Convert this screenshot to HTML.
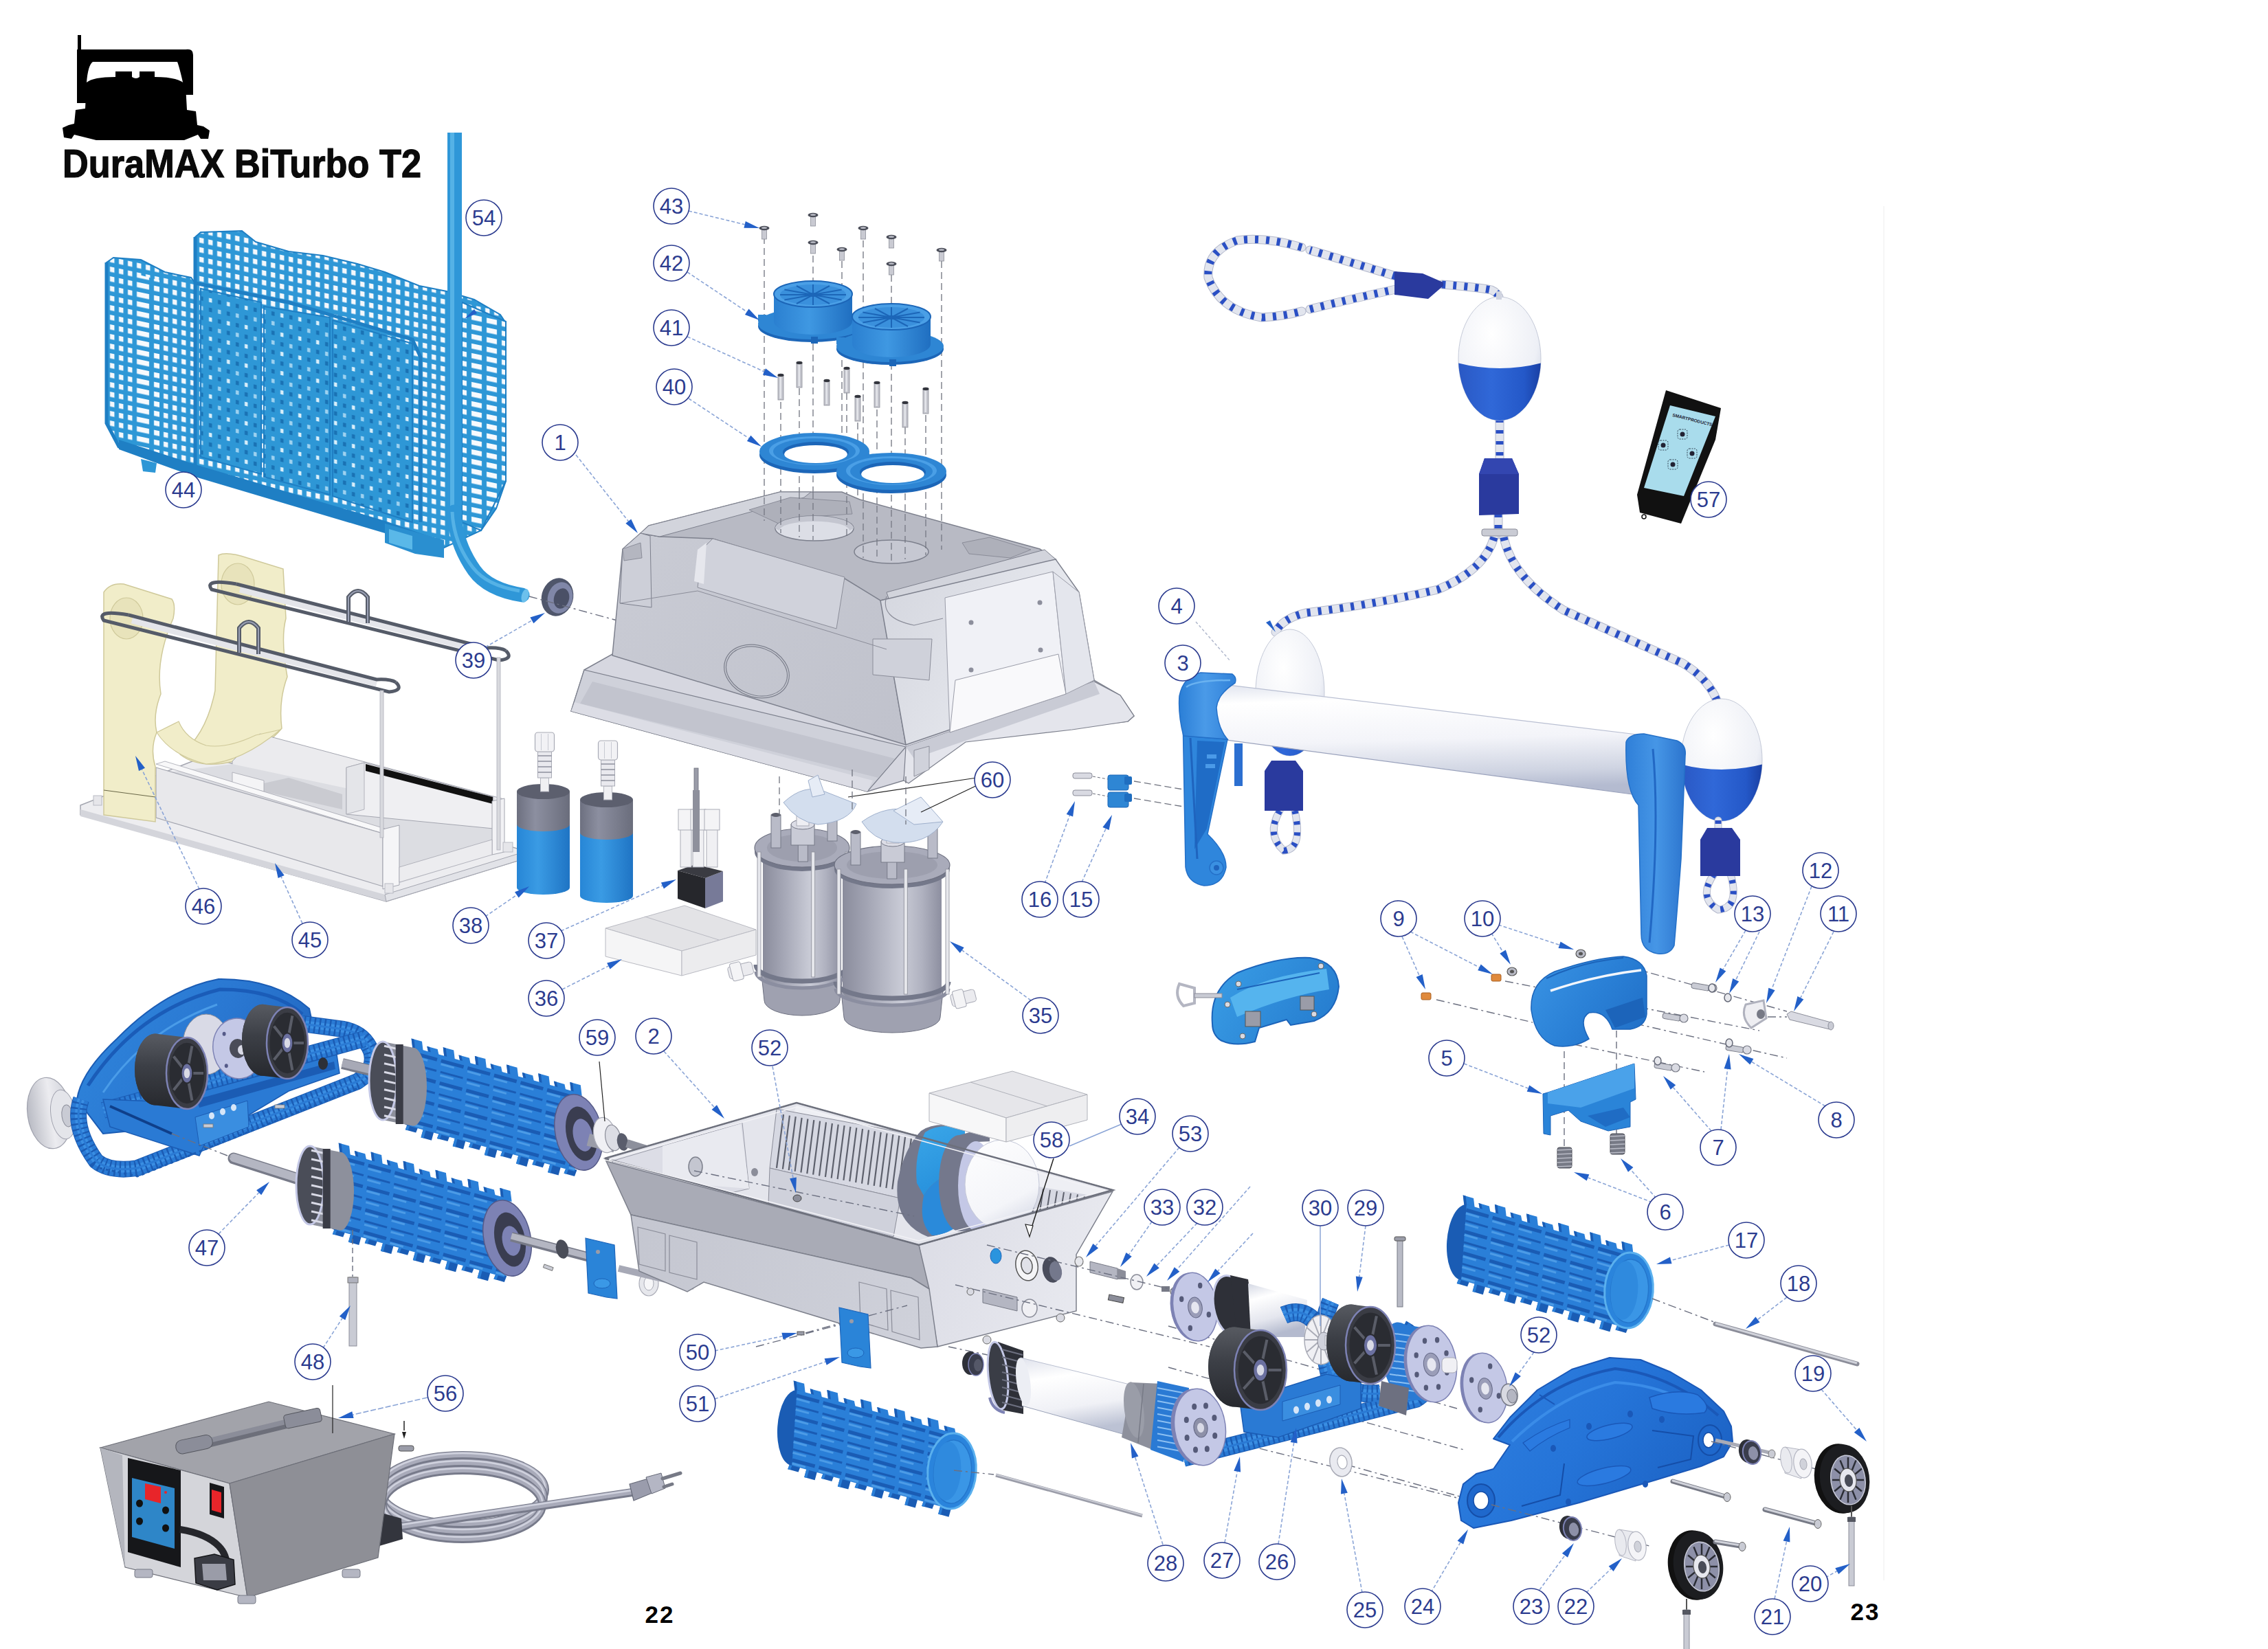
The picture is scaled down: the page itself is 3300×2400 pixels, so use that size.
<!DOCTYPE html><html><head><meta charset="utf-8"><title>DuraMAX BiTurbo T2</title><style>html,body{margin:0;padding:0;background:#fff}
svg{display:block}
text{font-family:"Liberation Sans",sans-serif}
.lb{font-size:31px;fill:#2b3b8f;text-anchor:middle}
.ttl{font-size:57px;font-weight:bold;fill:#0a0a0a;stroke:#0a0a0a;stroke-width:1.2}
.pg{font-size:35px;font-weight:bold;fill:#000;text-anchor:middle;letter-spacing:2px}
</style></head><body><svg width="3300" height="2400" viewBox="0 0 3300 2400"><defs><pattern id="mesh" width="13" height="14" patternUnits="userSpaceOnUse" patternTransform="skewY(12)"><rect width="13" height="14" fill="#2e97d6"/><rect x="4" y="4" width="6.5" height="7.5" fill="#f4f8fc"/></pattern><pattern id="mesh2" width="26" height="28" patternUnits="userSpaceOnUse" patternTransform="skewY(12)"><rect width="26" height="28" fill="#2e97d6"/><rect x="5" y="5" width="4.5" height="6" fill="#1a72b4"/><rect x="18" y="5" width="4.5" height="6" fill="#d8eefa"/><rect x="5" y="19" width="4.5" height="6" fill="#9ed2f0"/><rect x="18" y="19" width="4.5" height="6" fill="#1a72b4"/></pattern><pattern id="mesh3" width="22" height="14" patternUnits="userSpaceOnUse" patternTransform="skewY(12)"><rect width="22" height="14" fill="#2e97d6"/><rect x="4" y="4" width="15" height="7.5" fill="#f7fafd"/></pattern><linearGradient id="c38g752" x1="752" y1="0" x2="829" y2="0" gradientUnits="userSpaceOnUse"><stop offset="0" stop-color="#6d7080"/><stop offset="0.35" stop-color="#8c8fa0"/><stop offset="1" stop-color="#6a6d7c"/></linearGradient><linearGradient id="c38b752" x1="752" y1="0" x2="829" y2="0" gradientUnits="userSpaceOnUse"><stop offset="0" stop-color="#2786d6"/><stop offset="0.4" stop-color="#3a9be4"/><stop offset="1" stop-color="#1f74c4"/></linearGradient><linearGradient id="c38g844" x1="844" y1="0" x2="921" y2="0" gradientUnits="userSpaceOnUse"><stop offset="0" stop-color="#6d7080"/><stop offset="0.35" stop-color="#8c8fa0"/><stop offset="1" stop-color="#6a6d7c"/></linearGradient><linearGradient id="c38b844" x1="844" y1="0" x2="921" y2="0" gradientUnits="userSpaceOnUse"><stop offset="0" stop-color="#2786d6"/><stop offset="0.4" stop-color="#3a9be4"/><stop offset="1" stop-color="#1f74c4"/></linearGradient><linearGradient id="cap1183" x1="1125" y1="0" x2="1241" y2="0" gradientUnits="userSpaceOnUse"><stop offset="0" stop-color="#2a7fd0"/><stop offset="0.45" stop-color="#3f98e2"/><stop offset="1" stop-color="#1f6ec0"/></linearGradient><linearGradient id="cap1297" x1="1239" y1="0" x2="1355" y2="0" gradientUnits="userSpaceOnUse"><stop offset="0" stop-color="#2a7fd0"/><stop offset="0.45" stop-color="#3f98e2"/><stop offset="1" stop-color="#1f6ec0"/></linearGradient><linearGradient id="cvf" x1="900" y1="800" x2="1300" y2="1100" gradientUnits="userSpaceOnUse"><stop offset="0" stop-color="#c9cbd4"/><stop offset="1" stop-color="#c0c2cc"/></linearGradient><linearGradient id="cvr" x1="1300" y1="850" x2="1590" y2="1000" gradientUnits="userSpaceOnUse"><stop offset="0" stop-color="#d6d8e0"/><stop offset="1" stop-color="#eceef3"/></linearGradient><linearGradient id="mot0" x1="1110" y1="0" x2="1224" y2="0" gradientUnits="userSpaceOnUse"><stop offset="0" stop-color="#8a8c9c"/><stop offset="0.25" stop-color="#a3a5b4"/><stop offset="0.6" stop-color="#c9cbd6"/><stop offset="0.8" stop-color="#b0b2c0"/><stop offset="1" stop-color="#8d8fa0"/></linearGradient><linearGradient id="mot1" x1="1226" y1="0" x2="1370" y2="0" gradientUnits="userSpaceOnUse"><stop offset="0" stop-color="#8a8c9c"/><stop offset="0.25" stop-color="#a3a5b4"/><stop offset="0.6" stop-color="#c9cbd6"/><stop offset="0.8" stop-color="#b0b2c0"/><stop offset="1" stop-color="#8d8fa0"/></linearGradient><radialGradient id="fwa" cx="0.4" cy="0.3" r="0.8"><stop offset="0" stop-color="#ffffff"/><stop offset="0.7" stop-color="#eef0f6"/><stop offset="1" stop-color="#c9cfe0"/></radialGradient><linearGradient id="fba" x1="2122" y1="0" x2="2242" y2="0" gradientUnits="userSpaceOnUse"><stop offset="0" stop-color="#2a58c4"/><stop offset="0.4" stop-color="#3068d8"/><stop offset="0.8" stop-color="#2458c8"/><stop offset="1" stop-color="#1a40a4"/></linearGradient><radialGradient id="fwb" cx="0.4" cy="0.3" r="0.8"><stop offset="0" stop-color="#ffffff"/><stop offset="0.7" stop-color="#eef0f6"/><stop offset="1" stop-color="#c9cfe0"/></radialGradient><linearGradient id="fbb" x1="1827" y1="0" x2="1927" y2="0" gradientUnits="userSpaceOnUse"><stop offset="0" stop-color="#2a58c4"/><stop offset="0.4" stop-color="#3068d8"/><stop offset="0.8" stop-color="#2458c8"/><stop offset="1" stop-color="#1a40a4"/></linearGradient><linearGradient id="tube" x1="0" y1="0" x2="0.12" y2="1"><stop offset="0" stop-color="#dfe3ee"/><stop offset="0.18" stop-color="#ffffff"/><stop offset="0.55" stop-color="#f3f4f9"/><stop offset="0.85" stop-color="#cfd4e2"/><stop offset="1" stop-color="#b4bbd0"/></linearGradient><linearGradient id="lbr" x1="1715" y1="0" x2="1800" y2="0" gradientUnits="userSpaceOnUse"><stop offset="0" stop-color="#2a7ed6"/><stop offset="0.45" stop-color="#4a9ae8"/><stop offset="1" stop-color="#2f80d8"/></linearGradient><radialGradient id="fwc" cx="0.4" cy="0.3" r="0.8"><stop offset="0" stop-color="#ffffff"/><stop offset="0.7" stop-color="#eef0f6"/><stop offset="1" stop-color="#c9cfe0"/></radialGradient><linearGradient id="fbc" x1="2446" y1="0" x2="2564" y2="0" gradientUnits="userSpaceOnUse"><stop offset="0" stop-color="#2a58c4"/><stop offset="0.4" stop-color="#3068d8"/><stop offset="0.8" stop-color="#2458c8"/><stop offset="1" stop-color="#1a40a4"/></linearGradient><linearGradient id="rbr" x1="2365" y1="0" x2="2455" y2="0" gradientUnits="userSpaceOnUse"><stop offset="0" stop-color="#2f7fd8"/><stop offset="0.5" stop-color="#4696e6"/><stop offset="1" stop-color="#2a72cc"/></linearGradient><linearGradient id="lat" x1="2225" y1="1400" x2="2400" y2="1520" gradientUnits="userSpaceOnUse"><stop offset="0" stop-color="#3a94e4"/><stop offset="0.5" stop-color="#2a80d6"/><stop offset="1" stop-color="#1f6cc4"/></linearGradient><linearGradient id="lat2" x1="1760" y1="1400" x2="1950" y2="1520" gradientUnits="userSpaceOnUse"><stop offset="0" stop-color="#3a9ee6"/><stop offset="1" stop-color="#2378cc"/></linearGradient><linearGradient id="ww" x1="40" y1="0" x2="110" y2="0" gradientUnits="userSpaceOnUse"><stop offset="0" stop-color="#b9bbc4"/><stop offset="0.5" stop-color="#ececf0"/><stop offset="1" stop-color="#c9cbd4"/></linearGradient><linearGradient id="dome" x1="120" y1="1440" x2="440" y2="1640" gradientUnits="userSpaceOnUse"><stop offset="0" stop-color="#2f86dc"/><stop offset="0.5" stop-color="#2a78d2"/><stop offset="1" stop-color="#1f62bc"/></linearGradient><linearGradient id="bwa" x1="0" y1="1466" x2="0" y2="1570" gradientUnits="userSpaceOnUse"><stop offset="0" stop-color="#55585f"/><stop offset="0.4" stop-color="#3c3f46"/><stop offset="1" stop-color="#26282d"/></linearGradient><linearGradient id="bwb" x1="0" y1="1510" x2="0" y2="1614" gradientUnits="userSpaceOnUse"><stop offset="0" stop-color="#55585f"/><stop offset="0.4" stop-color="#3c3f46"/><stop offset="1" stop-color="#26282d"/></linearGradient><linearGradient id="im" x1="1330" y1="1640" x2="1400" y2="1800" gradientUnits="userSpaceOnUse"><stop offset="0" stop-color="#3aa6e8"/><stop offset="0.5" stop-color="#2a94de"/><stop offset="1" stop-color="#2a84d0"/></linearGradient><linearGradient id="imw" x1="1400" y1="1650" x2="1480" y2="1800" gradientUnits="userSpaceOnUse"><stop offset="0" stop-color="#ffffff"/><stop offset="0.7" stop-color="#f4f5f9"/><stop offset="1" stop-color="#d0d4e2"/></linearGradient><linearGradient id="chr" x1="1340" y1="1800" x2="1600" y2="1900" gradientUnits="userSpaceOnUse"><stop offset="0" stop-color="#dcdde6"/><stop offset="1" stop-color="#e9eaf0"/></linearGradient><linearGradient id="chf" x1="900" y1="1780" x2="1340" y2="1960" gradientUnits="userSpaceOnUse"><stop offset="0" stop-color="#c4c6d0"/><stop offset="1" stop-color="#cfd1da"/></linearGradient><linearGradient id="dmt" x1="0" y1="0" x2="0.3" y2="1"><stop offset="0" stop-color="#d4d8e4"/><stop offset="0.3" stop-color="#ffffff"/><stop offset="0.7" stop-color="#e4e6ee"/><stop offset="1" stop-color="#b4bace"/></linearGradient><linearGradient id="bwc" x1="0" y1="1902" x2="0" y2="2014" gradientUnits="userSpaceOnUse"><stop offset="0" stop-color="#55585f"/><stop offset="0.4" stop-color="#3c3f46"/><stop offset="1" stop-color="#26282d"/></linearGradient><linearGradient id="bwd" x1="0" y1="1936" x2="0" y2="2052" gradientUnits="userSpaceOnUse"><stop offset="0" stop-color="#55585f"/><stop offset="0.4" stop-color="#3c3f46"/><stop offset="1" stop-color="#26282d"/></linearGradient><linearGradient id="r28" x1="0" y1="0" x2="0.22" y2="1"><stop offset="0" stop-color="#dfe2ec"/><stop offset="0.3" stop-color="#ffffff"/><stop offset="0.7" stop-color="#f0f1f6"/><stop offset="1" stop-color="#bcc2d4"/></linearGradient><linearGradient id="sc" x1="2150" y1="1980" x2="2450" y2="2220" gradientUnits="userSpaceOnUse"><stop offset="0" stop-color="#2f80e0"/><stop offset="0.5" stop-color="#2574d8"/><stop offset="1" stop-color="#1c62c4"/></linearGradient></defs><rect width="3300" height="2400" fill="#fff"/><rect x="113.0" y="51.0" width="5.0" height="25.0" fill="#000" />
<path d="M112,72 L270,72 Q281,70 281,80 L281,138 L270,138 Q262,100 258,90 L135,90 Q128,95 126,120 L126,150 L112,150 Z" fill="#000" />
<path d="M126,120 Q135,112 168,112 L168,104 L192,104 L192,112 Q198,116 203,112 L203,104 L225,104 L225,112 Q262,112 270,124 L272,160 L285,162 L287,182 L296,184 L305,190 L303,202 L292,202 L288,196 L268,204 L140,204 L108,196 L104,202 L93,200 L91,186 L100,182 L108,180 L110,160 L124,158 Z" fill="#000" />
<text x="91" y="257.5" class="ttl" textLength="522" lengthAdjust="spacingAndGlyphs">DuraMAX BiTurbo T2</text>
<text x="960" y="2362" class="pg">22</text>
<text x="2714" y="2358" class="pg">23</text>
<line x1="2741.0" y1="300.0" x2="2741.0" y2="2300.0" stroke="#f3f3f3" stroke-width="1.5" />
<polygon points="284.0,345.0 292.0,338.0 352.0,336.0 372.0,352.0 420.0,366.0 470.0,372.0 520.0,384.0 560.0,396.0 610.0,416.0 650.0,424.0 690.0,436.0 728.0,458.0 736.0,470.0 736.0,700.0 722.0,740.0 700.0,772.0 640.0,800.0 610.0,792.0 560.0,772.0 284.0,690.0" fill="url(#mesh)" stroke="#1f7fc4" stroke-width="2" />
<polygon points="672.0,440.0 736.0,468.0 736.0,700.0 700.0,772.0 672.0,760.0" fill="url(#mesh3)" stroke="#1f7fc4" stroke-width="2" />
<polygon points="155.0,382.0 165.0,375.0 205.0,378.0 240.0,396.0 278.0,404.0 284.0,412.0 284.0,690.0 255.0,680.0 173.0,650.0 155.0,616.0" fill="url(#mesh)" stroke="#1f7fc4" stroke-width="2" />
<polygon points="203.0,400.0 232.0,408.0 232.0,660.0 203.0,652.0" fill="url(#mesh3)" />
<polygon points="292.0,420.0 380.0,440.0 380.0,690.0 292.0,665.0" fill="url(#mesh2)" stroke="#1f7fc4" stroke-width="2" />
<polygon points="384.0,446.0 480.0,462.0 480.0,720.0 384.0,694.0" fill="url(#mesh2)" stroke="#1f7fc4" stroke-width="2" />
<polygon points="484.0,466.0 600.0,500.0 600.0,760.0 484.0,722.0" fill="url(#mesh2)" stroke="#1f7fc4" stroke-width="2" />
<polyline points="284.0,345.0 284.0,690.0" fill="none" stroke="#1f7fc4" stroke-width="5" />
<polyline points="284.0,412.0 420.0,440.0 600.0,494.0 612.0,520.0 612.0,760.0" fill="none" stroke="#1f7fc4" stroke-width="5" />
<polyline points="155.0,382.0 155.0,616.0 173.0,650.0 284.0,690.0 560.0,772.0 640.0,800.0" fill="none" stroke="#1f7fc4" stroke-width="5" />
<polygon points="173.0,640.0 284.0,676.0 560.0,758.0 640.0,786.0 640.0,802.0 560.0,776.0 284.0,694.0 173.0,654.0" fill="#1f7fc4" />
<polygon points="205.0,668.0 228.0,674.0 226.0,688.0 208.0,686.0" fill="#2e97d6" />
<polygon points="560.0,762.0 646.0,786.0 646.0,812.0 604.0,806.0 560.0,790.0" fill="#2a8fd0" />
<polygon points="566.0,770.0 600.0,780.0 600.0,800.0 566.0,790.0" fill="#5ab8e8" />
<rect x="651.0" y="193.0" width="21.0" height="560.0" fill="#2f97d8" />
<rect x="655.0" y="193.0" width="6.0" height="560.0" fill="#55b2e6" />
<path d="M661,745 Q662,790 690,830 Q710,858 760,866" fill="none" stroke="#2f97d8" stroke-width="21" stroke-linecap="round"/>
<path d="M658,745 Q660,790 688,826 Q708,852 756,860" fill="none" stroke="#55b2e6" stroke-width="5" />
<ellipse cx="764.0" cy="867.0" rx="5.0" ry="10.0" fill="#6cc0ec" transform="rotate(15.0 764.0 867.0)" />
<ellipse cx="811.0" cy="869.0" rx="23.0" ry="28.0" fill="#4f566b" transform="rotate(15.0 811.0 869.0)" />
<ellipse cx="815.0" cy="870.0" rx="18.0" ry="23.0" fill="#8087a8" transform="rotate(15.0 815.0 870.0)" />
<ellipse cx="817.0" cy="871.0" rx="11.0" ry="15.0" fill="#4a5066" transform="rotate(15.0 817.0 871.0)" />
<line x1="770.0" y1="868.0" x2="905.0" y2="905.0" stroke="#6c7080" stroke-width="1.4" stroke-dasharray="12 5 3 5"/>
<polygon points="117.0,1172.0 300.0,1100.0 756.0,1236.0 756.0,1252.0 562.0,1312.0 117.0,1186.0" fill="#ededf0" stroke="#a4a6b0" stroke-width="1.5" />
<polygon points="117.0,1178.0 560.0,1302.0 562.0,1312.0 117.0,1188.0" fill="#d4d5db" />
<polygon points="560.0,1302.0 756.0,1242.0 756.0,1252.0 562.0,1312.0" fill="#e2e3e8" stroke="#a4a6b0" stroke-width="1" />
<path d="M318,808 Q330,802 360,812 L412,828 L416,900 Q408,930 418,985 Q405,1020 410,1060 Q390,1085 340,1108 Q290,1120 262,1098 Q300,1070 313,1005 Z" fill="#f1edc9" stroke="#cfc99a" stroke-width="1.5" />
<ellipse cx="346.0" cy="850.0" rx="24.0" ry="30.0" fill="#e8e3bb" stroke="#cfc99a" stroke-width="1.2" />
<polygon points="338.0,1108.0 378.0,1068.0 733.0,1163.0 733.0,1236.0 560.0,1200.0 338.0,1140.0" fill="#ebebee" stroke="#a4a6b0" stroke-width="1" />
<polygon points="232.0,1126.0 338.0,1112.0 733.0,1196.0 733.0,1238.0 560.0,1292.0" fill="#dcdde2" />
<polygon points="504.0,1117.0 530.0,1110.0 718.0,1160.0 718.0,1206.0 504.0,1185.0" fill="#efeff2" stroke="#a4a6b0" stroke-width="1" />
<polygon points="504.0,1117.0 530.0,1110.0 530.0,1178.0 504.0,1185.0" fill="#e4e5e9" stroke="#a4a6b0" stroke-width="0.8" />
<polygon points="532.0,1112.0 717.0,1160.0 717.0,1170.0 532.0,1122.0" fill="#111" />
<polygon points="384.0,1140.0 420.0,1132.0 498.0,1156.0 498.0,1178.0 384.0,1152.0" fill="#cacbd1" />
<polygon points="338.0,1124.0 384.0,1136.0 384.0,1152.0 338.0,1140.0" fill="#f4f4f6" stroke="#a4a6b0" stroke-width="0.8" />
<polygon points="227.0,1112.0 240.0,1108.0 560.0,1206.0 557.0,1213.0" fill="#f8f8f9" stroke="#a4a6b0" stroke-width="0.8" />
<polygon points="227.0,1117.0 557.0,1213.0 557.0,1290.0 227.0,1190.0" fill="#e8e8eb" stroke="#a4a6b0" stroke-width="1.2" />
<polygon points="557.0,1207.0 581.0,1201.0 581.0,1288.0 557.0,1294.0" fill="#f5f5f7" stroke="#a4a6b0" stroke-width="1" />
<polygon points="716.0,1166.0 734.0,1162.0 734.0,1240.0 716.0,1244.0" fill="#f2f2f5" stroke="#a4a6b0" stroke-width="1" />
<polygon points="581.0,1262.0 716.0,1222.0 716.0,1244.0 581.0,1284.0" fill="#ececef" stroke="#a4a6b0" stroke-width="0.8" />
<path d="M151,862 Q160,848 180,850 L250,872 Q256,880 252,900 Q226,960 234,1010 Q222,1040 228,1066 Q218,1090 226,1116 L226,1196 L151,1186 Z" fill="#f1edc9" stroke="#cfc99a" stroke-width="1.5" />
<ellipse cx="184.0" cy="900.0" rx="24.0" ry="30.0" fill="#e8e3bb" stroke="#cfc99a" stroke-width="1.2" />
<line x1="151.0" y1="1150.0" x2="226.0" y2="1160.0" stroke="#6a6848" stroke-width="1.2" />
<path d="M228,1066 Q250,1100 300,1112 Q350,1110 408,1062 L372,1070 Q330,1090 300,1085 Q270,1075 260,1050 Z" fill="#f1edc9" stroke="#cfc99a" stroke-width="1.2" />
<path d="M192,903 L548,995" fill="none" stroke="#e4e5ea" stroke-width="9" />
<path d="M187,895 Q139,887 151,903 L566,1007 Q588,1005 576,993" fill="none" stroke="#555b68" stroke-width="5" />
<path d="M187,895 L548,989 Q568,988 576,993" fill="none" stroke="#555b68" stroke-width="5" />
<path d="M348,950 L348,914 Q362,896 376,914 L376,952" fill="none" stroke="#555b68" stroke-width="6" />
<path d="M348,950 L348,914 Q362,896 376,914 L376,952" fill="none" stroke="#9aa0b4" stroke-width="2" />
<path d="M349,858 L708,949" fill="none" stroke="#e4e5ea" stroke-width="9" />
<path d="M344,850 Q296,842 308,858 L726,961 Q748,959 736,947" fill="none" stroke="#555b68" stroke-width="5" />
<path d="M344,850 L708,943 Q728,942 736,947" fill="none" stroke="#555b68" stroke-width="5" />
<path d="M507,905 L507,869 Q521,851 535,869 L535,907" fill="none" stroke="#555b68" stroke-width="6" />
<path d="M507,905 L507,869 Q521,851 535,869 L535,907" fill="none" stroke="#9aa0b4" stroke-width="2" />
<rect x="553.0" y="1005.0" width="5.0" height="214.0" fill="#d8d9de" stroke="#aeb0ba" stroke-width="0.8" />
<rect x="723.0" y="957.0" width="5.0" height="280.0" fill="#d8d9de" stroke="#aeb0ba" stroke-width="0.8" />
<rect x="136.0" y="1158.0" width="12.0" height="14.0" fill="#e6e6ea" stroke="#b9bbc4" stroke-width="1" />
<rect x="732.0" y="1226.0" width="14.0" height="14.0" fill="#e6e6ea" stroke="#b9bbc4" stroke-width="1" />
<rect x="560.0" y="1286.0" width="12.0" height="14.0" fill="#e6e6ea" stroke="#b9bbc4" stroke-width="1" />
<path d="M752,1200 L752,1292 A38.5,10 0 0 0 829,1292 L829,1200 Z" fill="url(#c38b752)" />
<path d="M752,1152 L752,1200 A38.5,10 0 0 0 829,1200 L829,1152 Z" fill="url(#c38g752)" />
<ellipse cx="790.5" cy="1152.0" rx="38.5" ry="11.0" fill="#5c5f6e" />
<rect x="786.5" y="1132.0" width="12.0" height="20.0" fill="#f0f0f3" stroke="#b5b7c0" stroke-width="1" />
<rect x="782.5" y="1094.0" width="20.0" height="38.0" fill="#e9e9ee" stroke="#a9abb6" stroke-width="1" />
<line x1="782.5" y1="1100.0" x2="802.5" y2="1100.0" stroke="#8d8f9c" stroke-width="1.5" />
<line x1="782.5" y1="1108.0" x2="802.5" y2="1108.0" stroke="#8d8f9c" stroke-width="1.5" />
<line x1="782.5" y1="1116.0" x2="802.5" y2="1116.0" stroke="#8d8f9c" stroke-width="1.5" />
<line x1="782.5" y1="1124.0" x2="802.5" y2="1124.0" stroke="#8d8f9c" stroke-width="1.5" />
<rect x="778.5" y="1066.0" width="28.0" height="28.0" fill="#f2f2f5" stroke="#a9abb6" stroke-width="1.2" rx="4"/>
<line x1="787.5" y1="1068.0" x2="787.5" y2="1092.0" stroke="#c8cad2" stroke-width="1" />
<line x1="797.5" y1="1068.0" x2="797.5" y2="1092.0" stroke="#c8cad2" stroke-width="1" />
<path d="M844,1212 L844,1304 A38.5,10 0 0 0 921,1304 L921,1212 Z" fill="url(#c38b844)" />
<path d="M844,1164 L844,1212 A38.5,10 0 0 0 921,1212 L921,1164 Z" fill="url(#c38g844)" />
<ellipse cx="882.5" cy="1164.0" rx="38.5" ry="11.0" fill="#5c5f6e" />
<rect x="878.5" y="1144.0" width="12.0" height="20.0" fill="#f0f0f3" stroke="#b5b7c0" stroke-width="1" />
<rect x="874.5" y="1106.0" width="20.0" height="38.0" fill="#e9e9ee" stroke="#a9abb6" stroke-width="1" />
<line x1="874.5" y1="1112.0" x2="894.5" y2="1112.0" stroke="#8d8f9c" stroke-width="1.5" />
<line x1="874.5" y1="1120.0" x2="894.5" y2="1120.0" stroke="#8d8f9c" stroke-width="1.5" />
<line x1="874.5" y1="1128.0" x2="894.5" y2="1128.0" stroke="#8d8f9c" stroke-width="1.5" />
<line x1="874.5" y1="1136.0" x2="894.5" y2="1136.0" stroke="#8d8f9c" stroke-width="1.5" />
<rect x="870.5" y="1078.0" width="28.0" height="28.0" fill="#f2f2f5" stroke="#a9abb6" stroke-width="1.2" rx="4"/>
<line x1="879.5" y1="1080.0" x2="879.5" y2="1104.0" stroke="#c8cad2" stroke-width="1" />
<line x1="889.5" y1="1080.0" x2="889.5" y2="1104.0" stroke="#c8cad2" stroke-width="1" />
<line x1="1112.0" y1="345.0" x2="1112.0" y2="760.0" stroke="#70737f" stroke-width="1.3" stroke-dasharray="10 6"/>
<line x1="1183.0" y1="372.0" x2="1183.0" y2="790.0" stroke="#70737f" stroke-width="1.3" stroke-dasharray="10 6"/>
<line x1="1225.0" y1="380.0" x2="1225.0" y2="700.0" stroke="#70737f" stroke-width="1.3" stroke-dasharray="10 6"/>
<line x1="1256.0" y1="350.0" x2="1256.0" y2="790.0" stroke="#70737f" stroke-width="1.3" stroke-dasharray="10 6"/>
<line x1="1297.0" y1="400.0" x2="1297.0" y2="810.0" stroke="#70737f" stroke-width="1.3" stroke-dasharray="10 6"/>
<line x1="1370.0" y1="380.0" x2="1370.0" y2="830.0" stroke="#70737f" stroke-width="1.3" stroke-dasharray="10 6"/>
<line x1="1136.0" y1="585.0" x2="1136.0" y2="800.0" stroke="#70737f" stroke-width="1.3" stroke-dasharray="10 6"/>
<line x1="1163.0" y1="565.0" x2="1163.0" y2="800.0" stroke="#70737f" stroke-width="1.3" stroke-dasharray="10 6"/>
<line x1="1232.0" y1="572.0" x2="1232.0" y2="800.0" stroke="#70737f" stroke-width="1.3" stroke-dasharray="10 6"/>
<line x1="1248.0" y1="615.0" x2="1248.0" y2="830.0" stroke="#70737f" stroke-width="1.3" stroke-dasharray="10 6"/>
<line x1="1276.0" y1="596.0" x2="1276.0" y2="830.0" stroke="#70737f" stroke-width="1.3" stroke-dasharray="10 6"/>
<line x1="1317.0" y1="622.0" x2="1317.0" y2="830.0" stroke="#70737f" stroke-width="1.3" stroke-dasharray="10 6"/>
<line x1="1347.0" y1="604.0" x2="1347.0" y2="830.0" stroke="#70737f" stroke-width="1.3" stroke-dasharray="10 6"/>
<rect x="1108.5" y="332.0" width="7.0" height="16.0" fill="#c9cad2" stroke="#8d8f9a" stroke-width="0.8" />
<ellipse cx="1112.0" cy="332.0" rx="7.5" ry="3.2" fill="#4a4d58" />
<ellipse cx="1112.0" cy="331.5" rx="4.0" ry="1.6" fill="#b0b2bc" />
<rect x="1179.5" y="313.0" width="7.0" height="16.0" fill="#c9cad2" stroke="#8d8f9a" stroke-width="0.8" />
<ellipse cx="1183.0" cy="313.0" rx="7.5" ry="3.2" fill="#4a4d58" />
<ellipse cx="1183.0" cy="312.5" rx="4.0" ry="1.6" fill="#b0b2bc" />
<rect x="1179.5" y="353.0" width="7.0" height="16.0" fill="#c9cad2" stroke="#8d8f9a" stroke-width="0.8" />
<ellipse cx="1183.0" cy="353.0" rx="7.5" ry="3.2" fill="#4a4d58" />
<ellipse cx="1183.0" cy="352.5" rx="4.0" ry="1.6" fill="#b0b2bc" />
<rect x="1221.5" y="363.0" width="7.0" height="16.0" fill="#c9cad2" stroke="#8d8f9a" stroke-width="0.8" />
<ellipse cx="1225.0" cy="363.0" rx="7.5" ry="3.2" fill="#4a4d58" />
<ellipse cx="1225.0" cy="362.5" rx="4.0" ry="1.6" fill="#b0b2bc" />
<rect x="1252.5" y="332.0" width="7.0" height="16.0" fill="#c9cad2" stroke="#8d8f9a" stroke-width="0.8" />
<ellipse cx="1256.0" cy="332.0" rx="7.5" ry="3.2" fill="#4a4d58" />
<ellipse cx="1256.0" cy="331.5" rx="4.0" ry="1.6" fill="#b0b2bc" />
<rect x="1293.5" y="345.0" width="7.0" height="16.0" fill="#c9cad2" stroke="#8d8f9a" stroke-width="0.8" />
<ellipse cx="1297.0" cy="345.0" rx="7.5" ry="3.2" fill="#4a4d58" />
<ellipse cx="1297.0" cy="344.5" rx="4.0" ry="1.6" fill="#b0b2bc" />
<rect x="1293.5" y="384.0" width="7.0" height="16.0" fill="#c9cad2" stroke="#8d8f9a" stroke-width="0.8" />
<ellipse cx="1297.0" cy="384.0" rx="7.5" ry="3.2" fill="#4a4d58" />
<ellipse cx="1297.0" cy="383.5" rx="4.0" ry="1.6" fill="#b0b2bc" />
<rect x="1366.5" y="364.0" width="7.0" height="16.0" fill="#c9cad2" stroke="#8d8f9a" stroke-width="0.8" />
<ellipse cx="1370.0" cy="364.0" rx="7.5" ry="3.2" fill="#4a4d58" />
<ellipse cx="1370.0" cy="363.5" rx="4.0" ry="1.6" fill="#b0b2bc" />
<ellipse cx="1181.0" cy="475.0" rx="78.0" ry="23.0" fill="#1c66b8" />
<ellipse cx="1181.0" cy="471.0" rx="78.0" ry="23.0" fill="#2e86d4" />
<rect x="1180.0" y="490.0" width="10.0" height="10.0" fill="#1c66b8" />
<rect x="1103.0" y="458.0" width="12.0" height="10.0" fill="#2e86d4" />
<path d="M1126,428 L1126,468 A57,19 0 0 0 1240,468 L1240,428 Z" fill="url(#cap1183)" />
<ellipse cx="1183.0" cy="428.0" rx="57.0" ry="19.0" fill="#4a9fe6" stroke="#1c66b8" stroke-width="2" />
<ellipse cx="1183.0" cy="429.0" rx="48.0" ry="15.0" fill="#3a90dc" />
<line x1="1135.0" y1="429.0" x2="1231.0" y2="429.0" stroke="#1c66b8" stroke-width="2" />
<line x1="1141.4" y1="421.5" x2="1224.6" y2="436.5" stroke="#1c66b8" stroke-width="2" />
<line x1="1159.0" y1="416.0" x2="1207.0" y2="442.0" stroke="#1c66b8" stroke-width="2" />
<line x1="1183.0" y1="414.0" x2="1183.0" y2="444.0" stroke="#1c66b8" stroke-width="2" />
<line x1="1207.0" y1="416.0" x2="1159.0" y2="442.0" stroke="#1c66b8" stroke-width="2" />
<line x1="1224.6" y1="421.5" x2="1141.4" y2="436.5" stroke="#1c66b8" stroke-width="2" />
<ellipse cx="1183.0" cy="429.0" rx="8.0" ry="3.0" fill="#1c66b8" />
<ellipse cx="1295.0" cy="508.0" rx="78.0" ry="23.0" fill="#1c66b8" />
<ellipse cx="1295.0" cy="504.0" rx="78.0" ry="23.0" fill="#2e86d4" />
<rect x="1294.0" y="523.0" width="10.0" height="10.0" fill="#1c66b8" />
<rect x="1217.0" y="491.0" width="12.0" height="10.0" fill="#2e86d4" />
<path d="M1240,461 L1240,501 A57,19 0 0 0 1354,501 L1354,461 Z" fill="url(#cap1297)" />
<ellipse cx="1297.0" cy="461.0" rx="57.0" ry="19.0" fill="#4a9fe6" stroke="#1c66b8" stroke-width="2" />
<ellipse cx="1297.0" cy="462.0" rx="48.0" ry="15.0" fill="#3a90dc" />
<line x1="1249.0" y1="462.0" x2="1345.0" y2="462.0" stroke="#1c66b8" stroke-width="2" />
<line x1="1255.4" y1="454.5" x2="1338.6" y2="469.5" stroke="#1c66b8" stroke-width="2" />
<line x1="1273.0" y1="449.0" x2="1321.0" y2="475.0" stroke="#1c66b8" stroke-width="2" />
<line x1="1297.0" y1="447.0" x2="1297.0" y2="477.0" stroke="#1c66b8" stroke-width="2" />
<line x1="1321.0" y1="449.0" x2="1273.0" y2="475.0" stroke="#1c66b8" stroke-width="2" />
<line x1="1338.6" y1="454.5" x2="1255.4" y2="469.5" stroke="#1c66b8" stroke-width="2" />
<ellipse cx="1297.0" cy="462.0" rx="8.0" ry="3.0" fill="#1c66b8" />
<rect x="1132.0" y="546.0" width="8.0" height="36.0" fill="#c3c4cc" stroke="#8d8f9a" stroke-width="0.8" />
<rect x="1134.5" y="548.0" width="2.5" height="32.0" fill="#e4e5ea" />
<ellipse cx="1136.0" cy="546.0" rx="4.5" ry="2.2" fill="#33353d" />
<rect x="1159.0" y="528.0" width="8.0" height="36.0" fill="#c3c4cc" stroke="#8d8f9a" stroke-width="0.8" />
<rect x="1161.5" y="530.0" width="2.5" height="32.0" fill="#e4e5ea" />
<ellipse cx="1163.0" cy="528.0" rx="4.5" ry="2.2" fill="#33353d" />
<rect x="1199.0" y="554.0" width="8.0" height="36.0" fill="#c3c4cc" stroke="#8d8f9a" stroke-width="0.8" />
<rect x="1201.5" y="556.0" width="2.5" height="32.0" fill="#e4e5ea" />
<ellipse cx="1203.0" cy="554.0" rx="4.5" ry="2.2" fill="#33353d" />
<rect x="1228.0" y="536.0" width="8.0" height="36.0" fill="#c3c4cc" stroke="#8d8f9a" stroke-width="0.8" />
<rect x="1230.5" y="538.0" width="2.5" height="32.0" fill="#e4e5ea" />
<ellipse cx="1232.0" cy="536.0" rx="4.5" ry="2.2" fill="#33353d" />
<rect x="1244.0" y="577.0" width="8.0" height="36.0" fill="#c3c4cc" stroke="#8d8f9a" stroke-width="0.8" />
<rect x="1246.5" y="579.0" width="2.5" height="32.0" fill="#e4e5ea" />
<ellipse cx="1248.0" cy="577.0" rx="4.5" ry="2.2" fill="#33353d" />
<rect x="1272.0" y="557.0" width="8.0" height="36.0" fill="#c3c4cc" stroke="#8d8f9a" stroke-width="0.8" />
<rect x="1274.5" y="559.0" width="2.5" height="32.0" fill="#e4e5ea" />
<ellipse cx="1276.0" cy="557.0" rx="4.5" ry="2.2" fill="#33353d" />
<rect x="1313.0" y="586.0" width="8.0" height="36.0" fill="#c3c4cc" stroke="#8d8f9a" stroke-width="0.8" />
<rect x="1315.5" y="588.0" width="2.5" height="32.0" fill="#e4e5ea" />
<ellipse cx="1317.0" cy="586.0" rx="4.5" ry="2.2" fill="#33353d" />
<rect x="1343.0" y="566.0" width="8.0" height="36.0" fill="#c3c4cc" stroke="#8d8f9a" stroke-width="0.8" />
<rect x="1345.5" y="568.0" width="2.5" height="32.0" fill="#e4e5ea" />
<ellipse cx="1347.0" cy="566.0" rx="4.5" ry="2.2" fill="#33353d" />
<ellipse cx="1185.0" cy="662.0" rx="80.0" ry="27.0" fill="#1c66b8" />
<ellipse cx="1185.0" cy="657.0" rx="80.0" ry="27.0" fill="#2e86d4" />
<ellipse cx="1185.0" cy="656.0" rx="66.0" ry="21.0" fill="#4a9fe6" />
<ellipse cx="1185.0" cy="657.0" rx="60.0" ry="19.0" fill="#2e86d4" />
<ellipse cx="1187.0" cy="658.0" rx="48.0" ry="15.0" fill="#1c66b8" />
<ellipse cx="1187.0" cy="661.0" rx="46.0" ry="13.0" fill="#fff" />
<ellipse cx="1297.0" cy="691.0" rx="80.0" ry="27.0" fill="#1c66b8" />
<ellipse cx="1297.0" cy="686.0" rx="80.0" ry="27.0" fill="#2e86d4" />
<ellipse cx="1297.0" cy="685.0" rx="66.0" ry="21.0" fill="#4a9fe6" />
<ellipse cx="1297.0" cy="686.0" rx="60.0" ry="19.0" fill="#2e86d4" />
<ellipse cx="1299.0" cy="687.0" rx="48.0" ry="15.0" fill="#1c66b8" />
<ellipse cx="1299.0" cy="690.0" rx="46.0" ry="13.0" fill="#fff" />
<polygon points="850.0,975.0 891.0,952.0 1318.0,1082.0 1592.0,990.0 1630.0,1012.0 1650.0,1042.0 1641.0,1050.0 1405.0,1078.0 1320.0,1090.0 1315.0,1136.0 1262.0,1152.0 831.0,1035.0" fill="#d6d7e0" stroke="#7d808d" stroke-width="1.5" />
<polygon points="831.0,1035.0 850.0,975.0 1318.0,1087.0 1262.0,1152.0" fill="#cfd1da" stroke="#7d808d" stroke-width="1.2" />
<polygon points="862.0,992.0 1302.0,1104.0 1278.0,1132.0 844.0,1024.0" fill="#c2c4ce" />
<polygon points="836.0,1022.0 1270.0,1136.0 1262.0,1152.0 831.0,1035.0" fill="#dcdde5" />
<polygon points="1318.0,1087.0 1592.0,992.0 1630.0,1012.0 1650.0,1042.0 1641.0,1050.0 1560.0,1062.0 1405.0,1080.0 1322.0,1140.0 1315.0,1136.0" fill="#e4e5ec" stroke="#7d808d" stroke-width="1.2" />
<polygon points="1318.0,1087.0 1592.0,992.0 1600.0,1010.0 1330.0,1104.0" fill="#c9cbd5" />
<polygon points="1330.0,1092.0 1352.0,1086.0 1352.0,1120.0 1330.0,1130.0" fill="#d0d2db" stroke="#7d808d" stroke-width="0.8" />
<polygon points="906.0,799.0 932.0,776.0 960.0,781.0 1037.0,782.0 1229.0,836.0 1281.0,870.0 1318.0,1084.0 891.0,954.0" fill="url(#cvf)" stroke="#7d808d" stroke-width="1.5" />
<polygon points="932.0,776.0 944.0,765.0 1135.0,716.0 1225.0,716.0 1251.0,727.0 1513.0,799.0 1536.0,814.0 1281.0,874.0 1229.0,842.0 1037.0,784.0 960.0,781.0" fill="#b8bac4" stroke="#7d808d" stroke-width="1.5" />
<polygon points="932.0,776.0 944.0,765.0 1135.0,716.0 1180.0,716.0 1170.0,724.0 960.0,781.0" fill="#d2d4dc" stroke="#7d808d" stroke-width="1" />
<polygon points="1090.0,742.0 1150.0,724.0 1236.0,730.0 1240.0,748.0 1180.0,752.0 1150.0,770.0" fill="#aeb0ba" stroke="#8b8d99" stroke-width="1" />
<polygon points="1400.0,790.0 1440.0,782.0 1500.0,800.0 1470.0,812.0 1410.0,806.0" fill="#aeb0ba" stroke="#8b8d99" stroke-width="1" />
<polygon points="1290.0,862.0 1520.0,800.0 1536.0,814.0 1296.0,880.0" fill="#d2d4dc" stroke="#7d808d" stroke-width="1" />
<polygon points="906.0,799.0 932.0,776.0 946.0,780.0 948.0,884.0 902.0,878.0" fill="#cdcfd8" stroke="#7d808d" stroke-width="1" />
<polygon points="906.0,799.0 932.0,790.0 934.0,812.0 908.0,816.0" fill="#b4b6c0" stroke="#7d808d" stroke-width="0.8" />
<polygon points="1281.0,874.0 1536.0,814.0 1570.0,862.0 1592.0,990.0 1318.0,1084.0" fill="url(#cvr)" stroke="#7d808d" stroke-width="1.5" />
<polygon points="1375.0,870.0 1532.0,832.0 1551.0,1010.0 1382.0,1066.0" fill="#f0f1f6" stroke="#9a9ca8" stroke-width="1" />
<polygon points="1390.0,990.0 1540.0,952.0 1551.0,1010.0 1382.0,1066.0" fill="#f9f9fb" stroke="#9a9ca8" stroke-width="1" />
<polygon points="1532.0,832.0 1570.0,862.0 1592.0,990.0 1551.0,1010.0" fill="#e4e6ed" stroke="#9a9ca8" stroke-width="1" />
<polygon points="1270.0,930.0 1356.0,930.0 1352.0,990.0 1270.0,982.0" fill="#cfd1da" stroke="#8b8d99" stroke-width="1" />
<path d="M1290,868 Q1280,900 1330,910 L1372,900" fill="none" stroke="#8b8d99" stroke-width="1.2" />
<ellipse cx="1413.0" cy="906.0" rx="3.5" ry="3.5" fill="#8d8f9c" />
<ellipse cx="1513.0" cy="877.0" rx="3.5" ry="3.5" fill="#8d8f9c" />
<ellipse cx="1413.0" cy="975.0" rx="3.5" ry="3.5" fill="#8d8f9c" />
<ellipse cx="1514.0" cy="946.0" rx="3.5" ry="3.5" fill="#8d8f9c" />
<polygon points="1022.0,799.0 1037.0,784.0 1229.0,840.0 1217.0,915.0 1015.0,855.0" fill="#d0d2db" stroke="#8b8d99" stroke-width="1" />
<polygon points="1015.0,800.0 1028.0,790.0 1024.0,850.0 1010.0,846.0" fill="#e6e7ed" />
<polyline points="902.0,878.0 1015.0,860.0 1290.0,945.0" fill="none" stroke="#8b8d99" stroke-width="1" />
<ellipse cx="1185.0" cy="769.0" rx="57.0" ry="18.0" fill="#dcdee6" stroke="#7d808d" stroke-width="1.5" />
<path d="M1128,769 A57,18 0 0 1 1242,769 L1236,772 A50,13 0 0 0 1134,772 Z" fill="#c4c6d0" />
<ellipse cx="1297.0" cy="803.0" rx="54.0" ry="17.0" fill="#c6c8d2" stroke="#7d808d" stroke-width="1.5" />
<line x1="1136.0" y1="722.0" x2="1136.0" y2="776.0" stroke="#70737f" stroke-width="1.2" stroke-dasharray="10 6"/>
<line x1="1163.0" y1="716.0" x2="1163.0" y2="782.0" stroke="#70737f" stroke-width="1.2" stroke-dasharray="10 6"/>
<line x1="1183.0" y1="716.0" x2="1183.0" y2="786.0" stroke="#70737f" stroke-width="1.2" stroke-dasharray="10 6"/>
<line x1="1232.0" y1="722.0" x2="1232.0" y2="780.0" stroke="#70737f" stroke-width="1.2" stroke-dasharray="10 6"/>
<line x1="1256.0" y1="730.0" x2="1256.0" y2="812.0" stroke="#70737f" stroke-width="1.2" stroke-dasharray="10 6"/>
<line x1="1276.0" y1="736.0" x2="1276.0" y2="816.0" stroke="#70737f" stroke-width="1.2" stroke-dasharray="10 6"/>
<line x1="1297.0" y1="742.0" x2="1297.0" y2="818.0" stroke="#70737f" stroke-width="1.2" stroke-dasharray="10 6"/>
<line x1="1317.0" y1="748.0" x2="1317.0" y2="814.0" stroke="#70737f" stroke-width="1.2" stroke-dasharray="10 6"/>
<line x1="1347.0" y1="756.0" x2="1347.0" y2="808.0" stroke="#70737f" stroke-width="1.2" stroke-dasharray="10 6"/>
<line x1="1112.0" y1="724.0" x2="1112.0" y2="758.0" stroke="#70737f" stroke-width="1.2" stroke-dasharray="10 6"/>
<line x1="1370.0" y1="762.0" x2="1370.0" y2="800.0" stroke="#70737f" stroke-width="1.2" stroke-dasharray="10 6"/>
<ellipse cx="1101.0" cy="977.0" rx="47.0" ry="36.0" fill="none" stroke="#7d808d" stroke-width="4" transform="rotate(20.0 1101.0 977.0)" />
<ellipse cx="1101.0" cy="977.0" rx="47.0" ry="36.0" fill="none" stroke="#c9cbd4" stroke-width="1.5" transform="rotate(20.0 1101.0 977.0)" />
<line x1="838.0" y1="662.0" x2="914.4" y2="758.7" stroke="#8aa4d6" stroke-width="1.6"  stroke-dasharray="5 3"/>
<polygon points="928.0,776.0 910.4,761.8 918.3,755.6" fill="#2360c8" />
<polygon points="881.0,1351.0 996.0,1318.0 1100.0,1353.0 992.0,1384.0" fill="#e3e3e6" stroke="#b9bac2" stroke-width="1" />
<polygon points="881.0,1351.0 992.0,1384.0 992.0,1420.0 881.0,1392.0" fill="#f5f5f6" stroke="#b9bac2" stroke-width="1" />
<polygon points="992.0,1384.0 1100.0,1353.0 1100.0,1390.0 992.0,1420.0" fill="#ececee" stroke="#b9bac2" stroke-width="1" />
<line x1="938.0" y1="1334.0" x2="1046.0" y2="1368.0" stroke="#b9bac2" stroke-width="1" />
<polygon points="986.0,1267.0 1026.0,1278.0 1026.0,1322.0 986.0,1308.0" fill="#26272c" />
<polygon points="1026.0,1278.0 1052.0,1268.0 1052.0,1312.0 1026.0,1322.0" fill="#777a98" />
<polygon points="986.0,1267.0 1012.0,1258.0 1052.0,1268.0 1026.0,1278.0" fill="#3a3b42" />
<rect x="990.0" y="1206.0" width="16.0" height="56.0" fill="#f0f0f3" stroke="#a9abb6" stroke-width="1" />
<rect x="987.0" y="1178.0" width="22.0" height="30.0" fill="#f4f4f6" stroke="#a9abb6" stroke-width="1" />
<rect x="1008.0" y="1206.0" width="16.0" height="56.0" fill="#f0f0f3" stroke="#a9abb6" stroke-width="1" />
<rect x="1005.0" y="1178.0" width="22.0" height="30.0" fill="#f4f4f6" stroke="#a9abb6" stroke-width="1" />
<rect x="1028.0" y="1206.0" width="16.0" height="56.0" fill="#f0f0f3" stroke="#a9abb6" stroke-width="1" />
<rect x="1025.0" y="1178.0" width="22.0" height="30.0" fill="#f4f4f6" stroke="#a9abb6" stroke-width="1" />
<rect x="1010.0" y="1118.0" width="6.0" height="80.0" fill="#9a9ca8" stroke="#6d6f7a" stroke-width="0.8" />
<rect x="1008.0" y="1150.0" width="10.0" height="90.0" fill="#8e909c" />
<rect x="1058.0" y="1408.0" width="36.0" height="18.0" fill="#ebebef" stroke="#a9abb6" stroke-width="1" rx="4" transform="rotate(-14 1058 1408)"/>
<rect x="1062.0" y="1404.0" width="16.0" height="26.0" fill="#f4f4f6" stroke="#a9abb6" stroke-width="1" rx="3" transform="rotate(-14 1058 1408)"/>
<rect x="1382.0" y="1448.0" width="36.0" height="18.0" fill="#ebebef" stroke="#a9abb6" stroke-width="1" rx="4" transform="rotate(-14 1382 1448)"/>
<rect x="1386.0" y="1444.0" width="16.0" height="26.0" fill="#f4f4f6" stroke="#a9abb6" stroke-width="1" rx="3" transform="rotate(-14 1382 1448)"/>
<path d="M1108,1418 L1112,1456 A55.0,22 0 0 0 1222,1456 L1226,1418 Z" fill="#9fa1b0" stroke="#6d7080" stroke-width="1" />
<path d="M1110,1246 L1110,1418 A57.0,20 0 0 0 1224,1418 L1224,1246 Z" fill="url(#mot0)" />
<path d="M1100,1404 A67.0,24 0 0 0 1234,1404" fill="none" stroke="#74788a" stroke-width="7" />
<path d="M1100,1414 A67.0,24 0 0 0 1234,1414" fill="none" stroke="#8b8ea0" stroke-width="5" />
<ellipse cx="1167.0" cy="1240.0" rx="69.0" ry="28.0" fill="#74788a" />
<ellipse cx="1167.0" cy="1234.0" rx="69.0" ry="28.0" fill="#a9abba" stroke="#6d7080" stroke-width="1.2" />
<ellipse cx="1167.0" cy="1234.0" rx="51.0" ry="20.0" fill="#9d9fae" />
<rect x="1102.0" y="1240.0" width="5.0" height="182.0" fill="#e6e7ec" stroke="#8b8d99" stroke-width="0.8" />
<rect x="1180.7" y="1240.0" width="5.0" height="182.0" fill="#e6e7ec" stroke="#8b8d99" stroke-width="0.8" />
<rect x="1230.0" y="1240.0" width="5.0" height="182.0" fill="#e6e7ec" stroke="#8b8d99" stroke-width="0.8" />
<rect x="1122.0" y="1186.0" width="14.0" height="48.0" fill="#b9bbc8" stroke="#777a88" stroke-width="1" />
<ellipse cx="1129.0" cy="1186.0" rx="7.0" ry="3.0" fill="#5d5f6c" />
<rect x="1204.0" y="1176.0" width="14.0" height="48.0" fill="#b9bbc8" stroke="#777a88" stroke-width="1" />
<ellipse cx="1211.0" cy="1176.0" rx="7.0" ry="3.0" fill="#5d5f6c" />
<rect x="1161.3" y="1206.0" width="14.0" height="48.0" fill="#b9bbc8" stroke="#777a88" stroke-width="1" />
<ellipse cx="1168.3" cy="1206.0" rx="7.0" ry="3.0" fill="#5d5f6c" />
<rect x="1151.0" y="1200.0" width="34.0" height="30.0" fill="#c9cbd6" stroke="#777a88" stroke-width="1" />
<ellipse cx="1168.0" cy="1200.0" rx="17.0" ry="7.0" fill="#dcdde6" stroke="#777a88" stroke-width="1" />
<rect x="1159.0" y="1176.0" width="18.0" height="26.0" fill="#eeeef3" stroke="#a9abb6" stroke-width="1" />
<path d="M1224,1443 L1228,1481 A70.0,22 0 0 0 1368,1481 L1372,1443 Z" fill="#9fa1b0" stroke="#6d7080" stroke-width="1" />
<path d="M1226,1271 L1226,1443 A72.0,20 0 0 0 1370,1443 L1370,1271 Z" fill="url(#mot1)" />
<path d="M1216,1429 A82.0,24 0 0 0 1380,1429" fill="none" stroke="#74788a" stroke-width="7" />
<path d="M1216,1439 A82.0,24 0 0 0 1380,1439" fill="none" stroke="#8b8ea0" stroke-width="5" />
<ellipse cx="1298.0" cy="1265.0" rx="84.0" ry="28.0" fill="#74788a" />
<ellipse cx="1298.0" cy="1259.0" rx="84.0" ry="28.0" fill="#a9abba" stroke="#6d7080" stroke-width="1.2" />
<ellipse cx="1298.0" cy="1259.0" rx="66.0" ry="20.0" fill="#9d9fae" />
<rect x="1218.0" y="1265.0" width="5.0" height="182.0" fill="#e6e7ec" stroke="#8b8d99" stroke-width="0.8" />
<rect x="1315.3" y="1265.0" width="5.0" height="182.0" fill="#e6e7ec" stroke="#8b8d99" stroke-width="0.8" />
<rect x="1376.0" y="1265.0" width="5.0" height="182.0" fill="#e6e7ec" stroke="#8b8d99" stroke-width="0.8" />
<rect x="1238.0" y="1211.0" width="14.0" height="48.0" fill="#b9bbc8" stroke="#777a88" stroke-width="1" />
<ellipse cx="1245.0" cy="1211.0" rx="7.0" ry="3.0" fill="#5d5f6c" />
<rect x="1350.0" y="1201.0" width="14.0" height="48.0" fill="#b9bbc8" stroke="#777a88" stroke-width="1" />
<ellipse cx="1357.0" cy="1201.0" rx="7.0" ry="3.0" fill="#5d5f6c" />
<rect x="1290.8" y="1231.0" width="14.0" height="48.0" fill="#b9bbc8" stroke="#777a88" stroke-width="1" />
<ellipse cx="1297.8" cy="1231.0" rx="7.0" ry="3.0" fill="#5d5f6c" />
<rect x="1282.0" y="1225.0" width="34.0" height="30.0" fill="#c9cbd6" stroke="#777a88" stroke-width="1" />
<ellipse cx="1299.0" cy="1225.0" rx="17.0" ry="7.0" fill="#dcdde6" stroke="#777a88" stroke-width="1" />
<rect x="1290.0" y="1201.0" width="18.0" height="26.0" fill="#eeeef3" stroke="#a9abb6" stroke-width="1" />
<path d="M1140,1168 Q1170,1140 1200,1152 L1246,1170 Q1236,1196 1190,1200 Q1160,1196 1140,1168 Z" fill="#d3deee" stroke="#9fb0cc" stroke-width="1" />
<path d="M1176,1136 L1190,1128 L1200,1156 L1182,1160 Z" fill="#e6ecf6" stroke="#9fb0cc" stroke-width="1" />
<path d="M1254,1196 Q1290,1170 1330,1180 L1372,1196 Q1350,1230 1300,1226 Q1270,1222 1254,1196 Z" fill="#d3deee" stroke="#9fb0cc" stroke-width="1" />
<path d="M1300,1180 L1340,1160 L1372,1196 L1330,1200 Z" fill="#e6ecf6" stroke="#9fb0cc" stroke-width="1" />
<line x1="1421.0" y1="1132.0" x2="1234.0" y2="1160.0" stroke="#222" stroke-width="1.2" />
<line x1="1428.0" y1="1140.0" x2="1340.0" y2="1182.0" stroke="#222" stroke-width="1.2" />
<line x1="1134.0" y1="1130.0" x2="1134.0" y2="1190.0" stroke="#70737f" stroke-width="1.3" stroke-dasharray="10 6"/>
<line x1="1240.0" y1="1120.0" x2="1240.0" y2="1180.0" stroke="#70737f" stroke-width="1.3" stroke-dasharray="10 6"/>
<line x1="1318.0" y1="1130.0" x2="1318.0" y2="1200.0" stroke="#70737f" stroke-width="1.3" stroke-dasharray="10 6"/>
<rect x="1612.0" y="1128.0" width="30.0" height="22.0" fill="#2e86d4" stroke="#1c66b8" stroke-width="1" rx="3"/>
<rect x="1636.0" y="1130.0" width="11.0" height="12.0" fill="#1f6ec0" rx="2"/>
<rect x="1561.0" y="1125.0" width="28.0" height="8.0" fill="#d9dae2" stroke="#8b8d99" stroke-width="1" rx="3"/>
<line x1="1590.0" y1="1130.0" x2="1612.0" y2="1134.0" stroke="#70737f" stroke-width="1.2" stroke-dasharray="4 3"/>
<line x1="1650.0" y1="1137.0" x2="1722.0" y2="1149.0" stroke="#70737f" stroke-width="1.3" stroke-dasharray="10 5"/>
<rect x="1612.0" y="1153.0" width="30.0" height="22.0" fill="#2e86d4" stroke="#1c66b8" stroke-width="1" rx="3"/>
<rect x="1636.0" y="1155.0" width="11.0" height="12.0" fill="#1f6ec0" rx="2"/>
<rect x="1561.0" y="1150.0" width="28.0" height="8.0" fill="#d9dae2" stroke="#8b8d99" stroke-width="1" rx="3"/>
<line x1="1590.0" y1="1155.0" x2="1612.0" y2="1159.0" stroke="#70737f" stroke-width="1.2" stroke-dasharray="4 3"/>
<line x1="1650.0" y1="1162.0" x2="1722.0" y2="1174.0" stroke="#70737f" stroke-width="1.3" stroke-dasharray="10 5"/>
<line x1="1520.0" y1="1286.0" x2="1556.4" y2="1186.7" stroke="#8aa4d6" stroke-width="1.6"  stroke-dasharray="5 3"/>
<polygon points="1564.0,1166.0 1561.1,1188.4 1551.7,1184.9" fill="#2360c8" />
<line x1="1574.0" y1="1284.0" x2="1609.0" y2="1206.1" stroke="#8aa4d6" stroke-width="1.6"  stroke-dasharray="5 3"/>
<polygon points="1618.0,1186.0 1613.6,1208.1 1604.4,1204.0" fill="#2360c8" />
<path d="M2031,402 Q1960,380 1906,364 M1894,360 Q1840,344 1800,350 Q1755,366 1758,404 Q1775,452 1836,462 Q1870,460 1894,453 M1906,450 Q1970,434 2031,421" fill="none" stroke="#b4b9cc" stroke-width="13" stroke-linecap="round"/>
<path d="M2031,402 Q1960,380 1906,364 M1894,360 Q1840,344 1800,350 Q1755,366 1758,404 Q1775,452 1836,462 Q1870,460 1894,453 M1906,450 Q1970,434 2031,421" fill="none" stroke="#e2e5ee" stroke-width="11" stroke-linecap="round"/>
<path d="M2031,402 Q1960,380 1906,364 M1894,360 Q1840,344 1800,350 Q1755,366 1758,404 Q1775,452 1836,462 Q1870,460 1894,453 M1906,450 Q1970,434 2031,421" fill="none" stroke="#2a4fc4" stroke-width="11" stroke-dasharray="5 11"/>
<path d="M2098,414 Q2150,418 2170,422 Q2180,426 2182,436" fill="none" stroke="#b4b9cc" stroke-width="13" stroke-linecap="round"/>
<path d="M2098,414 Q2150,418 2170,422 Q2180,426 2182,436" fill="none" stroke="#e2e5ee" stroke-width="11" stroke-linecap="round"/>
<path d="M2098,414 Q2150,418 2170,422 Q2180,426 2182,436" fill="none" stroke="#2a4fc4" stroke-width="11" stroke-dasharray="5 11"/>
<path d="M2029,395 L2070,398 L2100,411 L2100,416 L2078,435 L2029,429 Z" fill="#2a3a9e" />
<path d="M2182,610 L2182,672" fill="none" stroke="#b4b9cc" stroke-width="13" stroke-linecap="round"/>
<path d="M2182,610 L2182,672" fill="none" stroke="#e2e5ee" stroke-width="11" stroke-linecap="round"/>
<path d="M2182,610 L2182,672" fill="none" stroke="#2a4fc4" stroke-width="11" stroke-dasharray="5 11"/>
<path d="M2180,748 L2180,778" fill="none" stroke="#b4b9cc" stroke-width="13" stroke-linecap="round"/>
<path d="M2180,748 L2180,778" fill="none" stroke="#e2e5ee" stroke-width="11" stroke-linecap="round"/>
<path d="M2180,748 L2180,778" fill="none" stroke="#2a4fc4" stroke-width="11" stroke-dasharray="5 11"/>
<path d="M2174,782 Q2160,830 2092,858 Q2000,880 1900,892 Q1866,900 1856,920" fill="none" stroke="#b4b9cc" stroke-width="13" stroke-linecap="round"/>
<path d="M2174,782 Q2160,830 2092,858 Q2000,880 1900,892 Q1866,900 1856,920" fill="none" stroke="#e2e5ee" stroke-width="11" stroke-linecap="round"/>
<path d="M2174,782 Q2160,830 2092,858 Q2000,880 1900,892 Q1866,900 1856,920" fill="none" stroke="#2a4fc4" stroke-width="11" stroke-dasharray="5 11"/>
<path d="M2188,782 Q2200,840 2275,888 Q2380,935 2448,965 Q2490,990 2502,1030" fill="none" stroke="#b4b9cc" stroke-width="13" stroke-linecap="round"/>
<path d="M2188,782 Q2200,840 2275,888 Q2380,935 2448,965 Q2490,990 2502,1030" fill="none" stroke="#e2e5ee" stroke-width="11" stroke-linecap="round"/>
<path d="M2188,782 Q2200,840 2275,888 Q2380,935 2448,965 Q2490,990 2502,1030" fill="none" stroke="#2a4fc4" stroke-width="11" stroke-dasharray="5 11"/>
<rect x="2156.0" y="770.0" width="52.0" height="10.0" fill="#c9cbd4" stroke="#8b8d99" stroke-width="1" rx="3"/>
<path d="M2160,667 L2200,667 L2210,690 L2210,748 L2152,750 L2152,690 Z" fill="#2a3a9e" />
<path d="M2160,667 L2200,667 L2210,690 L2152,690 Z" fill="#3346b0" />
<clipPath id="cta"><rect x="2120" y="430" width="124" height="98"/></clipPath>
<clipPath id="cba"><path d="M2120,528 Q2182,544 2244,528 L2244,614 L2120,614 Z"/></clipPath>
<ellipse cx="2182.0" cy="522.0" rx="60.0" ry="90.0" fill="url(#fwa)" stroke="#c5cad8" stroke-width="1" />
<ellipse cx="2182.0" cy="522.0" rx="60.0" ry="90.0" fill="url(#fba)" clip-path="url(#cba)"/>
<rect x="2177.0" y="424.0" width="8.0" height="12.0" fill="#d0d4e0" />
<clipPath id="ctb"><rect x="1825" y="914" width="104" height="156"/></clipPath>
<clipPath id="cbb"><path d="M1825,1070 Q1877,1086 1929,1070 L1929,1102 L1825,1102 Z"/></clipPath>
<ellipse cx="1877.0" cy="1008.0" rx="50.0" ry="92.0" fill="url(#fwb)" stroke="#c5cad8" stroke-width="1" />
<ellipse cx="1877.0" cy="1008.0" rx="50.0" ry="92.0" fill="url(#fbb)" clip-path="url(#cbb)"/>
<polygon points="1770.0,995.0 2390.0,1070.0 2390.0,1158.0 1770.0,1075.0" fill="url(#tube)" />
<line x1="1770.0" y1="995.0" x2="2390.0" y2="1070.0" stroke="#b9bfd2" stroke-width="1.2" />
<line x1="1770.0" y1="1075.0" x2="2390.0" y2="1158.0" stroke="#9aa2bc" stroke-width="1.2" />
<rect x="1796.0" y="1082.0" width="12.0" height="62.0" fill="#2c6fd0" />
<path d="M1862,1180 Q1842,1215 1868,1238 Q1896,1236 1884,1180" fill="none" stroke="#b4b9cc" stroke-width="11" stroke-linecap="round"/>
<path d="M1862,1180 Q1842,1215 1868,1238 Q1896,1236 1884,1180" fill="none" stroke="#e2e5ee" stroke-width="9" stroke-linecap="round"/>
<path d="M1862,1180 Q1842,1215 1868,1238 Q1896,1236 1884,1180" fill="none" stroke="#2a4fc4" stroke-width="9" stroke-dasharray="5 11"/>
<path d="M1850,1107 L1885,1107 L1896,1122 L1896,1180 L1840,1180 L1840,1122 Z" fill="#2a3a9e" />
<path d="M1721,1040 L1722,1071 L1786,1076 L1757,1214 Q1784,1240 1784,1262 Q1779,1289 1752,1289 Q1728,1285 1725,1262 Z" fill="#2f86dc" stroke="#2470c8" stroke-width="1.5" />
<path d="M1742,1078 L1782,1080 L1756,1206 L1738,1236 Z" fill="#1f6cc6" />
<path d="M1732,1074 L1742,1250" fill="none" stroke="#1f64be" stroke-width="3" />
<rect x="1756.0" y="1098.0" width="14.0" height="6.0" fill="#4a9ae8" />
<rect x="1754.0" y="1112.0" width="14.0" height="6.0" fill="#4a9ae8" />
<ellipse cx="1770.0" cy="1263.0" rx="10.0" ry="10.0" fill="#3a90e2" stroke="#2470c8" stroke-width="1.5" />
<ellipse cx="1770.0" cy="1263.0" rx="4.0" ry="4.0" fill="#1f64be" />
<path d="M1716,1013 Q1722,984 1747,979 L1793,981 Q1800,986 1797,994 Q1772,1010 1770,1030 Q1772,1060 1786,1076 L1722,1071 Q1714,1040 1716,1013 Z" fill="url(#lbr)" stroke="#2470c8" stroke-width="1.5" />
<path d="M1726,1000 Q1740,990 1790,990" fill="none" stroke="#6ab2f0" stroke-width="2.5" />
<clipPath id="ctc"><rect x="2444" y="1015" width="122" height="97"/></clipPath>
<clipPath id="cbc"><path d="M2444,1112 Q2505,1128 2566,1112 L2566,1197 L2444,1197 Z"/></clipPath>
<ellipse cx="2505.0" cy="1106.0" rx="59.0" ry="89.0" fill="url(#fwc)" stroke="#c5cad8" stroke-width="1" />
<ellipse cx="2505.0" cy="1106.0" rx="59.0" ry="89.0" fill="url(#fbc)" clip-path="url(#cbc)"/>
<path d="M2366,1080 Q2370,1068 2392,1068 L2440,1078 Q2454,1084 2452,1100 L2446,1250 Q2440,1330 2436,1376 Q2430,1390 2412,1388 Q2388,1384 2388,1360 L2384,1172 Q2364,1150 2366,1080 Z" fill="url(#rbr)" stroke="#2470c8" stroke-width="1.5" />
<path d="M2405,1090 Q2415,1200 2400,1372" fill="none" stroke="#2268c4" stroke-width="3" />
<path d="M2500,1194 L2500,1210" fill="none" stroke="#b4b9cc" stroke-width="11" stroke-linecap="round"/>
<path d="M2500,1194 L2500,1210" fill="none" stroke="#e2e5ee" stroke-width="9" stroke-linecap="round"/>
<path d="M2500,1194 L2500,1210" fill="none" stroke="#2a4fc4" stroke-width="9" stroke-dasharray="5 11"/>
<path d="M2494,1272 Q2470,1306 2500,1324 Q2532,1322 2518,1272" fill="none" stroke="#b4b9cc" stroke-width="11" stroke-linecap="round"/>
<path d="M2494,1272 Q2470,1306 2500,1324 Q2532,1322 2518,1272" fill="none" stroke="#e2e5ee" stroke-width="9" stroke-linecap="round"/>
<path d="M2494,1272 Q2470,1306 2500,1324 Q2532,1322 2518,1272" fill="none" stroke="#2a4fc4" stroke-width="9" stroke-dasharray="5 11"/>
<path d="M2484,1205 L2520,1205 L2532,1222 L2532,1275 L2474,1275 L2474,1222 Z" fill="#2a3a9e" />
<polygon points="2424.0,568.0 2504.0,594.0 2496.0,640.0 2446.0,762.0 2386.0,746.0 2382.0,720.0" fill="#111" stroke-linejoin="round"/>
<polygon points="2430.0,590.0 2496.0,606.0 2450.0,722.0 2392.0,710.0" fill="#a9dcec" />
<text x="2433" y="606" font-size="6.5" font-weight="bold" fill="#223" transform="rotate(14 2433 606)" font-family="Liberation Sans, sans-serif">SMARTPRODUCTS</text>
<rect x="2441.0" y="625.0" width="14.0" height="14.0" fill="none" stroke="#345" stroke-width="1" rx="3" stroke-dasharray="2 1.5"/>
<ellipse cx="2448.0" cy="632.0" rx="3.5" ry="3.5" fill="#223" />
<rect x="2413.0" y="641.0" width="14.0" height="14.0" fill="none" stroke="#345" stroke-width="1" rx="3" stroke-dasharray="2 1.5"/>
<ellipse cx="2420.0" cy="648.0" rx="3.5" ry="3.5" fill="#223" />
<rect x="2455.0" y="653.0" width="14.0" height="14.0" fill="none" stroke="#345" stroke-width="1" rx="3" stroke-dasharray="2 1.5"/>
<ellipse cx="2462.0" cy="660.0" rx="3.5" ry="3.5" fill="#223" />
<rect x="2427.0" y="669.0" width="14.0" height="14.0" fill="none" stroke="#345" stroke-width="1" rx="3" stroke-dasharray="2 1.5"/>
<ellipse cx="2434.0" cy="676.0" rx="3.5" ry="3.5" fill="#223" />
<ellipse cx="2392.0" cy="752.0" rx="3.0" ry="3.0" fill="none" stroke="#111" stroke-width="1.5" />
<line x1="2090.0" y1="1455.0" x2="2230.0" y2="1488.0" stroke="#6c7080" stroke-width="1.4" stroke-dasharray="12 5 3 5"/>
<line x1="2190.0" y1="1428.0" x2="2560.0" y2="1500.0" stroke="#6c7080" stroke-width="1.4" stroke-dasharray="12 5 3 5"/>
<line x1="2330.0" y1="1396.0" x2="2600.0" y2="1472.0" stroke="#6c7080" stroke-width="1.4" stroke-dasharray="12 5 3 5"/>
<line x1="2290.0" y1="1520.0" x2="2480.0" y2="1560.0" stroke="#6c7080" stroke-width="1.4" stroke-dasharray="12 5 3 5"/>
<line x1="2380.0" y1="1490.0" x2="2600.0" y2="1540.0" stroke="#6c7080" stroke-width="1.4" stroke-dasharray="12 5 3 5"/>
<line x1="2276.0" y1="1530.0" x2="2276.0" y2="1672.0" stroke="#6c7080" stroke-width="1.4" stroke-dasharray="10 6"/>
<line x1="2352.0" y1="1500.0" x2="2352.0" y2="1650.0" stroke="#6c7080" stroke-width="1.4" stroke-dasharray="10 6"/>
<path d="M2228,1470 Q2226,1430 2262,1414 Q2320,1394 2362,1392 Q2392,1396 2396,1420 L2396,1476 Q2394,1494 2372,1498 L2346,1498 Q2336,1470 2312,1474 Q2296,1484 2312,1512 Q2290,1526 2262,1522 Q2234,1512 2228,1470 Z" fill="url(#lat)" stroke="#1c64ba" stroke-width="1.5" />
<path d="M2256,1442 Q2320,1420 2388,1412" fill="none" stroke="#f2f6fc" stroke-width="3.5" />
<path d="M2250,1424 Q2300,1400 2362,1394" fill="none" stroke="#1c64ba" stroke-width="2" />
<path d="M2336,1470 L2390,1452 L2394,1480 L2350,1496 Z" fill="#1c64ba" />
<polygon points="2245.0,1592.0 2252.0,1590.0 2378.0,1548.0 2380.0,1600.0 2372.0,1604.0 2372.0,1640.0 2340.0,1646.0 2300.0,1632.0 2282.0,1616.0 2256.0,1624.0 2256.0,1652.0 2246.0,1650.0" fill="#2a84d8" stroke="#1c64ba" stroke-width="1" />
<polygon points="2252.0,1590.0 2378.0,1548.0 2378.0,1584.0 2300.0,1612.0 2252.0,1606.0" fill="#4aa2ea" />
<polygon points="2310.0,1624.0 2362.0,1612.0 2372.0,1626.0 2336.0,1640.0" fill="#1f6cc4" />
<rect x="2266.0" y="1670.0" width="21.0" height="30.0" fill="#777a86" stroke="#494b55" stroke-width="1" rx="3"/>
<line x1="2266.0" y1="1674.0" x2="2287.0" y2="1673.0" stroke="#b9bbc6" stroke-width="1.5" />
<line x1="2266.0" y1="1680.0" x2="2287.0" y2="1679.0" stroke="#b9bbc6" stroke-width="1.5" />
<line x1="2266.0" y1="1686.0" x2="2287.0" y2="1685.0" stroke="#b9bbc6" stroke-width="1.5" />
<line x1="2266.0" y1="1692.0" x2="2287.0" y2="1691.0" stroke="#b9bbc6" stroke-width="1.5" />
<line x1="2266.0" y1="1698.0" x2="2287.0" y2="1697.0" stroke="#b9bbc6" stroke-width="1.5" />
<rect x="2343.0" y="1650.0" width="21.0" height="30.0" fill="#777a86" stroke="#494b55" stroke-width="1" rx="3"/>
<line x1="2343.0" y1="1654.0" x2="2364.0" y2="1653.0" stroke="#b9bbc6" stroke-width="1.5" />
<line x1="2343.0" y1="1660.0" x2="2364.0" y2="1659.0" stroke="#b9bbc6" stroke-width="1.5" />
<line x1="2343.0" y1="1666.0" x2="2364.0" y2="1665.0" stroke="#b9bbc6" stroke-width="1.5" />
<line x1="2343.0" y1="1672.0" x2="2364.0" y2="1671.0" stroke="#b9bbc6" stroke-width="1.5" />
<line x1="2343.0" y1="1678.0" x2="2364.0" y2="1677.0" stroke="#b9bbc6" stroke-width="1.5" />
<path d="M1764,1490 Q1760,1440 1800,1416 Q1860,1392 1906,1394 Q1946,1400 1948,1436 Q1944,1474 1912,1486 L1878,1492 L1872,1484 L1832,1496 L1826,1516 Q1796,1524 1776,1514 Q1764,1506 1764,1490 Z" fill="url(#lat2)" stroke="#1c64ba" stroke-width="2" />
<path d="M1790,1452 Q1840,1420 1930,1410 L1934,1440 Q1870,1450 1800,1480 Z" fill="#55b4ee" />
<path d="M1800,1440 L1920,1416" fill="none" stroke="#1c64ba" stroke-width="2" />
<rect x="1812.0" y="1472.0" width="22.0" height="22.0" fill="#9a9ca8" stroke="#555" stroke-width="1" />
<rect x="1892.0" y="1450.0" width="20.0" height="20.0" fill="#9a9ca8" stroke="#555" stroke-width="1" />
<ellipse cx="1786.0" cy="1462.0" rx="4.0" ry="4.0" fill="#d9dae2" stroke="#666" stroke-width="1" />
<ellipse cx="1802.0" cy="1432.0" rx="4.0" ry="4.0" fill="#d9dae2" stroke="#666" stroke-width="1" />
<ellipse cx="1922.0" cy="1406.0" rx="4.0" ry="4.0" fill="#d9dae2" stroke="#666" stroke-width="1" />
<ellipse cx="1912.0" cy="1476.0" rx="4.0" ry="4.0" fill="#d9dae2" stroke="#666" stroke-width="1" />
<ellipse cx="1808.0" cy="1508.0" rx="4.0" ry="4.0" fill="#d9dae2" stroke="#666" stroke-width="1" />
<path d="M1716,1432 L1738,1438 L1738,1460 L1722,1464 Q1708,1450 1716,1432 Z" fill="none" stroke="#b4b6c2" stroke-width="4" />
<rect x="1738.0" y="1446.0" width="40.0" height="6.0" fill="#c9cbd4" stroke="#8b8d99" stroke-width="1" />
<rect x="2068.0" y="1445.0" width="14.0" height="10.0" fill="#e08a3c" stroke="#a85f20" stroke-width="1" rx="2"/>
<rect x="2170.0" y="1418.0" width="14.0" height="10.0" fill="#e08a3c" stroke="#a85f20" stroke-width="1" rx="2"/>
<ellipse cx="2200.0" cy="1414.0" rx="7.0" ry="6.0" fill="#b9bbc6" stroke="#555" stroke-width="1.2" />
<ellipse cx="2200.0" cy="1414.0" rx="3.0" ry="2.5" fill="#555" />
<ellipse cx="2300.0" cy="1388.0" rx="7.0" ry="6.0" fill="#b9bbc6" stroke="#555" stroke-width="1.2" />
<ellipse cx="2300.0" cy="1388.0" rx="3.0" ry="2.5" fill="#555" />
<rect x="2462.0" y="1430.0" width="26.0" height="8.0" fill="#c9cbd4" stroke="#777a86" stroke-width="1" rx="3" transform="rotate(10 2462 1430)"/>
<ellipse cx="2492.0" cy="1438.0" rx="6.0" ry="6.0" fill="#d9dae2" stroke="#777a86" stroke-width="1.2" />
<rect x="2420.0" y="1474.0" width="26.0" height="8.0" fill="#c9cbd4" stroke="#777a86" stroke-width="1" rx="3" transform="rotate(10 2420 1474)"/>
<ellipse cx="2450.0" cy="1482.0" rx="6.0" ry="6.0" fill="#d9dae2" stroke="#777a86" stroke-width="1.2" />
<rect x="2408.0" y="1546.0" width="26.0" height="8.0" fill="#c9cbd4" stroke="#777a86" stroke-width="1" rx="3" transform="rotate(10 2408 1546)"/>
<ellipse cx="2438.0" cy="1554.0" rx="6.0" ry="6.0" fill="#d9dae2" stroke="#777a86" stroke-width="1.2" />
<rect x="2512.0" y="1520.0" width="26.0" height="8.0" fill="#c9cbd4" stroke="#777a86" stroke-width="1" rx="3" transform="rotate(10 2512 1520)"/>
<ellipse cx="2542.0" cy="1528.0" rx="6.0" ry="6.0" fill="#d9dae2" stroke="#777a86" stroke-width="1.2" />
<ellipse cx="2491.0" cy="1438.0" rx="5.0" ry="6.0" fill="#e6e7ec" stroke="#666a78" stroke-width="1.5" />
<ellipse cx="2514.0" cy="1452.0" rx="5.0" ry="6.0" fill="#e6e7ec" stroke="#666a78" stroke-width="1.5" />
<ellipse cx="2516.0" cy="1518.0" rx="5.0" ry="6.0" fill="#e6e7ec" stroke="#666a78" stroke-width="1.5" />
<ellipse cx="2412.0" cy="1544.0" rx="5.0" ry="6.0" fill="#e6e7ec" stroke="#666a78" stroke-width="1.5" />
<path d="M2540,1462 L2566,1456 L2570,1482 L2548,1496 Q2532,1480 2540,1462 Z" fill="#eeeef2" stroke="#b0b2be" stroke-width="3" />
<ellipse cx="2562.0" cy="1476.0" rx="6.0" ry="7.0" fill="#777a86" />
<polygon points="2600.0,1476.0 2606.0,1472.0 2664.0,1488.0 2662.0,1498.0 2604.0,1484.0" fill="#d9dae2" stroke="#8b8d99" stroke-width="1" />
<ellipse cx="2664.0" cy="1493.0" rx="4.0" ry="6.0" fill="#c9cbd4" stroke="#8b8d99" stroke-width="1" />
<line x1="2572.0" y1="1480.0" x2="2600.0" y2="1480.0" stroke="#6c7080" stroke-width="1.4" stroke-dasharray="12 5 3 5"/>
<ellipse cx="72.0" cy="1620.0" rx="32.0" ry="52.0" fill="url(#ww)" stroke="#a0a2ae" stroke-width="1.2" transform="rotate(-8.0 72.0 1620.0)" />
<ellipse cx="92.0" cy="1622.0" rx="18.0" ry="36.0" fill="#e4e5ea" stroke="#a0a2ae" stroke-width="1" transform="rotate(-8.0 92.0 1622.0)" />
<ellipse cx="98.0" cy="1624.0" rx="8.0" ry="16.0" fill="#c9cbd4" stroke="#8b8d99" stroke-width="1" transform="rotate(-8.0 98.0 1624.0)" />
<path d="M112,1600 Q118,1560 170,1512 Q240,1440 318,1425 Q400,1424 450,1468 L455,1492 L330,1560 L250,1640 L150,1650 Z" fill="url(#dome)" stroke="#1b5cb4" stroke-width="2" />
<path d="M128,1580 Q200,1470 320,1440 Q400,1440 440,1476" fill="none" stroke="#1a5cb8" stroke-width="5" />
<path d="M150,1590 Q210,1500 316,1462" fill="none" stroke="#4a9ce8" stroke-width="3" />
<path d="M118,1600 Q104,1640 140,1690 Q160,1706 200,1700 L520,1574 Q548,1556 540,1530 Q530,1504 500,1498 L440,1490" fill="none" stroke="#1b5cb4" stroke-width="24" stroke-linejoin="round"/>
<path d="M118,1600 Q104,1640 140,1690 Q160,1706 200,1700 L520,1574 Q548,1556 540,1530 Q530,1504 500,1498 L440,1490" fill="none" stroke="#2a7ad4" stroke-width="22" stroke-dasharray="5 2.5" stroke-linejoin="round"/>
<path d="M118,1600 Q104,1640 140,1690 Q160,1706 200,1700 L520,1574 Q548,1556 540,1530 Q530,1504 500,1498 L440,1490" fill="none" stroke="#3a8ee2" stroke-width="10" stroke-dasharray="5 2.5" stroke-linejoin="round"/>
<path d="M118,1600 Q104,1640 140,1690 Q160,1706 200,1700 L520,1574 Q548,1556 540,1530 Q530,1504 500,1498 L440,1490" fill="none" stroke="#2a7ad4" stroke-width="3" stroke-linejoin="round"/>
<path d="M530,1512 L150,1616" fill="none" stroke="#1b5cb4" stroke-width="24" stroke-linejoin="round"/>
<path d="M530,1512 L150,1616" fill="none" stroke="#2a7ad4" stroke-width="22" stroke-dasharray="5 2.5" stroke-linejoin="round"/>
<path d="M530,1512 L150,1616" fill="none" stroke="#3a8ee2" stroke-width="10" stroke-dasharray="5 2.5" stroke-linejoin="round"/>
<path d="M530,1512 L150,1616" fill="none" stroke="#2a7ad4" stroke-width="3" stroke-linejoin="round"/>
<ellipse cx="300.0" cy="1520.0" rx="34.0" ry="44.0" fill="#d9dae6" stroke="#8b8d99" stroke-width="1" />
<ellipse cx="346.0" cy="1526.0" rx="36.0" ry="44.0" fill="#c4c8e6" stroke="#7d82b4" stroke-width="1.5" transform="rotate(-8.0 346.0 1526.0)" />
<ellipse cx="346.0" cy="1526.0" rx="12.0" ry="14.0" fill="#4a4c58" transform="rotate(-8.0 346.0 1526.0)" />
<ellipse cx="352.0" cy="1528.0" rx="6.0" ry="7.0" fill="#d9dae6" />
<ellipse cx="365.9" cy="1547.2" rx="2.5" ry="3.0" fill="#555a88" />
<ellipse cx="329.3" cy="1551.3" rx="2.5" ry="3.0" fill="#555a88" />
<ellipse cx="326.1" cy="1504.8" rx="2.5" ry="3.0" fill="#555a88" />
<ellipse cx="362.7" cy="1500.7" rx="2.5" ry="3.0" fill="#555a88" />
<polygon points="150.0,1600.0 250.0,1604.0 280.0,1592.0 490.0,1535.0 494.0,1562.0 420.0,1588.0 300.0,1660.0 290.0,1682.0 160.0,1640.0" fill="#2a7ad4" stroke="#1b5cb4" stroke-width="1.5" />
<polygon points="286.0,1600.0 486.0,1545.0 488.0,1556.0 290.0,1612.0" fill="#1b5cb4" />
<polygon points="284.0,1626.0 360.0,1602.0 362.0,1640.0 290.0,1668.0" fill="#3a8ee0" stroke="#1b5cb4" stroke-width="1" />
<ellipse cx="308.0" cy="1624.0" rx="4.0" ry="5.0" fill="#d6e6f8" />
<ellipse cx="324.0" cy="1618.0" rx="4.0" ry="5.0" fill="#d6e6f8" />
<ellipse cx="340.0" cy="1612.0" rx="4.0" ry="5.0" fill="#d6e6f8" />
<path d="M160,1610 L250,1650" fill="none" stroke="#0f3f8a" stroke-width="4" />
<path d="M418.0,1466.0 L382.0,1461.7 A30.0,52.0 0 0 0 382.0,1565.7 L418.0,1570.0 Z" fill="url(#bwa)" />
<ellipse cx="382.0" cy="1513.7" rx="30.0" ry="52.0" fill="url(#bwa)" />
<ellipse cx="418.0" cy="1518.0" rx="30.0" ry="52.0" fill="#3a3c44" stroke="#7d82b4" stroke-width="2.5" />
<ellipse cx="418.0" cy="1518.0" rx="25.5" ry="44.2" fill="#2a2c32" />
<line x1="418.0" y1="1518.0" x2="442.0" y2="1518.0" stroke="#5a5d68" stroke-width="4" />
<line x1="418.0" y1="1518.0" x2="425.4" y2="1557.6" stroke="#5a5d68" stroke-width="4" />
<line x1="418.0" y1="1518.0" x2="398.6" y2="1542.5" stroke="#5a5d68" stroke-width="4" />
<line x1="418.0" y1="1518.0" x2="398.6" y2="1493.5" stroke="#5a5d68" stroke-width="4" />
<line x1="418.0" y1="1518.0" x2="425.4" y2="1478.4" stroke="#5a5d68" stroke-width="4" />
<ellipse cx="418.0" cy="1518.0" rx="8.4" ry="14.6" fill="#6b70a0" stroke="#2a2c32" stroke-width="2" />
<ellipse cx="418.0" cy="1518.0" rx="4.2" ry="7.3" fill="#d9dae6" />
<path d="M272.0,1510.0 L226.0,1504.5 A30.0,52.0 0 0 0 226.0,1608.5 L272.0,1614.0 Z" fill="url(#bwb)" />
<ellipse cx="226.0" cy="1556.5" rx="30.0" ry="52.0" fill="url(#bwb)" />
<ellipse cx="272.0" cy="1562.0" rx="30.0" ry="52.0" fill="#3a3c44" stroke="#7d82b4" stroke-width="2.5" />
<ellipse cx="272.0" cy="1562.0" rx="25.5" ry="44.2" fill="#2a2c32" />
<line x1="272.0" y1="1562.0" x2="296.0" y2="1562.0" stroke="#5a5d68" stroke-width="4" />
<line x1="272.0" y1="1562.0" x2="279.4" y2="1601.6" stroke="#5a5d68" stroke-width="4" />
<line x1="272.0" y1="1562.0" x2="252.6" y2="1586.5" stroke="#5a5d68" stroke-width="4" />
<line x1="272.0" y1="1562.0" x2="252.6" y2="1537.5" stroke="#5a5d68" stroke-width="4" />
<line x1="272.0" y1="1562.0" x2="279.4" y2="1522.4" stroke="#5a5d68" stroke-width="4" />
<ellipse cx="272.0" cy="1562.0" rx="8.4" ry="14.6" fill="#6b70a0" stroke="#2a2c32" stroke-width="2" />
<ellipse cx="272.0" cy="1562.0" rx="4.2" ry="7.3" fill="#d9dae6" />
<path d="M145,1700 L200,1712 L520,1584" fill="none" stroke="#1b5cb4" stroke-width="3" stroke-dasharray="4 5"/>
<ellipse cx="470.0" cy="1548.0" rx="7.0" ry="9.0" fill="#2d3038" />
<rect x="400.0" y="1608.0" width="14.0" height="5.0" fill="#c9cbd4" stroke="#777" stroke-width="0.8" />
<rect x="296.0" y="1636.0" width="14.0" height="5.0" fill="#c9cbd4" stroke="#777" stroke-width="0.8" />
<path d="M498,1548 L548,1560" fill="none" stroke="#777a88" stroke-width="16" />
<path d="M498,1547 L548,1559" fill="none" stroke="#a7a9b6" stroke-width="12" />
<polygon points="600.5,1527.3 615.9,1531.5 614.0,1515.7 598.6,1511.5" fill="#2a7fd8" />
<polygon points="600.5,1527.3 604.3,1528.3 602.4,1512.6 598.6,1511.5" fill="#1a5cb4" />
<polygon points="593.3,1635.0 608.8,1639.3 605.2,1648.5 589.8,1644.2" fill="#1a5cb4" />
<polygon points="593.3,1635.0 597.2,1636.1 593.6,1645.3 589.8,1644.2" fill="#2a7fd8" />
<polygon points="623.6,1533.6 639.0,1537.9 636.7,1527.1 621.3,1522.8" fill="#2a7fd8" />
<polygon points="623.6,1533.6 627.4,1534.7 625.2,1523.9 621.3,1522.8" fill="#1a5cb4" />
<polygon points="616.4,1641.4 631.8,1645.6 627.9,1659.8 612.5,1655.5" fill="#1a5cb4" />
<polygon points="616.4,1641.4 620.3,1642.4 616.4,1656.6 612.5,1655.5" fill="#2a7fd8" />
<polygon points="646.6,1540.0 662.1,1544.2 660.2,1528.4 644.7,1524.2" fill="#2a7fd8" />
<polygon points="646.6,1540.0 650.5,1541.0 648.6,1525.3 644.7,1524.2" fill="#1a5cb4" />
<polygon points="639.5,1647.7 654.9,1652.0 651.4,1661.1 635.9,1656.9" fill="#1a5cb4" />
<polygon points="639.5,1647.7 643.3,1648.8 639.8,1658.0 635.9,1656.9" fill="#2a7fd8" />
<polygon points="669.7,1546.3 685.1,1550.5 682.9,1539.8 667.5,1535.5" fill="#2a7fd8" />
<polygon points="669.7,1546.3 673.6,1547.4 671.3,1536.6 667.5,1535.5" fill="#1a5cb4" />
<polygon points="662.6,1654.1 678.0,1658.3 674.1,1672.5 658.7,1668.2" fill="#1a5cb4" />
<polygon points="662.6,1654.1 666.4,1655.1 662.5,1669.3 658.7,1668.2" fill="#2a7fd8" />
<polygon points="692.8,1552.7 708.2,1556.9 706.3,1541.1 690.9,1536.9" fill="#2a7fd8" />
<polygon points="692.8,1552.7 696.6,1553.7 694.7,1537.9 690.9,1536.9" fill="#1a5cb4" />
<polygon points="685.6,1660.4 701.1,1664.7 697.5,1673.8 682.1,1669.6" fill="#1a5cb4" />
<polygon points="685.6,1660.4 689.5,1661.5 685.9,1670.7 682.1,1669.6" fill="#2a7fd8" />
<polygon points="715.9,1559.0 731.3,1563.2 729.1,1552.5 713.6,1548.2" fill="#2a7fd8" />
<polygon points="715.9,1559.0 719.7,1560.1 717.5,1549.3 713.6,1548.2" fill="#1a5cb4" />
<polygon points="708.7,1666.8 724.1,1671.0 720.3,1685.2 704.8,1680.9" fill="#1a5cb4" />
<polygon points="708.7,1666.8 712.6,1667.8 708.7,1682.0 704.8,1680.9" fill="#2a7fd8" />
<polygon points="738.9,1565.3 754.4,1569.6 752.5,1553.8 737.0,1549.6" fill="#2a7fd8" />
<polygon points="738.9,1565.3 742.8,1566.4 740.9,1550.6 737.0,1549.6" fill="#1a5cb4" />
<polygon points="731.8,1673.1 747.2,1677.3 743.7,1686.5 728.2,1682.3" fill="#1a5cb4" />
<polygon points="731.8,1673.1 735.6,1674.2 732.1,1683.3 728.2,1682.3" fill="#2a7fd8" />
<polygon points="762.0,1571.7 777.4,1575.9 775.2,1565.2 759.8,1560.9" fill="#2a7fd8" />
<polygon points="762.0,1571.7 765.9,1572.7 763.6,1562.0 759.8,1560.9" fill="#1a5cb4" />
<polygon points="754.9,1679.5 770.3,1683.7 766.4,1697.9 751.0,1693.6" fill="#1a5cb4" />
<polygon points="754.9,1679.5 758.7,1680.5 754.8,1694.7 751.0,1693.6" fill="#2a7fd8" />
<polygon points="785.1,1578.0 800.5,1582.3 798.6,1566.5 783.2,1562.3" fill="#2a7fd8" />
<polygon points="785.1,1578.0 788.9,1579.1 787.0,1563.3 783.2,1562.3" fill="#1a5cb4" />
<polygon points="777.9,1685.8 793.4,1690.0 789.8,1699.2 774.4,1695.0" fill="#1a5cb4" />
<polygon points="777.9,1685.8 781.8,1686.9 778.2,1696.0 774.4,1695.0" fill="#2a7fd8" />
<polygon points="808.2,1584.4 823.6,1588.6 821.4,1577.9 805.9,1573.6" fill="#2a7fd8" />
<polygon points="808.2,1584.4 812.0,1585.4 809.8,1574.7 805.9,1573.6" fill="#1a5cb4" />
<polygon points="801.0,1692.1 816.4,1696.4 812.6,1710.6 797.1,1706.3" fill="#1a5cb4" />
<polygon points="801.0,1692.1 804.9,1693.2 801.0,1707.4 797.1,1706.3" fill="#2a7fd8" />
<polygon points="831.2,1590.7 846.7,1595.0 844.8,1579.2 829.3,1575.0" fill="#2a7fd8" />
<polygon points="831.2,1590.7 835.1,1591.8 833.2,1576.0 829.3,1575.0" fill="#1a5cb4" />
<polygon points="824.1,1698.5 839.5,1702.7 836.0,1711.9 820.5,1707.7" fill="#1a5cb4" />
<polygon points="824.1,1698.5 828.0,1699.6 824.4,1708.7 820.5,1707.7" fill="#2a7fd8" />
<ellipse cx="600.0" cy="1582.0" rx="25.7" ry="57.0" fill="#1a5cb4" transform="rotate(3.8 600.0 1582.0)" />
<polygon points="603.8,1525.1 843.8,1591.1 836.2,1704.9 596.2,1638.9" fill="#2a7fd8" />
<line x1="603.2" y1="1533.2" x2="843.2" y2="1599.2" stroke="#1a5cb4" stroke-width="5" stroke-dasharray="34 6"/>
<line x1="602.9" y1="1538.2" x2="842.9" y2="1604.2" stroke="#4c9be6" stroke-width="3" stroke-dasharray="20 20"/>
<line x1="602.2" y1="1549.5" x2="842.2" y2="1615.5" stroke="#1a5cb4" stroke-width="3" stroke-dasharray="34 6"/>
<line x1="601.8" y1="1554.5" x2="841.8" y2="1620.5" stroke="#4c9be6" stroke-width="3" stroke-dasharray="20 20"/>
<line x1="601.1" y1="1565.7" x2="841.1" y2="1631.7" stroke="#1a5cb4" stroke-width="5" stroke-dasharray="34 6"/>
<line x1="600.7" y1="1570.7" x2="840.7" y2="1636.7" stroke="#4c9be6" stroke-width="3" stroke-dasharray="20 20"/>
<line x1="600.0" y1="1582.0" x2="840.0" y2="1648.0" stroke="#1a5cb4" stroke-width="3" stroke-dasharray="34 6"/>
<line x1="599.7" y1="1587.0" x2="839.7" y2="1653.0" stroke="#4c9be6" stroke-width="3" stroke-dasharray="20 20"/>
<line x1="598.9" y1="1598.3" x2="838.9" y2="1664.3" stroke="#1a5cb4" stroke-width="5" stroke-dasharray="34 6"/>
<line x1="598.6" y1="1603.2" x2="838.6" y2="1669.2" stroke="#4c9be6" stroke-width="3" stroke-dasharray="20 20"/>
<line x1="597.8" y1="1614.5" x2="837.8" y2="1680.5" stroke="#1a5cb4" stroke-width="3" stroke-dasharray="34 6"/>
<line x1="597.5" y1="1619.5" x2="837.5" y2="1685.5" stroke="#4c9be6" stroke-width="3" stroke-dasharray="20 20"/>
<line x1="596.8" y1="1630.8" x2="836.8" y2="1696.8" stroke="#1a5cb4" stroke-width="5" stroke-dasharray="34 6"/>
<line x1="596.4" y1="1635.7" x2="836.4" y2="1701.7" stroke="#4c9be6" stroke-width="3" stroke-dasharray="20 20"/>
<path d="M557.0,1516.0 L601.0,1524.8 A20.0,57.0 0 0 1 601.0,1638.8 L557.0,1630.0 Z" fill="#8d909c" />
<path d="M559.0,1516.0 L559.0,1630.0" fill="none" stroke="#2e3038" stroke-width="1" />
<ellipse cx="557.0" cy="1573.0" rx="20.0" ry="57.0" fill="#4a4d58" stroke="#c4c8e6" stroke-width="3" />
<line x1="559.0" y1="1522.3" x2="579.0" y2="1526.7" stroke="#d9dae6" stroke-width="3" />
<line x1="559.0" y1="1535.0" x2="579.0" y2="1539.4" stroke="#d9dae6" stroke-width="3" />
<line x1="559.0" y1="1547.7" x2="579.0" y2="1552.1" stroke="#d9dae6" stroke-width="3" />
<line x1="559.0" y1="1560.3" x2="579.0" y2="1564.7" stroke="#d9dae6" stroke-width="3" />
<line x1="559.0" y1="1573.0" x2="579.0" y2="1577.4" stroke="#d9dae6" stroke-width="3" />
<line x1="559.0" y1="1585.7" x2="579.0" y2="1590.1" stroke="#d9dae6" stroke-width="3" />
<line x1="559.0" y1="1598.3" x2="579.0" y2="1602.7" stroke="#d9dae6" stroke-width="3" />
<line x1="559.0" y1="1611.0" x2="579.0" y2="1615.4" stroke="#d9dae6" stroke-width="3" />
<line x1="559.0" y1="1623.7" x2="579.0" y2="1628.1" stroke="#d9dae6" stroke-width="3" />
<path d="M581.2,1520.0 L581.2,1636.0" fill="none" stroke="#3a3c46" stroke-width="11.0" />
<ellipse cx="842.0" cy="1648.0" rx="34.0" ry="56.0" fill="#7d82b4" stroke="#555a88" stroke-width="1.5" transform="rotate(-12.0 842.0 1648.0)" />
<ellipse cx="846.0" cy="1650.0" rx="22.0" ry="40.0" fill="#3a3d50" transform="rotate(-12.0 846.0 1650.0)" />
<ellipse cx="848.0" cy="1652.0" rx="14.0" ry="24.0" fill="#7d82b4" transform="rotate(-12.0 848.0 1652.0)" />
<rect x="858.0" y="1650.0" width="40.0" height="18.0" fill="#9a9ca8" transform="rotate(14 858 1650)"/>
<ellipse cx="880.0" cy="1652.0" rx="16.0" ry="26.0" fill="#f0f0f4" stroke="#a9abb6" stroke-width="1.2" transform="rotate(-12.0 880.0 1652.0)" />
<ellipse cx="892.0" cy="1656.0" rx="11.0" ry="19.0" fill="#dcdde4" stroke="#8b8d99" stroke-width="1.2" transform="rotate(-12.0 892.0 1656.0)" />
<ellipse cx="906.0" cy="1662.0" rx="8.0" ry="13.0" fill="#5a5d6c" transform="rotate(-12.0 906.0 1662.0)" />
<path d="M912,1664 L950,1676" fill="none" stroke="#8d909c" stroke-width="12" />
<line x1="872.0" y1="1545.0" x2="880.0" y2="1632.0" stroke="#222" stroke-width="1.2" />
<path d="M340,1686 L434,1716" fill="none" stroke="#777a88" stroke-width="17" stroke-linecap="round"/>
<path d="M340,1685 L434,1715" fill="none" stroke="#b4b6c2" stroke-width="12" stroke-linecap="round"/>
<line x1="250.0" y1="1650.0" x2="336.0" y2="1684.0" stroke="#6c7080" stroke-width="1.4" stroke-dasharray="12 5 3 5"/>
<polygon points="494.6,1679.3 510.0,1683.6 508.1,1667.8 492.7,1663.5" fill="#2a7fd8" />
<polygon points="494.6,1679.3 498.5,1680.4 496.6,1664.6 492.7,1663.5" fill="#1a5cb4" />
<polygon points="487.4,1787.0 502.8,1791.3 499.2,1800.5 483.8,1796.2" fill="#1a5cb4" />
<polygon points="487.4,1787.0 491.2,1788.1 487.7,1797.3 483.8,1796.2" fill="#2a7fd8" />
<polygon points="518.1,1685.8 533.5,1690.1 531.3,1679.3 515.8,1675.0" fill="#2a7fd8" />
<polygon points="518.1,1685.8 521.9,1686.9 519.7,1676.1 515.8,1675.0" fill="#1a5cb4" />
<polygon points="510.8,1793.6 526.2,1797.9 522.3,1812.0 506.9,1807.7" fill="#1a5cb4" />
<polygon points="510.8,1793.6 514.7,1794.7 510.8,1808.8 506.9,1807.7" fill="#2a7fd8" />
<polygon points="541.5,1692.4 556.9,1696.7 555.1,1680.9 539.6,1676.6" fill="#2a7fd8" />
<polygon points="541.5,1692.4 545.4,1693.4 543.5,1677.7 539.6,1676.6" fill="#1a5cb4" />
<polygon points="534.3,1800.1 549.7,1804.4 546.1,1813.6 530.7,1809.3" fill="#1a5cb4" />
<polygon points="534.3,1800.1 538.1,1801.2 534.6,1810.4 530.7,1809.3" fill="#2a7fd8" />
<polygon points="565.0,1698.9 580.4,1703.2 578.2,1692.4 562.8,1688.1" fill="#2a7fd8" />
<polygon points="565.0,1698.9 568.8,1700.0 566.6,1689.2 562.8,1688.1" fill="#1a5cb4" />
<polygon points="557.8,1806.7 573.2,1810.9 569.3,1825.1 553.9,1820.8" fill="#1a5cb4" />
<polygon points="557.8,1806.7 561.6,1807.7 557.7,1821.9 553.9,1820.8" fill="#2a7fd8" />
<polygon points="588.4,1705.4 603.9,1709.7 602.0,1694.0 586.6,1689.7" fill="#2a7fd8" />
<polygon points="588.4,1705.4 592.3,1706.5 590.4,1690.7 586.6,1689.7" fill="#1a5cb4" />
<polygon points="581.2,1813.2 596.6,1817.5 593.1,1826.7 577.7,1822.4" fill="#1a5cb4" />
<polygon points="581.2,1813.2 585.1,1814.3 581.5,1823.4 577.7,1822.4" fill="#2a7fd8" />
<polygon points="611.9,1712.0 627.3,1716.3 625.1,1705.5 609.7,1701.2" fill="#2a7fd8" />
<polygon points="611.9,1712.0 615.8,1713.0 613.5,1702.3 609.7,1701.2" fill="#1a5cb4" />
<polygon points="604.7,1819.7 620.1,1824.0 616.2,1838.2 600.8,1833.9" fill="#1a5cb4" />
<polygon points="604.7,1819.7 608.5,1820.8 604.6,1835.0 600.8,1833.9" fill="#2a7fd8" />
<polygon points="635.4,1718.5 650.8,1722.8 648.9,1707.0 633.5,1702.7" fill="#2a7fd8" />
<polygon points="635.4,1718.5 639.2,1719.6 637.3,1703.8 633.5,1702.7" fill="#1a5cb4" />
<polygon points="628.1,1826.3 643.6,1830.6 640.0,1839.7 624.6,1835.4" fill="#1a5cb4" />
<polygon points="628.1,1826.3 632.0,1827.3 628.4,1836.5 624.6,1835.4" fill="#2a7fd8" />
<polygon points="658.8,1725.1 674.2,1729.3 672.0,1718.6 656.6,1714.3" fill="#2a7fd8" />
<polygon points="658.8,1725.1 662.7,1726.1 660.5,1715.3 656.6,1714.3" fill="#1a5cb4" />
<polygon points="651.6,1832.8 667.0,1837.1 663.1,1851.3 647.7,1847.0" fill="#1a5cb4" />
<polygon points="651.6,1832.8 655.5,1833.9 651.6,1848.0 647.7,1847.0" fill="#2a7fd8" />
<polygon points="682.3,1731.6 697.7,1735.9 695.8,1720.1 680.4,1715.8" fill="#2a7fd8" />
<polygon points="682.3,1731.6 686.1,1732.7 684.3,1716.9 680.4,1715.8" fill="#1a5cb4" />
<polygon points="675.1,1839.3 690.5,1843.6 686.9,1852.8 671.5,1848.5" fill="#1a5cb4" />
<polygon points="675.1,1839.3 678.9,1840.4 675.4,1849.6 671.5,1848.5" fill="#2a7fd8" />
<polygon points="705.8,1738.1 721.2,1742.4 718.9,1731.6 703.5,1727.3" fill="#2a7fd8" />
<polygon points="705.8,1738.1 709.6,1739.2 707.4,1728.4 703.5,1727.3" fill="#1a5cb4" />
<polygon points="698.5,1845.9 713.9,1850.2 710.0,1864.3 694.6,1860.0" fill="#1a5cb4" />
<polygon points="698.5,1845.9 702.4,1847.0 698.5,1861.1 694.6,1860.0" fill="#2a7fd8" />
<polygon points="729.2,1744.7 744.6,1749.0 742.7,1733.2 727.3,1728.9" fill="#2a7fd8" />
<polygon points="729.2,1744.7 733.1,1745.7 731.2,1730.0 727.3,1728.9" fill="#1a5cb4" />
<polygon points="722.0,1852.4 737.4,1856.7 733.8,1865.9 718.4,1861.6" fill="#1a5cb4" />
<polygon points="722.0,1852.4 725.8,1853.5 722.3,1862.7 718.4,1861.6" fill="#2a7fd8" />
<ellipse cx="494.0" cy="1734.0" rx="25.7" ry="57.0" fill="#1a5cb4" transform="rotate(3.8 494.0 1734.0)" />
<polygon points="497.8,1677.1 741.8,1745.1 734.2,1858.9 490.2,1790.9" fill="#2a7fd8" />
<line x1="497.3" y1="1685.3" x2="741.3" y2="1753.3" stroke="#1a5cb4" stroke-width="5" stroke-dasharray="34 6"/>
<line x1="496.9" y1="1690.2" x2="740.9" y2="1758.2" stroke="#4c9be6" stroke-width="3" stroke-dasharray="20 20"/>
<line x1="496.2" y1="1701.5" x2="740.2" y2="1769.5" stroke="#1a5cb4" stroke-width="3" stroke-dasharray="34 6"/>
<line x1="495.8" y1="1706.5" x2="739.8" y2="1774.5" stroke="#4c9be6" stroke-width="3" stroke-dasharray="20 20"/>
<line x1="495.1" y1="1717.8" x2="739.1" y2="1785.8" stroke="#1a5cb4" stroke-width="5" stroke-dasharray="34 6"/>
<line x1="494.8" y1="1722.7" x2="738.8" y2="1790.7" stroke="#4c9be6" stroke-width="3" stroke-dasharray="20 20"/>
<line x1="494.0" y1="1734.0" x2="738.0" y2="1802.0" stroke="#1a5cb4" stroke-width="3" stroke-dasharray="34 6"/>
<line x1="493.7" y1="1739.0" x2="737.7" y2="1807.0" stroke="#4c9be6" stroke-width="3" stroke-dasharray="20 20"/>
<line x1="492.9" y1="1750.2" x2="736.9" y2="1818.2" stroke="#1a5cb4" stroke-width="5" stroke-dasharray="34 6"/>
<line x1="492.6" y1="1755.2" x2="736.6" y2="1823.2" stroke="#4c9be6" stroke-width="3" stroke-dasharray="20 20"/>
<line x1="491.8" y1="1766.5" x2="735.8" y2="1834.5" stroke="#1a5cb4" stroke-width="3" stroke-dasharray="34 6"/>
<line x1="491.5" y1="1771.5" x2="735.5" y2="1839.5" stroke="#4c9be6" stroke-width="3" stroke-dasharray="20 20"/>
<line x1="490.7" y1="1782.7" x2="734.7" y2="1850.7" stroke="#1a5cb4" stroke-width="5" stroke-dasharray="34 6"/>
<line x1="490.4" y1="1787.7" x2="734.4" y2="1855.7" stroke="#4c9be6" stroke-width="3" stroke-dasharray="20 20"/>
<path d="M451.0,1668.0 L495.0,1676.8 A20.0,57.0 0 0 1 495.0,1790.8 L451.0,1782.0 Z" fill="#8d909c" />
<path d="M453.0,1668.0 L453.0,1782.0" fill="none" stroke="#2e3038" stroke-width="1" />
<ellipse cx="451.0" cy="1725.0" rx="20.0" ry="57.0" fill="#4a4d58" stroke="#c4c8e6" stroke-width="3" />
<line x1="453.0" y1="1674.3" x2="473.0" y2="1678.7" stroke="#d9dae6" stroke-width="3" />
<line x1="453.0" y1="1687.0" x2="473.0" y2="1691.4" stroke="#d9dae6" stroke-width="3" />
<line x1="453.0" y1="1699.7" x2="473.0" y2="1704.1" stroke="#d9dae6" stroke-width="3" />
<line x1="453.0" y1="1712.3" x2="473.0" y2="1716.7" stroke="#d9dae6" stroke-width="3" />
<line x1="453.0" y1="1725.0" x2="473.0" y2="1729.4" stroke="#d9dae6" stroke-width="3" />
<line x1="453.0" y1="1737.7" x2="473.0" y2="1742.1" stroke="#d9dae6" stroke-width="3" />
<line x1="453.0" y1="1750.3" x2="473.0" y2="1754.7" stroke="#d9dae6" stroke-width="3" />
<line x1="453.0" y1="1763.0" x2="473.0" y2="1767.4" stroke="#d9dae6" stroke-width="3" />
<line x1="453.0" y1="1775.7" x2="473.0" y2="1780.1" stroke="#d9dae6" stroke-width="3" />
<path d="M475.2,1672.0 L475.2,1788.0" fill="none" stroke="#3a3c46" stroke-width="11.0" />
<ellipse cx="738.0" cy="1802.0" rx="34.0" ry="56.0" fill="#7d82b4" stroke="#555a88" stroke-width="1.5" transform="rotate(-12.0 738.0 1802.0)" />
<ellipse cx="742.0" cy="1804.0" rx="22.0" ry="40.0" fill="#3a3d50" transform="rotate(-12.0 742.0 1804.0)" />
<ellipse cx="744.0" cy="1806.0" rx="13.0" ry="22.0" fill="#7d82b4" transform="rotate(-12.0 744.0 1806.0)" />
<path d="M744,1800 L858,1830" fill="none" stroke="#777a88" stroke-width="14" />
<path d="M744,1799 L858,1829" fill="none" stroke="#b4b6c2" stroke-width="9" />
<ellipse cx="818.0" cy="1818.0" rx="9.0" ry="14.0" fill="#4a4d58" transform="rotate(-12.0 818.0 1818.0)" />
<rect x="792.0" y="1840.0" width="14.0" height="5.0" fill="#c9cbd4" stroke="#666" stroke-width="0.8" transform="rotate(20 792 1840)"/>
<line x1="513.0" y1="1790.0" x2="513.0" y2="1858.0" stroke="#6c7080" stroke-width="1.4" stroke-dasharray="8 5"/>
<rect x="508.0" y="1859.0" width="11.0" height="100.0" fill="#c9cbd4" stroke="#8b8d99" stroke-width="1" />
<rect x="506.0" y="1859.0" width="15.0" height="8.0" fill="#b0b2be" stroke="#777" stroke-width="1" />
<ellipse cx="944.0" cy="1868.0" rx="14.0" ry="18.0" fill="#e6e7ec" stroke="#a9abb6" stroke-width="1.2" />
<ellipse cx="944.0" cy="1868.0" rx="7.0" ry="10.0" fill="#f6f6f8" stroke="#a9abb6" stroke-width="1" />
<path d="M900,1846 L1010,1872" fill="none" stroke="#a7a9b6" stroke-width="10" />
<polygon points="880.0,1686.0 1159.0,1605.0 1619.0,1732.0 1337.0,1812.0" fill="#e4e5ec" stroke="#7d808c" stroke-width="1.5" />
<polygon points="1159.0,1609.0 1616.0,1734.0 1560.0,1760.0 1140.0,1660.0" fill="#eeeff4" />
<polygon points="890.0,1690.0 1080.0,1634.0 1090.0,1730.0 960.0,1760.0" fill="#dcdde6" stroke="#9a9ca8" stroke-width="1" />
<polygon points="964.0,1668.0 1078.0,1636.0 1090.0,1730.0 964.0,1720.0" fill="#e9eaf0" />
<polygon points="1130.0,1614.0 1334.0,1652.0 1310.0,1744.0 1120.0,1700.0" fill="#d6d8e2" stroke="#8b8d99" stroke-width="1" />
<line x1="1140.0" y1="1622.0" x2="1130.0" y2="1700.0" stroke="#5d606c" stroke-width="2.2" />
<line x1="1148.9" y1="1623.6" x2="1138.9" y2="1701.6" stroke="#5d606c" stroke-width="2.2" />
<line x1="1157.7" y1="1625.2" x2="1147.7" y2="1703.2" stroke="#5d606c" stroke-width="2.2" />
<line x1="1166.6" y1="1626.9" x2="1156.6" y2="1704.9" stroke="#5d606c" stroke-width="2.2" />
<line x1="1175.4" y1="1628.5" x2="1165.4" y2="1706.5" stroke="#5d606c" stroke-width="2.2" />
<line x1="1184.3" y1="1630.1" x2="1174.3" y2="1708.1" stroke="#5d606c" stroke-width="2.2" />
<line x1="1193.1" y1="1631.7" x2="1183.1" y2="1709.7" stroke="#5d606c" stroke-width="2.2" />
<line x1="1202.0" y1="1633.3" x2="1192.0" y2="1711.3" stroke="#5d606c" stroke-width="2.2" />
<line x1="1210.9" y1="1635.0" x2="1200.9" y2="1713.0" stroke="#5d606c" stroke-width="2.2" />
<line x1="1219.7" y1="1636.6" x2="1209.7" y2="1714.6" stroke="#5d606c" stroke-width="2.2" />
<line x1="1228.6" y1="1638.2" x2="1218.6" y2="1716.2" stroke="#5d606c" stroke-width="2.2" />
<line x1="1237.4" y1="1639.8" x2="1227.4" y2="1717.8" stroke="#5d606c" stroke-width="2.2" />
<line x1="1246.3" y1="1641.4" x2="1236.3" y2="1719.4" stroke="#5d606c" stroke-width="2.2" />
<line x1="1255.1" y1="1643.0" x2="1245.1" y2="1721.0" stroke="#5d606c" stroke-width="2.2" />
<line x1="1264.0" y1="1644.7" x2="1254.0" y2="1722.7" stroke="#5d606c" stroke-width="2.2" />
<line x1="1272.9" y1="1646.3" x2="1262.9" y2="1724.3" stroke="#5d606c" stroke-width="2.2" />
<line x1="1281.7" y1="1647.9" x2="1271.7" y2="1725.9" stroke="#5d606c" stroke-width="2.2" />
<line x1="1290.6" y1="1649.5" x2="1280.6" y2="1727.5" stroke="#5d606c" stroke-width="2.2" />
<line x1="1299.4" y1="1651.1" x2="1289.4" y2="1729.1" stroke="#5d606c" stroke-width="2.2" />
<line x1="1308.3" y1="1652.8" x2="1298.3" y2="1730.8" stroke="#5d606c" stroke-width="2.2" />
<line x1="1317.1" y1="1654.4" x2="1307.1" y2="1732.4" stroke="#5d606c" stroke-width="2.2" />
<line x1="1326.0" y1="1656.0" x2="1316.0" y2="1734.0" stroke="#5d606c" stroke-width="2.2" />
<polygon points="1470.0,1720.0 1600.0,1742.0 1560.0,1780.0 1460.0,1760.0" fill="#d6d8e2" />
<line x1="1478.0" y1="1724.0" x2="1472.0" y2="1764.0" stroke="#5d606c" stroke-width="2" />
<line x1="1488.0" y1="1725.6" x2="1482.0" y2="1765.2" stroke="#5d606c" stroke-width="2" />
<line x1="1498.0" y1="1727.2" x2="1492.0" y2="1766.4" stroke="#5d606c" stroke-width="2" />
<line x1="1508.0" y1="1728.8" x2="1502.0" y2="1767.6" stroke="#5d606c" stroke-width="2" />
<line x1="1518.0" y1="1730.4" x2="1512.0" y2="1768.8" stroke="#5d606c" stroke-width="2" />
<line x1="1528.0" y1="1732.0" x2="1522.0" y2="1770.0" stroke="#5d606c" stroke-width="2" />
<line x1="1538.0" y1="1733.6" x2="1532.0" y2="1771.2" stroke="#5d606c" stroke-width="2" />
<line x1="1548.0" y1="1735.2" x2="1542.0" y2="1772.4" stroke="#5d606c" stroke-width="2" />
<line x1="1558.0" y1="1736.8" x2="1552.0" y2="1773.6" stroke="#5d606c" stroke-width="2" />
<line x1="1568.0" y1="1738.4" x2="1562.0" y2="1774.8" stroke="#5d606c" stroke-width="2" />
<line x1="1578.0" y1="1740.0" x2="1572.0" y2="1776.0" stroke="#5d606c" stroke-width="2" />
<line x1="1588.0" y1="1741.6" x2="1582.0" y2="1777.2" stroke="#5d606c" stroke-width="2" />
<polygon points="1120.0,1700.0 1310.0,1744.0 1300.0,1800.0 1118.0,1752.0" fill="#cfd1db" stroke="#8b8d99" stroke-width="1" />
<ellipse cx="1012.0" cy="1698.0" rx="10.0" ry="14.0" fill="#c4c6d0" stroke="#7d808c" stroke-width="1.5" />
<ellipse cx="1098.0" cy="1706.0" rx="5.0" ry="6.0" fill="#8b8d99" />
<path d="M1340,1646 Q1360,1632 1400,1640 L1400,1770 Q1390,1796 1350,1800 Q1300,1780 1306,1720 Q1316,1670 1340,1646 Z" fill="#74788c" />
<path d="M1346,1648 Q1366,1634 1404,1642 L1404,1700 Q1360,1712 1344,1740 L1334,1722 Q1330,1680 1346,1648 Z" fill="url(#im)" />
<path d="M1344,1740 Q1360,1712 1404,1700 L1404,1776 Q1380,1798 1356,1798 Q1336,1780 1344,1740 Z" fill="#2a8ada" />
<polygon points="1396.0,1652.0 1440.0,1640.0 1440.0,1790.0 1396.0,1792.0" fill="#74788c" />
<ellipse cx="1396.0" cy="1722.0" rx="30.0" ry="70.0" fill="#74788c" />
<polygon points="1420.0,1662.0 1470.0,1660.0 1470.0,1790.0 1420.0,1790.0" fill="url(#imw)" />
<ellipse cx="1420.0" cy="1726.0" rx="26.0" ry="65.0" fill="#c4c8e6" />
<ellipse cx="1458.0" cy="1724.0" rx="54.0" ry="65.0" fill="url(#imw)" stroke="#c4c8d8" stroke-width="1" />
<polygon points="1352.0,1591.0 1473.0,1559.0 1582.0,1593.0 1464.0,1627.0" fill="#e6e6ea" stroke="#b0b2ba" stroke-width="1" />
<polygon points="1352.0,1591.0 1464.0,1627.0 1464.0,1662.0 1352.0,1632.0" fill="#f7f7f8" stroke="#b0b2ba" stroke-width="1" />
<polygon points="1464.0,1627.0 1582.0,1593.0 1582.0,1630.0 1464.0,1662.0" fill="#eeeef0" stroke="#b0b2ba" stroke-width="1" />
<line x1="1412.0" y1="1575.0" x2="1524.0" y2="1610.0" stroke="#b0b2ba" stroke-width="1" />
<polygon points="1337.0,1812.0 1619.0,1734.0 1566.0,1826.0 1566.0,1908.0 1364.0,1960.0 1350.0,1880.0" fill="url(#chr)" stroke="#7d808c" stroke-width="1.5" />
<polygon points="882.0,1690.0 1337.0,1812.0 1352.0,1876.0 1326.0,1860.0 918.0,1768.0" fill="#a9abb6" stroke="#7d808c" stroke-width="1.5" />
<polygon points="918.0,1768.0 1326.0,1860.0 1352.0,1876.0 1364.0,1960.0 1340.0,1962.0 1024.0,1866.0 1000.0,1880.0 930.0,1850.0" fill="url(#chf)" stroke="#7d808c" stroke-width="1.5" />
<polygon points="928.0,1786.0 968.0,1796.0 968.0,1850.0 930.0,1840.0" fill="none" stroke="#8b8d99" stroke-width="1.2" />
<polygon points="974.0,1798.0 1014.0,1808.0 1014.0,1862.0 974.0,1852.0" fill="none" stroke="#8b8d99" stroke-width="1.2" />
<polygon points="1250.0,1866.0 1290.0,1876.0 1292.0,1936.0 1252.0,1924.0" fill="none" stroke="#8b8d99" stroke-width="1.2" />
<polygon points="1296.0,1878.0 1336.0,1888.0 1338.0,1950.0 1298.0,1938.0" fill="none" stroke="#8b8d99" stroke-width="1.2" />
<polyline points="880.0,1686.0 1159.0,1605.0 1619.0,1732.0 1337.0,1812.0 880.0,1686.0" fill="none" stroke="#6d707c" stroke-width="2.5" />
<polyline points="886.0,1688.0 1160.0,1611.0 1606.0,1733.0 1337.0,1806.0 886.0,1688.0" fill="none" stroke="#f2f2f6" stroke-width="1.5" />
<line x1="1010.0" y1="1704.0" x2="1330.0" y2="1770.0" stroke="#6c7080" stroke-width="1.4" stroke-dasharray="12 5 3 5"/>
<line x1="1100.0" y1="1960.0" x2="1260.0" y2="1918.0" stroke="#6c7080" stroke-width="1.4" stroke-dasharray="12 5 3 5"/>
<ellipse cx="1160.0" cy="1744.0" rx="6.0" ry="5.0" fill="#8b8d99" stroke="#444" stroke-width="1" />
<line x1="1124.0" y1="1552.0" x2="1154.0" y2="1714.4" stroke="#8aa4d6" stroke-width="1.6"  stroke-dasharray="5 3"/>
<polygon points="1158.0,1736.0 1149.1,1715.3 1158.9,1713.5" fill="#2360c8" />
<ellipse cx="1449.0" cy="1828.0" rx="8.0" ry="11.0" fill="#2a94de" stroke="#1c64ba" stroke-width="1" />
<ellipse cx="1494.0" cy="1842.0" rx="16.0" ry="22.0" fill="#f4f4f6" stroke="#555" stroke-width="1.5" transform="rotate(-10.0 1494.0 1842.0)" />
<ellipse cx="1494.0" cy="1842.0" rx="8.0" ry="12.0" fill="#e0e1e8" stroke="#555" stroke-width="1.5" transform="rotate(-10.0 1494.0 1842.0)" />
<ellipse cx="1530.0" cy="1848.0" rx="13.0" ry="19.0" fill="#4a4d5c" transform="rotate(-10.0 1530.0 1848.0)" />
<ellipse cx="1536.0" cy="1850.0" rx="9.0" ry="14.0" fill="#74788c" transform="rotate(-10.0 1536.0 1850.0)" />
<path d="M1533,1686 L1498,1796" fill="none" stroke="#222" stroke-width="1.5" />
<polygon points="1498.0,1800.0 1492.0,1782.0 1503.0,1784.0" fill="#fff" stroke="#222" stroke-width="1.2" />
<ellipse cx="1570.0" cy="1836.0" rx="6.0" ry="7.0" fill="#e6e7ec" stroke="#777" stroke-width="1.2" />
<polygon points="1586.0,1836.0 1626.0,1846.0 1626.0,1862.0 1586.0,1852.0" fill="#b4b6c2" stroke="#777a86" stroke-width="1" />
<polygon points="1626.0,1846.0 1638.0,1850.0 1638.0,1862.0 1626.0,1862.0" fill="#8b8d99" />
<ellipse cx="1654.0" cy="1866.0" rx="9.0" ry="11.0" fill="#f0f0f4" stroke="#8b8d99" stroke-width="1.5" />
<rect x="1690.0" y="1872.0" width="12.0" height="8.0" fill="#777a86" />
<ellipse cx="1708.0" cy="1880.0" rx="5.0" ry="6.0" fill="#c9cbd4" stroke="#555" stroke-width="1" />
<ellipse cx="1412.0" cy="1880.0" rx="5.0" ry="5.0" fill="#d9dae2" stroke="#666" stroke-width="1" />
<polygon points="1430.0,1876.0 1480.0,1888.0 1480.0,1908.0 1430.0,1896.0" fill="#b4b6c2" stroke="#777a86" stroke-width="1" />
<ellipse cx="1498.0" cy="1904.0" rx="11.0" ry="13.0" fill="#f0f0f4" stroke="#8b8d99" stroke-width="1.5" />
<ellipse cx="1543.0" cy="1918.0" rx="6.0" ry="6.0" fill="#d9dae2" stroke="#666" stroke-width="1" />
<rect x="1614.0" y="1884.0" width="22.0" height="8.0" fill="#8b8d99" stroke="#444" stroke-width="1" transform="rotate(12 1614 1884)"/>
<ellipse cx="1436.0" cy="1950.0" rx="6.0" ry="6.0" fill="#d9dae2" stroke="#666" stroke-width="1" />
<line x1="1436.0" y1="1812.0" x2="1760.0" y2="1890.0" stroke="#6c7080" stroke-width="1.4" stroke-dasharray="12 5 3 5"/>
<line x1="1390.0" y1="1870.0" x2="1760.0" y2="1960.0" stroke="#6c7080" stroke-width="1.4" stroke-dasharray="12 5 3 5"/>
<line x1="1380.0" y1="1960.0" x2="1760.0" y2="2040.0" stroke="#6c7080" stroke-width="1.4" stroke-dasharray="12 5 3 5"/>
<polygon points="1221.0,1903.0 1263.0,1913.0 1267.0,1991.0 1251.0,1989.0 1225.0,1983.0" fill="#2a84d8" stroke="#1c64ba" stroke-width="1.2" />
<ellipse cx="1245.0" cy="1969.0" rx="12.0" ry="7.0" fill="#3a98e6" stroke="#1c64ba" stroke-width="1" />
<ellipse cx="1239.0" cy="1923.0" rx="3.0" ry="3.0" fill="#9a9ca8" />
<polygon points="852.0,1802.0 894.0,1812.0 898.0,1890.0 882.0,1888.0 856.0,1882.0" fill="#2a84d8" stroke="#1c64ba" stroke-width="1.2" />
<ellipse cx="876.0" cy="1868.0" rx="12.0" ry="7.0" fill="#3a98e6" stroke="#1c64ba" stroke-width="1" />
<ellipse cx="870.0" cy="1822.0" rx="3.0" ry="3.0" fill="#9a9ca8" />
<line x1="1264.0" y1="1915.0" x2="1320.0" y2="1900.0" stroke="#6c7080" stroke-width="1.4" stroke-dasharray="12 5 3 5"/>
<rect x="1160.0" y="1938.0" width="10.0" height="5.0" fill="#9a9ca8" stroke="#444" stroke-width="0.8" />
<line x1="1172.0" y1="1940.0" x2="1222.0" y2="1926.0" stroke="#6c7080" stroke-width="1.4" stroke-dasharray="12 5 3 5"/>
<ellipse cx="1412.0" cy="1984.0" rx="12.0" ry="17.0" fill="#2e3038" />
<ellipse cx="1420.0" cy="1986.0" rx="11.0" ry="16.0" fill="#3a3d4c" stroke="#7d82b4" stroke-width="1.5" />
<ellipse cx="1423.0" cy="1987.0" rx="6.0" ry="9.0" fill="#555868" />
<polygon points="1156.6,2025.3 1172.0,2029.6 1170.1,2013.8 1154.7,2009.6" fill="#2a7fd8" />
<polygon points="1156.6,2025.3 1160.5,2026.4 1158.6,2010.6 1154.7,2009.6" fill="#1a5cb4" />
<polygon points="1149.7,2129.1 1165.1,2133.3 1161.6,2142.5 1146.2,2138.3" fill="#1a5cb4" />
<polygon points="1149.7,2129.1 1153.6,2130.2 1150.0,2139.3 1146.2,2138.3" fill="#2a7fd8" />
<polygon points="1181.0,2032.0 1196.4,2036.3 1194.2,2025.5 1178.7,2021.3" fill="#2a7fd8" />
<polygon points="1181.0,2032.0 1184.8,2033.1 1182.6,2022.3 1178.7,2021.3" fill="#1a5cb4" />
<polygon points="1174.1,2135.8 1189.5,2140.1 1185.6,2154.2 1170.2,2150.0" fill="#1a5cb4" />
<polygon points="1174.1,2135.8 1177.9,2136.9 1174.1,2151.0 1170.2,2150.0" fill="#2a7fd8" />
<polygon points="1205.3,2038.7 1220.7,2043.0 1218.8,2027.2 1203.4,2023.0" fill="#2a7fd8" />
<polygon points="1205.3,2038.7 1209.2,2039.8 1207.3,2024.0 1203.4,2023.0" fill="#1a5cb4" />
<polygon points="1198.4,2142.5 1213.9,2146.8 1210.3,2155.9 1194.9,2151.7" fill="#1a5cb4" />
<polygon points="1198.4,2142.5 1202.3,2143.6 1198.7,2152.8 1194.9,2151.7" fill="#2a7fd8" />
<polygon points="1229.7,2045.4 1245.1,2049.7 1242.9,2038.9 1227.5,2034.7" fill="#2a7fd8" />
<polygon points="1229.7,2045.4 1233.5,2046.5 1231.3,2035.7 1227.5,2034.7" fill="#1a5cb4" />
<polygon points="1222.8,2149.2 1238.2,2153.5 1234.3,2167.6 1218.9,2163.4" fill="#1a5cb4" />
<polygon points="1222.8,2149.2 1226.7,2150.3 1222.8,2164.4 1218.9,2163.4" fill="#2a7fd8" />
<polygon points="1254.0,2052.1 1269.5,2056.4 1267.6,2040.6 1252.1,2036.4" fill="#2a7fd8" />
<polygon points="1254.0,2052.1 1257.9,2053.2 1256.0,2037.4 1252.1,2036.4" fill="#1a5cb4" />
<polygon points="1247.2,2155.9 1262.6,2160.2 1259.0,2169.3 1243.6,2165.1" fill="#1a5cb4" />
<polygon points="1247.2,2155.9 1251.0,2157.0 1247.5,2166.2 1243.6,2165.1" fill="#2a7fd8" />
<polygon points="1278.4,2058.8 1293.8,2063.1 1291.6,2052.3 1276.2,2048.1" fill="#2a7fd8" />
<polygon points="1278.4,2058.8 1282.3,2059.9 1280.0,2049.1 1276.2,2048.1" fill="#1a5cb4" />
<polygon points="1271.5,2162.6 1287.0,2166.9 1283.1,2181.0 1267.6,2176.8" fill="#1a5cb4" />
<polygon points="1271.5,2162.6 1275.4,2163.7 1271.5,2177.8 1267.6,2176.8" fill="#2a7fd8" />
<polygon points="1302.8,2065.5 1318.2,2069.8 1316.3,2054.0 1300.9,2049.8" fill="#2a7fd8" />
<polygon points="1302.8,2065.5 1306.6,2066.6 1304.7,2050.8 1300.9,2049.8" fill="#1a5cb4" />
<polygon points="1295.9,2169.3 1311.3,2173.6 1307.8,2182.7 1292.3,2178.5" fill="#1a5cb4" />
<polygon points="1295.9,2169.3 1299.7,2170.4 1296.2,2179.6 1292.3,2178.5" fill="#2a7fd8" />
<polygon points="1327.1,2072.2 1342.6,2076.5 1340.3,2065.7 1324.9,2061.5" fill="#2a7fd8" />
<polygon points="1327.1,2072.2 1331.0,2073.3 1328.8,2062.5 1324.9,2061.5" fill="#1a5cb4" />
<polygon points="1320.3,2176.0 1335.7,2180.3 1331.8,2194.4 1316.4,2190.2" fill="#1a5cb4" />
<polygon points="1320.3,2176.0 1324.1,2177.1 1320.2,2191.3 1316.4,2190.2" fill="#2a7fd8" />
<polygon points="1351.5,2078.9 1366.9,2083.2 1365.0,2067.4 1349.6,2063.2" fill="#2a7fd8" />
<polygon points="1351.5,2078.9 1355.3,2080.0 1353.4,2064.2 1349.6,2063.2" fill="#1a5cb4" />
<polygon points="1344.6,2182.7 1360.0,2187.0 1356.5,2196.1 1341.1,2191.9" fill="#1a5cb4" />
<polygon points="1344.6,2182.7 1348.5,2183.8 1344.9,2193.0 1341.1,2191.9" fill="#2a7fd8" />
<polygon points="1375.9,2085.7 1391.3,2089.9 1389.1,2079.1 1373.6,2074.9" fill="#2a7fd8" />
<polygon points="1375.9,2085.7 1379.7,2086.7 1377.5,2075.9 1373.6,2074.9" fill="#1a5cb4" />
<polygon points="1369.0,2189.4 1384.4,2193.7 1380.5,2207.8 1365.1,2203.6" fill="#1a5cb4" />
<polygon points="1369.0,2189.4 1372.8,2190.5 1368.9,2204.7 1365.1,2203.6" fill="#2a7fd8" />
<ellipse cx="1156.0" cy="2078.0" rx="24.8" ry="55.0" fill="#1a5cb4" transform="rotate(3.8 1156.0 2078.0)" />
<polygon points="1159.6,2023.1 1388.6,2086.1 1381.4,2195.9 1152.4,2132.9" fill="#2a7fd8" />
<line x1="1159.1" y1="2031.0" x2="1388.1" y2="2094.0" stroke="#1a5cb4" stroke-width="5" stroke-dasharray="34 6"/>
<line x1="1158.8" y1="2035.9" x2="1387.8" y2="2098.9" stroke="#4c9be6" stroke-width="3" stroke-dasharray="20 20"/>
<line x1="1158.1" y1="2046.6" x2="1387.1" y2="2109.6" stroke="#1a5cb4" stroke-width="3" stroke-dasharray="34 6"/>
<line x1="1157.7" y1="2051.6" x2="1386.7" y2="2114.6" stroke="#4c9be6" stroke-width="3" stroke-dasharray="20 20"/>
<line x1="1157.0" y1="2062.3" x2="1386.0" y2="2125.3" stroke="#1a5cb4" stroke-width="5" stroke-dasharray="34 6"/>
<line x1="1156.7" y1="2067.3" x2="1385.7" y2="2130.3" stroke="#4c9be6" stroke-width="3" stroke-dasharray="20 20"/>
<line x1="1156.0" y1="2078.0" x2="1385.0" y2="2141.0" stroke="#1a5cb4" stroke-width="3" stroke-dasharray="34 6"/>
<line x1="1155.7" y1="2083.0" x2="1384.7" y2="2146.0" stroke="#4c9be6" stroke-width="3" stroke-dasharray="20 20"/>
<line x1="1155.0" y1="2093.7" x2="1384.0" y2="2156.7" stroke="#1a5cb4" stroke-width="5" stroke-dasharray="34 6"/>
<line x1="1154.6" y1="2098.7" x2="1383.6" y2="2161.7" stroke="#4c9be6" stroke-width="3" stroke-dasharray="20 20"/>
<line x1="1153.9" y1="2109.4" x2="1382.9" y2="2172.4" stroke="#1a5cb4" stroke-width="3" stroke-dasharray="34 6"/>
<line x1="1153.6" y1="2114.3" x2="1382.6" y2="2177.3" stroke="#4c9be6" stroke-width="3" stroke-dasharray="20 20"/>
<line x1="1152.9" y1="2125.0" x2="1381.9" y2="2188.0" stroke="#1a5cb4" stroke-width="5" stroke-dasharray="34 6"/>
<line x1="1152.5" y1="2130.0" x2="1381.5" y2="2193.0" stroke="#4c9be6" stroke-width="3" stroke-dasharray="20 20"/>
<ellipse cx="1385.0" cy="2141.0" rx="35.2" ry="55.0" fill="#2a84dc" stroke="#5ab0ee" stroke-width="3" transform="rotate(3.8 1385.0 2141.0)" />
<ellipse cx="1386.0" cy="2142.0" rx="27.5" ry="46.2" fill="#3a96e6" stroke="#2476cc" stroke-width="1.5" transform="rotate(3.8 1386.0 2142.0)" />
<ellipse cx="1378.4" cy="2141.0" rx="19.8" ry="42.9" fill="#2f8ade" transform="rotate(3.8 1378.4 2141.0)" />
<path d="M1449,2147 L1662,2206" fill="none" stroke="#9a9ca8" stroke-width="5" />
<path d="M1449,2146 L1662,2205" fill="none" stroke="#c9cbd4" stroke-width="2" />
<line x1="1388.0" y1="2140.0" x2="1446.0" y2="2146.0" stroke="#6c7080" stroke-width="1.4" stroke-dasharray="12 5 3 5"/>
<line x1="1700.0" y1="1930.0" x2="2120.0" y2="2050.0" stroke="#6c7080" stroke-width="1.4" stroke-dasharray="12 5 3 5"/>
<line x1="1700.0" y1="1990.0" x2="2130.0" y2="2110.0" stroke="#6c7080" stroke-width="1.4" stroke-dasharray="12 5 3 5"/>
<line x1="1760.0" y1="2090.0" x2="2120.0" y2="2180.0" stroke="#6c7080" stroke-width="1.4" stroke-dasharray="12 5 3 5"/>
<line x1="1960.0" y1="2132.0" x2="2124.0" y2="2178.0" stroke="#6c7080" stroke-width="1.4" stroke-dasharray="12 5 3 5"/>
<ellipse cx="1735.0" cy="1902.0" rx="32.0" ry="50.0" fill="#7d82b4" transform="rotate(-8.0 1735.0 1902.0)" />
<ellipse cx="1739.0" cy="1902.0" rx="32.0" ry="50.0" fill="#c4c8e6" stroke="#7d82b4" stroke-width="1.5" transform="rotate(-8.0 1739.0 1902.0)" />
<ellipse cx="1739.0" cy="1903.0" rx="10.2" ry="15.0" fill="#9a9db8" stroke="#666a88" stroke-width="1" transform="rotate(-8.0 1739.0 1903.0)" />
<ellipse cx="1739.0" cy="1903.0" rx="5.8" ry="8.5" fill="#e6e7f0" transform="rotate(-8.0 1739.0 1903.0)" />
<ellipse cx="1758.8" cy="1913.3" rx="3.2" ry="4.2" fill="#555a78" />
<ellipse cx="1731.8" cy="1933.0" rx="3.2" ry="4.2" fill="#555a78" />
<ellipse cx="1719.2" cy="1890.7" rx="3.2" ry="4.2" fill="#555a78" />
<ellipse cx="1746.2" cy="1871.0" rx="3.2" ry="4.2" fill="#555a78" />
<ellipse cx="1790.0" cy="1900.0" rx="24.0" ry="44.0" fill="#2e3038" stroke="#c4c8e6" stroke-width="3" transform="rotate(-10.0 1790.0 1900.0)" />
<path d="M1790,1856 L1816,1862 L1830,1950 L1800,1944 Z" fill="#2e3038" />
<polygon points="1816.0,1868.0 1902.0,1892.0 1898.0,1946.0 1820.0,1946.0" fill="url(#dmt)" />
<path d="M1722,2122 L2060,2036 Q2086,2020 2080,1990 Q2070,1950 2040,1934 M1868,1914 Q1900,1900 1920,1934 L1936,2010 M1936,1894 Q1912,1950 1940,2006 Q1965,2032 2008,2028" fill="none" stroke="#1b5cb4" stroke-width="26" stroke-linejoin="round"/>
<path d="M1722,2122 L2060,2036 Q2086,2020 2080,1990 Q2070,1950 2040,1934 M1868,1914 Q1900,1900 1920,1934 L1936,2010 M1936,1894 Q1912,1950 1940,2006 Q1965,2032 2008,2028" fill="none" stroke="#2a7ad4" stroke-width="24" stroke-dasharray="5 2.5" stroke-linejoin="round"/>
<path d="M1722,2122 L2060,2036 Q2086,2020 2080,1990 Q2070,1950 2040,1934 M1868,1914 Q1900,1900 1920,1934 L1936,2010 M1936,1894 Q1912,1950 1940,2006 Q1965,2032 2008,2028" fill="none" stroke="#3a8ee2" stroke-width="12" stroke-dasharray="5 2.5" stroke-linejoin="round"/>
<path d="M1722,2122 L2060,2036 Q2086,2020 2080,1990 Q2070,1950 2040,1934 M1868,1914 Q1900,1900 1920,1934 L1936,2010 M1936,1894 Q1912,1950 1940,2006 Q1965,2032 2008,2028" fill="none" stroke="#2a7ad4" stroke-width="3" stroke-linejoin="round"/>
<ellipse cx="1922.0" cy="1950.0" rx="24.0" ry="36.0" fill="#f0f0f4" stroke="#a9abb6" stroke-width="1.5" />
<line x1="1922.0" y1="1950.0" x2="1946.0" y2="1950.0" stroke="#a9abb6" stroke-width="2" />
<line x1="1922.0" y1="1950.0" x2="1942.8" y2="1968.0" stroke="#a9abb6" stroke-width="2" />
<line x1="1922.0" y1="1950.0" x2="1934.0" y2="1981.2" stroke="#a9abb6" stroke-width="2" />
<line x1="1922.0" y1="1950.0" x2="1922.0" y2="1986.0" stroke="#a9abb6" stroke-width="2" />
<line x1="1922.0" y1="1950.0" x2="1910.0" y2="1981.2" stroke="#a9abb6" stroke-width="2" />
<line x1="1922.0" y1="1950.0" x2="1901.2" y2="1968.0" stroke="#a9abb6" stroke-width="2" />
<line x1="1922.0" y1="1950.0" x2="1898.0" y2="1950.0" stroke="#a9abb6" stroke-width="2" />
<line x1="1922.0" y1="1950.0" x2="1901.2" y2="1932.0" stroke="#a9abb6" stroke-width="2" />
<line x1="1922.0" y1="1950.0" x2="1910.0" y2="1918.8" stroke="#a9abb6" stroke-width="2" />
<line x1="1922.0" y1="1950.0" x2="1922.0" y2="1914.0" stroke="#a9abb6" stroke-width="2" />
<line x1="1922.0" y1="1950.0" x2="1934.0" y2="1918.8" stroke="#a9abb6" stroke-width="2" />
<line x1="1922.0" y1="1950.0" x2="1942.8" y2="1932.0" stroke="#a9abb6" stroke-width="2" />
<ellipse cx="1926.0" cy="1952.0" rx="9.0" ry="13.0" fill="#d0d2dc" stroke="#8b8d99" stroke-width="1" />
<rect x="1928.0" y="1944.0" width="24.0" height="14.0" fill="#e6e7ec" stroke="#a9abb6" stroke-width="1" />
<polygon points="2030.0,1926.0 2082.0,1934.0 2076.0,2040.0 2024.0,2032.0" fill="#2a7ad4" />
<ellipse cx="2040.0" cy="1980.0" rx="28.0" ry="56.0" fill="#2a7ad4" transform="rotate(-8.0 2040.0 1980.0)" />
<line x1="2022.0" y1="1940.0" x2="2066.0" y2="1946.0" stroke="#8cc0f2" stroke-width="2" />
<line x1="2022.0" y1="1950.0" x2="2066.0" y2="1956.0" stroke="#8cc0f2" stroke-width="2" />
<line x1="2022.0" y1="1960.0" x2="2066.0" y2="1966.0" stroke="#8cc0f2" stroke-width="2" />
<line x1="2022.0" y1="1970.0" x2="2066.0" y2="1976.0" stroke="#8cc0f2" stroke-width="2" />
<line x1="2022.0" y1="1980.0" x2="2066.0" y2="1986.0" stroke="#8cc0f2" stroke-width="2" />
<line x1="2022.0" y1="1990.0" x2="2066.0" y2="1996.0" stroke="#8cc0f2" stroke-width="2" />
<line x1="2022.0" y1="2000.0" x2="2066.0" y2="2006.0" stroke="#8cc0f2" stroke-width="2" />
<line x1="2022.0" y1="2010.0" x2="2066.0" y2="2016.0" stroke="#8cc0f2" stroke-width="2" />
<line x1="2022.0" y1="2020.0" x2="2066.0" y2="2026.0" stroke="#8cc0f2" stroke-width="2" />
<polygon points="2010.0,2010.0 2050.0,2020.0 2046.0,2060.0 2006.0,2046.0" fill="#6d7080" />
<ellipse cx="2079.0" cy="1985.0" rx="36.0" ry="56.0" fill="#7d82b4" transform="rotate(-8.0 2079.0 1985.0)" />
<ellipse cx="2083.0" cy="1985.0" rx="36.0" ry="56.0" fill="#c4c8e6" stroke="#7d82b4" stroke-width="1.5" transform="rotate(-8.0 2083.0 1985.0)" />
<ellipse cx="2083.0" cy="1986.0" rx="11.5" ry="16.8" fill="#9a9db8" stroke="#666a88" stroke-width="1" transform="rotate(-8.0 2083.0 1986.0)" />
<ellipse cx="2083.0" cy="1986.0" rx="6.5" ry="9.5" fill="#e6e7f0" transform="rotate(-8.0 2083.0 1986.0)" />
<ellipse cx="2105.3" cy="1997.6" rx="3.2" ry="4.2" fill="#555a78" />
<ellipse cx="2093.0" cy="2018.5" rx="3.2" ry="4.2" fill="#555a78" />
<ellipse cx="2074.9" cy="2019.7" rx="3.2" ry="4.2" fill="#555a78" />
<ellipse cx="2061.5" cy="2000.6" rx="3.2" ry="4.2" fill="#555a78" />
<ellipse cx="2060.7" cy="1972.4" rx="3.2" ry="4.2" fill="#555a78" />
<ellipse cx="2073.0" cy="1951.5" rx="3.2" ry="4.2" fill="#555a78" />
<ellipse cx="2091.1" cy="1950.3" rx="3.2" ry="4.2" fill="#555a78" />
<ellipse cx="2104.5" cy="1969.4" rx="3.2" ry="4.2" fill="#555a78" />
<rect x="2098.0" y="1976.0" width="22.0" height="22.0" fill="#f0f0f4" stroke="#a9abb6" stroke-width="1" rx="6"/>
<rect x="2033.0" y="1804.0" width="8.0" height="98.0" fill="#b9bbc6" stroke="#777a86" stroke-width="1" />
<rect x="2029.0" y="1800.0" width="16.0" height="6.0" fill="#9a9ca8" stroke="#555" stroke-width="1" rx="2"/>
<polygon points="1804.0,2040.0 1930.0,2000.0 1980.0,2010.0 1980.0,2050.0 1860.0,2092.0 1810.0,2084.0" fill="#2a7ad4" stroke="#1b5cb4" stroke-width="1.5" />
<polygon points="1866.0,2040.0 1950.0,2016.0 1950.0,2044.0 1866.0,2068.0" fill="#3a8ee0" stroke="#1b5cb4" stroke-width="1" />
<ellipse cx="1886.0" cy="2052.0" rx="4.0" ry="5.5" fill="#d6e6f8" />
<ellipse cx="1902.0" cy="2047.0" rx="4.0" ry="5.5" fill="#d6e6f8" />
<ellipse cx="1918.0" cy="2042.0" rx="4.0" ry="5.5" fill="#d6e6f8" />
<ellipse cx="1934.0" cy="2037.0" rx="4.0" ry="5.5" fill="#d6e6f8" />
<path d="M1994.0,1902.0 L1966.0,1898.6 A36.0,56.0 0 0 0 1966.0,2010.6 L1994.0,2014.0 Z" fill="url(#bwc)" />
<ellipse cx="1966.0" cy="1954.6" rx="36.0" ry="56.0" fill="url(#bwc)" />
<ellipse cx="1994.0" cy="1958.0" rx="36.0" ry="56.0" fill="#3a3c44" stroke="#7d82b4" stroke-width="2.5" />
<ellipse cx="1994.0" cy="1958.0" rx="30.6" ry="47.6" fill="#2a2c32" />
<line x1="1994.0" y1="1958.0" x2="2022.8" y2="1958.0" stroke="#5a5d68" stroke-width="4" />
<line x1="1994.0" y1="1958.0" x2="2002.9" y2="2000.6" stroke="#5a5d68" stroke-width="4" />
<line x1="1994.0" y1="1958.0" x2="1970.7" y2="1984.3" stroke="#5a5d68" stroke-width="4" />
<line x1="1994.0" y1="1958.0" x2="1970.7" y2="1931.7" stroke="#5a5d68" stroke-width="4" />
<line x1="1994.0" y1="1958.0" x2="2002.9" y2="1915.4" stroke="#5a5d68" stroke-width="4" />
<ellipse cx="1994.0" cy="1958.0" rx="10.1" ry="15.7" fill="#6b70a0" stroke="#2a2c32" stroke-width="2" />
<ellipse cx="1994.0" cy="1958.0" rx="5.0" ry="7.8" fill="#d9dae6" />
<path d="M1834.0,1936.0 L1796.0,1931.4 A38.0,58.0 0 0 0 1796.0,2047.4 L1834.0,2052.0 Z" fill="url(#bwd)" />
<ellipse cx="1796.0" cy="1989.4" rx="38.0" ry="58.0" fill="url(#bwd)" />
<ellipse cx="1834.0" cy="1994.0" rx="38.0" ry="58.0" fill="#3a3c44" stroke="#7d82b4" stroke-width="2.5" />
<ellipse cx="1834.0" cy="1994.0" rx="32.3" ry="49.3" fill="#2a2c32" />
<line x1="1834.0" y1="1994.0" x2="1864.4" y2="1994.0" stroke="#5a5d68" stroke-width="4" />
<line x1="1834.0" y1="1994.0" x2="1843.4" y2="2038.1" stroke="#5a5d68" stroke-width="4" />
<line x1="1834.0" y1="1994.0" x2="1809.4" y2="2021.3" stroke="#5a5d68" stroke-width="4" />
<line x1="1834.0" y1="1994.0" x2="1809.4" y2="1966.7" stroke="#5a5d68" stroke-width="4" />
<line x1="1834.0" y1="1994.0" x2="1843.4" y2="1949.9" stroke="#5a5d68" stroke-width="4" />
<ellipse cx="1834.0" cy="1994.0" rx="10.6" ry="16.2" fill="#6b70a0" stroke="#2a2c32" stroke-width="2" />
<ellipse cx="1834.0" cy="1994.0" rx="5.3" ry="8.1" fill="#d9dae6" />
<ellipse cx="2157.0" cy="2020.0" rx="32.0" ry="51.0" fill="#7d82b4" transform="rotate(-8.0 2157.0 2020.0)" />
<ellipse cx="2161.0" cy="2020.0" rx="32.0" ry="51.0" fill="#c4c8e6" stroke="#7d82b4" stroke-width="1.5" transform="rotate(-8.0 2161.0 2020.0)" />
<ellipse cx="2161.0" cy="2021.0" rx="10.2" ry="15.3" fill="#9a9db8" stroke="#666a88" stroke-width="1" transform="rotate(-8.0 2161.0 2021.0)" />
<ellipse cx="2161.0" cy="2021.0" rx="5.8" ry="8.7" fill="#e6e7f0" transform="rotate(-8.0 2161.0 2021.0)" />
<ellipse cx="2180.8" cy="2031.5" rx="3.2" ry="4.2" fill="#555a78" />
<ellipse cx="2153.8" cy="2051.6" rx="3.2" ry="4.2" fill="#555a78" />
<ellipse cx="2141.2" cy="2008.5" rx="3.2" ry="4.2" fill="#555a78" />
<ellipse cx="2168.2" cy="1988.4" rx="3.2" ry="4.2" fill="#555a78" />
<ellipse cx="2196.0" cy="2030.0" rx="12.0" ry="16.0" fill="#d9dae2" stroke="#777a86" stroke-width="1.5" transform="rotate(-10.0 2196.0 2030.0)" />
<ellipse cx="2200.0" cy="2032.0" rx="7.0" ry="10.0" fill="#b4b6c2" stroke="#777a86" stroke-width="1" transform="rotate(-10.0 2200.0 2032.0)" />
<ellipse cx="1951.0" cy="2128.0" rx="16.0" ry="21.0" fill="#e9eaf0" stroke="#a9abb6" stroke-width="1.5" transform="rotate(-10.0 1951.0 2128.0)" />
<ellipse cx="1953.0" cy="2128.0" rx="7.0" ry="10.0" fill="#fff" stroke="#a9abb6" stroke-width="1.2" transform="rotate(-10.0 1953.0 2128.0)" />
<path d="M1452,1953 L1489,1966 L1489,2058 L1452,2051 Z" fill="#2e3038" />
<ellipse cx="1452.0" cy="2002.0" rx="14.0" ry="49.0" fill="#3a3d46" stroke="#c4c8e6" stroke-width="3" transform="rotate(-6.0 1452.0 2002.0)" />
<line x1="1458.0" y1="1964.0" x2="1488.0" y2="1972.0" stroke="#6d7080" stroke-width="2" />
<line x1="1458.0" y1="1975.0" x2="1488.0" y2="1983.0" stroke="#6d7080" stroke-width="2" />
<line x1="1458.0" y1="1986.0" x2="1488.0" y2="1994.0" stroke="#6d7080" stroke-width="2" />
<line x1="1458.0" y1="1997.0" x2="1488.0" y2="2005.0" stroke="#6d7080" stroke-width="2" />
<line x1="1458.0" y1="2008.0" x2="1488.0" y2="2016.0" stroke="#6d7080" stroke-width="2" />
<line x1="1458.0" y1="2019.0" x2="1488.0" y2="2027.0" stroke="#6d7080" stroke-width="2" />
<line x1="1458.0" y1="2030.0" x2="1488.0" y2="2038.0" stroke="#6d7080" stroke-width="2" />
<line x1="1458.0" y1="2041.0" x2="1488.0" y2="2049.0" stroke="#6d7080" stroke-width="2" />
<path d="M1440,2034 Q1444,2052 1462,2056" fill="none" stroke="#7d82b4" stroke-width="4" />
<polygon points="1485.0,1976.0 1656.0,2018.0 1637.0,2088.0 1487.0,2046.0" fill="url(#r28)" />
<ellipse cx="1489.0" cy="2011.0" rx="10.0" ry="35.0" fill="#eceef4" transform="rotate(-8.0 1489.0 2011.0)" />
<line x1="1485.0" y1="1976.0" x2="1656.0" y2="2018.0" stroke="#b9bfd0" stroke-width="1" />
<line x1="1487.0" y1="2046.0" x2="1637.0" y2="2088.0" stroke="#9aa2b8" stroke-width="1" />
<polygon points="1646.0,2012.0 1692.0,2014.0 1682.0,2112.0 1632.0,2092.0" fill="#8d909c" />
<ellipse cx="1650.0" cy="2052.0" rx="14.0" ry="41.0" fill="#9a9da8" transform="rotate(-8.0 1650.0 2052.0)" />
<line x1="1664.0" y1="2014.0" x2="1656.0" y2="2100.0" stroke="#777a86" stroke-width="1.5" />
<polygon points="1684.0,2010.0 1730.0,2020.0 1722.0,2128.0 1674.0,2110.0" fill="#2a7ad4" />
<line x1="1684.0" y1="2020.0" x2="1726.0" y2="2028.0" stroke="#8cc0f2" stroke-width="2" />
<line x1="1684.0" y1="2029.5" x2="1726.0" y2="2037.5" stroke="#8cc0f2" stroke-width="2" />
<line x1="1684.0" y1="2039.0" x2="1726.0" y2="2047.0" stroke="#8cc0f2" stroke-width="2" />
<line x1="1684.0" y1="2048.5" x2="1726.0" y2="2056.5" stroke="#8cc0f2" stroke-width="2" />
<line x1="1684.0" y1="2058.0" x2="1726.0" y2="2066.0" stroke="#8cc0f2" stroke-width="2" />
<line x1="1684.0" y1="2067.5" x2="1726.0" y2="2075.5" stroke="#8cc0f2" stroke-width="2" />
<line x1="1684.0" y1="2077.0" x2="1726.0" y2="2085.0" stroke="#8cc0f2" stroke-width="2" />
<line x1="1684.0" y1="2086.5" x2="1726.0" y2="2094.5" stroke="#8cc0f2" stroke-width="2" />
<line x1="1684.0" y1="2096.0" x2="1726.0" y2="2104.0" stroke="#8cc0f2" stroke-width="2" />
<line x1="1684.0" y1="2105.5" x2="1726.0" y2="2113.5" stroke="#8cc0f2" stroke-width="2" />
<ellipse cx="1741.0" cy="2077.0" rx="37.0" ry="56.0" fill="#7d82b4" transform="rotate(-8.0 1741.0 2077.0)" />
<ellipse cx="1746.0" cy="2077.0" rx="37.0" ry="56.0" fill="#c4c8e6" stroke="#7d82b4" stroke-width="1.5" transform="rotate(-8.0 1746.0 2077.0)" />
<ellipse cx="1747.0" cy="2078.0" rx="10.0" ry="14.0" fill="#8d90a8" stroke="#666a88" stroke-width="1" transform="rotate(-8.0 1747.0 2078.0)" />
<ellipse cx="1747.0" cy="2078.0" rx="5.0" ry="7.0" fill="#d9dae6" transform="rotate(-8.0 1747.0 2078.0)" />
<ellipse cx="1767.7" cy="2089.6" rx="3.5" ry="4.5" fill="#555a78" />
<ellipse cx="1756.3" cy="2108.8" rx="3.5" ry="4.5" fill="#555a78" />
<ellipse cx="1739.5" cy="2109.9" rx="3.5" ry="4.5" fill="#555a78" />
<ellipse cx="1727.1" cy="2092.4" rx="3.5" ry="4.5" fill="#555a78" />
<ellipse cx="1726.3" cy="2066.4" rx="3.5" ry="4.5" fill="#555a78" />
<ellipse cx="1737.7" cy="2047.2" rx="3.5" ry="4.5" fill="#555a78" />
<ellipse cx="1754.5" cy="2046.1" rx="3.5" ry="4.5" fill="#555a78" />
<ellipse cx="1766.9" cy="2063.6" rx="3.5" ry="4.5" fill="#555a78" />
<polygon points="2122.0,2187.0 2129.0,2160.0 2148.0,2145.0 2173.0,2138.0 2197.0,2103.0 2173.0,2094.0 2197.0,2063.0 2237.0,2023.0 2287.0,1993.0 2342.0,1976.0 2387.0,1979.0 2431.0,1997.0 2475.0,2023.0 2508.0,2054.0 2519.0,2076.0 2521.0,2098.0 2508.0,2120.0 2475.0,2134.0 2409.0,2154.0 2298.0,2187.0 2199.0,2213.0 2144.0,2224.0 2126.0,2213.0" fill="url(#sc)" stroke="#1a58b8" stroke-width="2" stroke-linejoin="round"/>
<path d="M2180,2092 Q2250,2010 2350,1992 Q2430,2000 2500,2060" fill="none" stroke="#1a58b8" stroke-width="4" />
<path d="M2200,2098 Q2270,2030 2350,2012 Q2420,2016 2470,2050" fill="none" stroke="#3a8ce8" stroke-width="4" />
<path d="M2240,2030 L2262,2044" fill="none" stroke="#1a58b8" stroke-width="2" />
<ellipse cx="2342.0" cy="2084.0" rx="34.0" ry="10.0" fill="#2a7ae0" stroke="#1a58b8" stroke-width="1.5" transform="rotate(-14.0 2342.0 2084.0)" />
<ellipse cx="2334.0" cy="2148.0" rx="40.0" ry="11.0" fill="#2a7ae0" stroke="#1a58b8" stroke-width="1.5" transform="rotate(-14.0 2334.0 2148.0)" />
<path d="M2400,2034 Q2440,2020 2470,2030 Q2490,2046 2480,2056 Q2440,2062 2404,2050 Z" fill="#2a7ae0" stroke="#1a58b8" stroke-width="1.5" />
<path d="M2216,2100 Q2250,2076 2284,2066 L2284,2078 Q2250,2092 2226,2112 Z" fill="#2a7ae0" stroke="#1a58b8" stroke-width="1.2" />
<path d="M2404,2082 L2464,2090 L2460,2124 L2412,2136" fill="none" stroke="#154ea8" stroke-width="2" />
<path d="M2214,2192 L2270,2176 L2276,2130" fill="none" stroke="#154ea8" stroke-width="2" />
<ellipse cx="2312.0" cy="2076.0" rx="4.0" ry="5.0" fill="#1a58b8" />
<ellipse cx="2372.0" cy="2058.0" rx="4.0" ry="5.0" fill="#1a58b8" />
<ellipse cx="2418.0" cy="2066.0" rx="4.0" ry="5.0" fill="#1a58b8" />
<ellipse cx="2260.0" cy="2108.0" rx="4.0" ry="5.0" fill="#1a58b8" />
<ellipse cx="2394.0" cy="2160.0" rx="4.0" ry="5.0" fill="#1a58b8" />
<ellipse cx="2282.0" cy="2186.0" rx="4.0" ry="5.0" fill="#1a58b8" />
<ellipse cx="2155.0" cy="2184.0" rx="20.0" ry="24.0" fill="#1f68cc" stroke="#154ea8" stroke-width="2" />
<ellipse cx="2155.0" cy="2184.0" rx="11.0" ry="13.0" fill="#fff" stroke="#154ea8" stroke-width="1.5" />
<ellipse cx="2488.0" cy="2096.0" rx="17.0" ry="22.0" fill="#1f68cc" stroke="#154ea8" stroke-width="2" />
<ellipse cx="2486.0" cy="2096.0" rx="8.0" ry="11.0" fill="#fff" stroke="#154ea8" stroke-width="1.5" />
<line x1="2082.0" y1="2318.0" x2="2124.9" y2="2245.0" stroke="#8aa4d6" stroke-width="1.6"  stroke-dasharray="5 3"/>
<polygon points="2136.0,2226.0 2129.2,2247.5 2120.6,2242.4" fill="#2360c8" />
<polygon points="2130.6,1755.2 2145.9,1759.7 2144.1,1743.9 2128.7,1739.4" fill="#2a7fd8" />
<polygon points="2130.6,1755.2 2134.4,1756.4 2132.6,1740.5 2128.7,1739.4" fill="#1a5cb4" />
<polygon points="2123.3,1859.0 2138.7,1863.5 2135.1,1872.6 2119.7,1868.1" fill="#1a5cb4" />
<polygon points="2123.3,1859.0 2127.1,1860.1 2123.6,1869.2 2119.7,1868.1" fill="#2a7fd8" />
<polygon points="2153.6,1762.0 2169.0,1766.4 2166.8,1755.6 2151.5,1751.1" fill="#2a7fd8" />
<polygon points="2153.6,1762.0 2157.5,1763.1 2155.3,1752.3 2151.5,1751.1" fill="#1a5cb4" />
<polygon points="2146.4,1865.7 2161.7,1870.2 2157.8,1884.3 2142.5,1879.8" fill="#1a5cb4" />
<polygon points="2146.4,1865.7 2150.2,1866.8 2146.3,1881.0 2142.5,1879.8" fill="#2a7fd8" />
<polygon points="2176.7,1768.7 2192.1,1773.2 2190.2,1757.4 2174.9,1752.9" fill="#2a7fd8" />
<polygon points="2176.7,1768.7 2180.6,1769.8 2178.7,1754.0 2174.9,1752.9" fill="#1a5cb4" />
<polygon points="2169.5,1872.4 2184.8,1876.9 2181.2,1886.1 2165.9,1881.6" fill="#1a5cb4" />
<polygon points="2169.5,1872.4 2173.3,1873.6 2169.7,1882.7 2165.9,1881.6" fill="#2a7fd8" />
<polygon points="2199.8,1775.4 2215.2,1779.9 2213.0,1769.1 2197.6,1764.6" fill="#2a7fd8" />
<polygon points="2199.8,1775.4 2203.6,1776.5 2201.5,1765.7 2197.6,1764.6" fill="#1a5cb4" />
<polygon points="2192.5,1879.2 2207.9,1883.7 2204.0,1897.8 2188.6,1893.3" fill="#1a5cb4" />
<polygon points="2192.5,1879.2 2196.4,1880.3 2192.4,1894.4 2188.6,1893.3" fill="#2a7fd8" />
<polygon points="2222.9,1782.2 2238.2,1786.6 2236.4,1770.8 2221.0,1766.4" fill="#2a7fd8" />
<polygon points="2222.9,1782.2 2226.7,1783.3 2224.9,1767.5 2221.0,1766.4" fill="#1a5cb4" />
<polygon points="2215.6,1885.9 2231.0,1890.4 2227.4,1899.5 2212.0,1895.0" fill="#1a5cb4" />
<polygon points="2215.6,1885.9 2219.5,1887.0 2215.9,1896.2 2212.0,1895.0" fill="#2a7fd8" />
<polygon points="2246.0,1788.9 2261.3,1793.4 2259.1,1782.6 2243.8,1778.1" fill="#2a7fd8" />
<polygon points="2246.0,1788.9 2249.8,1790.0 2247.6,1779.2 2243.8,1778.1" fill="#1a5cb4" />
<polygon points="2238.7,1892.6 2254.0,1897.1 2250.1,1911.2 2234.8,1906.8" fill="#1a5cb4" />
<polygon points="2238.7,1892.6 2242.5,1893.8 2238.6,1907.9 2234.8,1906.8" fill="#2a7fd8" />
<polygon points="2269.0,1795.6 2284.4,1800.1 2282.6,1784.3 2267.2,1779.8" fill="#2a7fd8" />
<polygon points="2269.0,1795.6 2272.9,1796.7 2271.0,1780.9 2267.2,1779.8" fill="#1a5cb4" />
<polygon points="2261.8,1899.4 2277.1,1903.8 2273.5,1913.0 2258.2,1908.5" fill="#1a5cb4" />
<polygon points="2261.8,1899.4 2265.6,1900.5 2262.0,1909.6 2258.2,1908.5" fill="#2a7fd8" />
<polygon points="2292.1,1802.3 2307.5,1806.8 2305.3,1796.0 2289.9,1791.5" fill="#2a7fd8" />
<polygon points="2292.1,1802.3 2295.9,1803.5 2293.8,1792.7 2289.9,1791.5" fill="#1a5cb4" />
<polygon points="2284.8,1906.1 2300.2,1910.6 2296.3,1924.7 2280.9,1920.2" fill="#1a5cb4" />
<polygon points="2284.8,1906.1 2288.7,1907.2 2284.8,1921.3 2280.9,1920.2" fill="#2a7fd8" />
<polygon points="2315.2,1809.1 2330.5,1813.6 2328.7,1797.8 2313.3,1793.3" fill="#2a7fd8" />
<polygon points="2315.2,1809.1 2319.0,1810.2 2317.2,1794.4 2313.3,1793.3" fill="#1a5cb4" />
<polygon points="2307.9,1912.8 2323.3,1917.3 2319.7,1926.4 2304.3,1922.0" fill="#1a5cb4" />
<polygon points="2307.9,1912.8 2311.8,1913.9 2308.2,1923.1 2304.3,1922.0" fill="#2a7fd8" />
<polygon points="2338.3,1815.8 2353.6,1820.3 2351.4,1809.5 2336.1,1805.0" fill="#2a7fd8" />
<polygon points="2338.3,1815.8 2342.1,1816.9 2339.9,1806.1 2336.1,1805.0" fill="#1a5cb4" />
<polygon points="2331.0,1919.6 2346.4,1924.0 2342.4,1938.2 2327.1,1933.7" fill="#1a5cb4" />
<polygon points="2331.0,1919.6 2334.8,1920.7 2330.9,1934.8 2327.1,1933.7" fill="#2a7fd8" />
<polygon points="2361.3,1822.5 2376.7,1827.0 2374.9,1811.2 2359.5,1806.7" fill="#2a7fd8" />
<polygon points="2361.3,1822.5 2365.2,1823.7 2363.3,1807.9 2359.5,1806.7" fill="#1a5cb4" />
<polygon points="2354.1,1926.3 2369.4,1930.8 2365.9,1939.9 2350.5,1935.4" fill="#1a5cb4" />
<polygon points="2354.1,1926.3 2357.9,1927.4 2354.3,1936.5 2350.5,1935.4" fill="#2a7fd8" />
<ellipse cx="2130.0" cy="1808.0" rx="24.8" ry="55.0" fill="#1a5cb4" transform="rotate(4.0 2130.0 1808.0)" />
<polygon points="2133.8,1753.1 2373.8,1823.1 2366.2,1932.9 2126.2,1862.9" fill="#2a7fd8" />
<line x1="2133.3" y1="1761.0" x2="2373.3" y2="1831.0" stroke="#1a5cb4" stroke-width="5" stroke-dasharray="34 6"/>
<line x1="2132.9" y1="1766.0" x2="2372.9" y2="1836.0" stroke="#4c9be6" stroke-width="3" stroke-dasharray="20 20"/>
<line x1="2132.2" y1="1776.6" x2="2372.2" y2="1846.6" stroke="#1a5cb4" stroke-width="3" stroke-dasharray="34 6"/>
<line x1="2131.8" y1="1781.6" x2="2371.8" y2="1851.6" stroke="#4c9be6" stroke-width="3" stroke-dasharray="20 20"/>
<line x1="2131.1" y1="1792.3" x2="2371.1" y2="1862.3" stroke="#1a5cb4" stroke-width="5" stroke-dasharray="34 6"/>
<line x1="2130.7" y1="1797.3" x2="2370.7" y2="1867.3" stroke="#4c9be6" stroke-width="3" stroke-dasharray="20 20"/>
<line x1="2130.0" y1="1808.0" x2="2370.0" y2="1878.0" stroke="#1a5cb4" stroke-width="3" stroke-dasharray="34 6"/>
<line x1="2129.7" y1="1813.0" x2="2369.7" y2="1883.0" stroke="#4c9be6" stroke-width="3" stroke-dasharray="20 20"/>
<line x1="2128.9" y1="1823.7" x2="2368.9" y2="1893.7" stroke="#1a5cb4" stroke-width="5" stroke-dasharray="34 6"/>
<line x1="2128.6" y1="1828.7" x2="2368.6" y2="1898.7" stroke="#4c9be6" stroke-width="3" stroke-dasharray="20 20"/>
<line x1="2127.8" y1="1839.4" x2="2367.8" y2="1909.4" stroke="#1a5cb4" stroke-width="3" stroke-dasharray="34 6"/>
<line x1="2127.5" y1="1844.3" x2="2367.5" y2="1914.3" stroke="#4c9be6" stroke-width="3" stroke-dasharray="20 20"/>
<line x1="2126.7" y1="1855.0" x2="2366.7" y2="1925.0" stroke="#1a5cb4" stroke-width="5" stroke-dasharray="34 6"/>
<line x1="2126.4" y1="1860.0" x2="2366.4" y2="1930.0" stroke="#4c9be6" stroke-width="3" stroke-dasharray="20 20"/>
<ellipse cx="2370.0" cy="1878.0" rx="35.2" ry="55.0" fill="#2a84dc" stroke="#5ab0ee" stroke-width="3" transform="rotate(4.0 2370.0 1878.0)" />
<ellipse cx="2371.0" cy="1879.0" rx="27.5" ry="46.2" fill="#3a96e6" stroke="#2476cc" stroke-width="1.5" transform="rotate(4.0 2371.0 1879.0)" />
<ellipse cx="2363.4" cy="1878.0" rx="19.8" ry="42.9" fill="#2f8ade" transform="rotate(4.0 2363.4 1878.0)" />
<line x1="2404.0" y1="1890.0" x2="2494.0" y2="1924.0" stroke="#6c7080" stroke-width="1.4" stroke-dasharray="12 5 3 5"/>
<path d="M2496,1927 L2702,1985" fill="none" stroke="#8b8d99" stroke-width="7" stroke-linecap="round"/>
<path d="M2496,1926 L2702,1984" fill="none" stroke="#d0d2da" stroke-width="3" />
<line x1="2490.0" y1="2098.0" x2="2650.0" y2="2140.0" stroke="#6c7080" stroke-width="1.4" stroke-dasharray="12 5 3 5"/>
<line x1="2170.0" y1="2190.0" x2="2400.0" y2="2250.0" stroke="#6c7080" stroke-width="1.4" stroke-dasharray="12 5 3 5"/>
<path d="M2496,2096 L2574,2114" fill="none" stroke="#a9abb6" stroke-width="5" />
<ellipse cx="2578.0" cy="2116.0" rx="5.0" ry="6.0" fill="#c9cbd4" stroke="#777" stroke-width="1" />
<ellipse cx="2543.0" cy="2112.0" rx="13.0" ry="17.0" fill="#2e3038" transform="rotate(-10.0 2543.0 2112.0)" />
<ellipse cx="2549.0" cy="2114.0" rx="13.0" ry="17.0" fill="#3a3d4c" stroke="#7d82b4" stroke-width="2" transform="rotate(-10.0 2549.0 2114.0)" />
<ellipse cx="2551.0" cy="2115.0" rx="7.0" ry="10.0" fill="#8d90a8" transform="rotate(-10.0 2551.0 2115.0)" />
<ellipse cx="2282.0" cy="2223.0" rx="13.0" ry="17.0" fill="#2e3038" transform="rotate(-10.0 2282.0 2223.0)" />
<ellipse cx="2288.0" cy="2225.0" rx="13.0" ry="17.0" fill="#3a3d4c" stroke="#7d82b4" stroke-width="2" transform="rotate(-10.0 2288.0 2225.0)" />
<ellipse cx="2290.0" cy="2226.0" rx="7.0" ry="10.0" fill="#8d90a8" transform="rotate(-10.0 2290.0 2226.0)" />
<path d="M2597,2106 L2621,2110 L2621,2152 L2597,2144 Z" fill="#e9eaef" stroke="#b4b6c2" stroke-width="1" />
<ellipse cx="2599.0" cy="2125.0" rx="8.0" ry="19.0" fill="#e9eaef" stroke="#b4b6c2" stroke-width="1" transform="rotate(-8.0 2599.0 2125.0)" />
<ellipse cx="2623.0" cy="2130.0" rx="13.0" ry="21.0" fill="#f4f4f7" stroke="#b4b6c2" stroke-width="1.2" transform="rotate(-8.0 2623.0 2130.0)" />
<ellipse cx="2624.0" cy="2131.0" rx="5.0" ry="8.0" fill="#d0d2da" stroke="#a9abb6" stroke-width="1" transform="rotate(-8.0 2624.0 2131.0)" />
<path d="M2356,2226 L2380,2230 L2380,2272 L2356,2264 Z" fill="#e9eaef" stroke="#b4b6c2" stroke-width="1" />
<ellipse cx="2358.0" cy="2245.0" rx="8.0" ry="19.0" fill="#e9eaef" stroke="#b4b6c2" stroke-width="1" transform="rotate(-8.0 2358.0 2245.0)" />
<ellipse cx="2382.0" cy="2250.0" rx="13.0" ry="21.0" fill="#f4f4f7" stroke="#b4b6c2" stroke-width="1.2" transform="rotate(-8.0 2382.0 2250.0)" />
<ellipse cx="2383.0" cy="2251.0" rx="5.0" ry="8.0" fill="#d0d2da" stroke="#a9abb6" stroke-width="1" transform="rotate(-8.0 2383.0 2251.0)" />
<ellipse cx="2678.0" cy="2152.0" rx="38.0" ry="51.0" fill="#111" transform="rotate(-8.0 2678.0 2152.0)" />
<ellipse cx="2684.0" cy="2152.0" rx="36.0" ry="50.0" fill="#1c1d20" transform="rotate(-8.0 2684.0 2152.0)" />
<ellipse cx="2689.0" cy="2154.0" rx="25.0" ry="36.0" fill="#8d90a8" stroke="#c9cbd8" stroke-width="1.5" transform="rotate(-8.0 2689.0 2154.0)" />
<line x1="2689.0" y1="2154.0" x2="2712.0" y2="2154.0" stroke="#2a2c34" stroke-width="2.5" />
<line x1="2689.0" y1="2154.0" x2="2708.9" y2="2170.5" stroke="#2a2c34" stroke-width="2.5" />
<line x1="2689.0" y1="2154.0" x2="2700.5" y2="2182.6" stroke="#2a2c34" stroke-width="2.5" />
<line x1="2689.0" y1="2154.0" x2="2689.0" y2="2187.0" stroke="#2a2c34" stroke-width="2.5" />
<line x1="2689.0" y1="2154.0" x2="2677.5" y2="2182.6" stroke="#2a2c34" stroke-width="2.5" />
<line x1="2689.0" y1="2154.0" x2="2669.1" y2="2170.5" stroke="#2a2c34" stroke-width="2.5" />
<line x1="2689.0" y1="2154.0" x2="2666.0" y2="2154.0" stroke="#2a2c34" stroke-width="2.5" />
<line x1="2689.0" y1="2154.0" x2="2669.1" y2="2137.5" stroke="#2a2c34" stroke-width="2.5" />
<line x1="2689.0" y1="2154.0" x2="2677.5" y2="2125.4" stroke="#2a2c34" stroke-width="2.5" />
<line x1="2689.0" y1="2154.0" x2="2689.0" y2="2121.0" stroke="#2a2c34" stroke-width="2.5" />
<line x1="2689.0" y1="2154.0" x2="2700.5" y2="2125.4" stroke="#2a2c34" stroke-width="2.5" />
<line x1="2689.0" y1="2154.0" x2="2708.9" y2="2137.5" stroke="#2a2c34" stroke-width="2.5" />
<ellipse cx="2689.0" cy="2154.0" rx="12.0" ry="17.0" fill="#e6e7ee" stroke="#555" stroke-width="1.2" transform="rotate(-8.0 2689.0 2154.0)" />
<ellipse cx="2690.0" cy="2155.0" rx="6.0" ry="9.0" fill="#4a4d58" transform="rotate(-8.0 2690.0 2155.0)" />
<ellipse cx="2465.0" cy="2278.0" rx="38.0" ry="51.0" fill="#111" transform="rotate(-8.0 2465.0 2278.0)" />
<ellipse cx="2471.0" cy="2278.0" rx="36.0" ry="50.0" fill="#1c1d20" transform="rotate(-8.0 2471.0 2278.0)" />
<ellipse cx="2476.0" cy="2280.0" rx="25.0" ry="36.0" fill="#8d90a8" stroke="#c9cbd8" stroke-width="1.5" transform="rotate(-8.0 2476.0 2280.0)" />
<line x1="2476.0" y1="2280.0" x2="2499.0" y2="2280.0" stroke="#2a2c34" stroke-width="2.5" />
<line x1="2476.0" y1="2280.0" x2="2495.9" y2="2296.5" stroke="#2a2c34" stroke-width="2.5" />
<line x1="2476.0" y1="2280.0" x2="2487.5" y2="2308.6" stroke="#2a2c34" stroke-width="2.5" />
<line x1="2476.0" y1="2280.0" x2="2476.0" y2="2313.0" stroke="#2a2c34" stroke-width="2.5" />
<line x1="2476.0" y1="2280.0" x2="2464.5" y2="2308.6" stroke="#2a2c34" stroke-width="2.5" />
<line x1="2476.0" y1="2280.0" x2="2456.1" y2="2296.5" stroke="#2a2c34" stroke-width="2.5" />
<line x1="2476.0" y1="2280.0" x2="2453.0" y2="2280.0" stroke="#2a2c34" stroke-width="2.5" />
<line x1="2476.0" y1="2280.0" x2="2456.1" y2="2263.5" stroke="#2a2c34" stroke-width="2.5" />
<line x1="2476.0" y1="2280.0" x2="2464.5" y2="2251.4" stroke="#2a2c34" stroke-width="2.5" />
<line x1="2476.0" y1="2280.0" x2="2476.0" y2="2247.0" stroke="#2a2c34" stroke-width="2.5" />
<line x1="2476.0" y1="2280.0" x2="2487.5" y2="2251.4" stroke="#2a2c34" stroke-width="2.5" />
<line x1="2476.0" y1="2280.0" x2="2495.9" y2="2263.5" stroke="#2a2c34" stroke-width="2.5" />
<ellipse cx="2476.0" cy="2280.0" rx="12.0" ry="17.0" fill="#e6e7ee" stroke="#555" stroke-width="1.2" transform="rotate(-8.0 2476.0 2280.0)" />
<ellipse cx="2477.0" cy="2281.0" rx="6.0" ry="9.0" fill="#4a4d58" transform="rotate(-8.0 2477.0 2281.0)" />
<path d="M2434,2156 L2510,2178" fill="none" stroke="#777a86" stroke-width="7" stroke-linecap="round"/>
<path d="M2434,2155 L2510,2177" fill="none" stroke="#d0d2da" stroke-width="3" stroke-linecap="round"/>
<ellipse cx="2513.0" cy="2179.0" rx="5.0" ry="6.5" fill="#c9cbd4" stroke="#666" stroke-width="1" />
<path d="M2568,2197 L2642,2217" fill="none" stroke="#777a86" stroke-width="7" stroke-linecap="round"/>
<path d="M2568,2196 L2642,2216" fill="none" stroke="#d0d2da" stroke-width="3" stroke-linecap="round"/>
<ellipse cx="2645.0" cy="2218.0" rx="5.0" ry="6.5" fill="#c9cbd4" stroke="#666" stroke-width="1" />
<path d="M2496,2244 L2532,2250" fill="none" stroke="#777a86" stroke-width="7" stroke-linecap="round"/>
<path d="M2496,2243 L2532,2249" fill="none" stroke="#d0d2da" stroke-width="3" stroke-linecap="round"/>
<ellipse cx="2535.0" cy="2251.0" rx="5.0" ry="6.5" fill="#c9cbd4" stroke="#666" stroke-width="1" />
<line x1="2694.0" y1="2192.0" x2="2694.0" y2="2208.0" stroke="#555" stroke-width="2" />
<rect x="2690.0" y="2208.0" width="8.0" height="100.0" fill="#c9cbd4" stroke="#8b8d99" stroke-width="1" />
<rect x="2688.0" y="2208.0" width="12.0" height="7.0" fill="#555862" />
<line x1="2454.0" y1="2327.0" x2="2454.0" y2="2343.0" stroke="#555" stroke-width="2" />
<rect x="2450.0" y="2343.0" width="8.0" height="60.0" fill="#c9cbd4" stroke="#8b8d99" stroke-width="1" />
<rect x="2448.0" y="2343.0" width="12.0" height="7.0" fill="#555862" />
<ellipse cx="673.0" cy="2168.0" rx="120.0" ry="50.0" fill="none" stroke="#777a8a" stroke-width="12" />
<ellipse cx="673.0" cy="2167.0" rx="120.0" ry="50.0" fill="none" stroke="#a9abba" stroke-width="8" />
<ellipse cx="673.0" cy="2165.0" rx="120.0" ry="50.0" fill="none" stroke="#d0d2de" stroke-width="2.5" />
<ellipse cx="673.0" cy="2179.0" rx="118.0" ry="50.0" fill="none" stroke="#777a8a" stroke-width="12" />
<ellipse cx="673.0" cy="2178.0" rx="118.0" ry="50.0" fill="none" stroke="#a9abba" stroke-width="8" />
<ellipse cx="673.0" cy="2176.0" rx="118.0" ry="50.0" fill="none" stroke="#d0d2de" stroke-width="2.5" />
<ellipse cx="673.0" cy="2190.0" rx="116.0" ry="50.0" fill="none" stroke="#777a8a" stroke-width="12" />
<ellipse cx="673.0" cy="2189.0" rx="116.0" ry="50.0" fill="none" stroke="#a9abba" stroke-width="8" />
<ellipse cx="673.0" cy="2187.0" rx="116.0" ry="50.0" fill="none" stroke="#d0d2de" stroke-width="2.5" />
<path d="M585,2222 L920,2172" fill="none" stroke="#777a8a" stroke-width="12" stroke-linecap="round"/>
<path d="M585,2221 L920,2171" fill="none" stroke="#a9abba" stroke-width="8" stroke-linecap="round"/>
<path d="M585,2219 L920,2169" fill="none" stroke="#d0d2de" stroke-width="2.5" />
<polygon points="916.0,2160.0 950.0,2150.0 956.0,2170.0 922.0,2184.0" fill="#9a9cac" stroke="#666a78" stroke-width="1.2" />
<polygon points="940.0,2150.0 962.0,2144.0 968.0,2166.0 948.0,2174.0" fill="#b4b6c4" stroke="#666a78" stroke-width="1" />
<path d="M964,2152 L990,2144 M966,2164 L978,2160" fill="none" stroke="#777a86" stroke-width="5" stroke-linecap="round"/>
<polygon points="548.0,2200.0 584.0,2210.0 586.0,2240.0 552.0,2250.0" fill="#33353d" />
<polygon points="146.0,2107.0 391.0,2040.0 574.0,2087.0 334.0,2159.0" fill="#a2a3aa" stroke="#6d6f78" stroke-width="1.2" />
<polygon points="146.0,2107.0 334.0,2159.0 360.0,2325.0 182.0,2281.0" fill="#d4d5da" stroke="#6d6f78" stroke-width="1.2" />
<polygon points="146.0,2107.0 178.0,2118.0 182.0,2281.0" fill="#b4b6be" />
<polygon points="334.0,2159.0 574.0,2087.0 550.0,2267.0 360.0,2325.0" fill="#8e8f96" stroke="#6d6f78" stroke-width="1.2" />
<rect x="196.0" y="2284.0" width="26.0" height="12.0" fill="#b4b6c2" stroke="#777a86" stroke-width="1" rx="3"/>
<rect x="346.0" y="2322.0" width="26.0" height="12.0" fill="#b4b6c2" stroke="#777a86" stroke-width="1" rx="3"/>
<rect x="498.0" y="2284.0" width="26.0" height="12.0" fill="#b4b6c2" stroke="#777a86" stroke-width="1" rx="3"/>
<path d="M266,2110 L446,2066" fill="none" stroke="#6d6f7a" stroke-width="12" />
<path d="M266,2106 L446,2062" fill="none" stroke="#8b8d99" stroke-width="7" />
<rect x="254.0" y="2098.0" width="54.0" height="20.0" fill="#8b8d99" stroke="#55575f" stroke-width="1" rx="9" transform="rotate(-12 254 2098)"/>
<rect x="412.0" y="2060.0" width="54.0" height="20.0" fill="#8b8d99" stroke="#55575f" stroke-width="1" rx="4" transform="rotate(-12 412 2060)"/>
<polygon points="186.0,2122.0 263.0,2140.0 263.0,2281.0 186.0,2259.0" fill="#16171a" />
<polygon points="192.0,2151.0 254.0,2166.0 254.0,2254.0 192.0,2237.0" fill="#2e86c8" />
<polygon points="211.0,2159.0 234.0,2164.0 234.0,2188.0 211.0,2182.0" fill="#e8252a" />
<ellipse cx="203.0" cy="2188.0" rx="5.0" ry="5.5" fill="#111" />
<ellipse cx="203.0" cy="2214.0" rx="5.0" ry="5.5" fill="#111" />
<ellipse cx="241.0" cy="2198.0" rx="5.0" ry="5.5" fill="#111" />
<ellipse cx="241.0" cy="2224.0" rx="5.0" ry="5.5" fill="#111" />
<ellipse cx="241.0" cy="2172.0" rx="2.0" ry="2.0" fill="#e8252a" />
<polygon points="305.0,2158.0 326.0,2164.0 326.0,2210.0 305.0,2204.0" fill="#16171a" />
<polygon points="308.0,2168.0 322.0,2172.0 322.0,2202.0 308.0,2198.0" fill="#e8252a" />
<path d="M262,2226 Q300,2232 318,2250 Q330,2262 330,2280" fill="none" stroke="#26272c" stroke-width="10" />
<polygon points="283.0,2268.0 312.0,2262.0 340.0,2270.0 342.0,2306.0 316.0,2314.0 285.0,2304.0" fill="#3a3c44" stroke="#16171a" stroke-width="1.5" />
<polygon points="294.0,2276.0 328.0,2276.0 330.0,2300.0 296.0,2300.0" fill="#9a9ca8" />
<line x1="622.0" y1="2034.0" x2="513.4" y2="2059.1" stroke="#8aa4d6" stroke-width="1.6"  stroke-dasharray="8 3"/>
<polygon points="492.0,2064.0 512.3,2054.2 514.6,2063.9" fill="#2360c8" />
<line x1="484.0" y1="2016.0" x2="484.0" y2="2086.0" stroke="#222" stroke-width="1.2" />
<line x1="588.0" y1="2068.0" x2="588.0" y2="2082.0" stroke="#222" stroke-width="1.5" />
<polygon points="585.0,2084.0 591.0,2084.0 588.0,2094.0" fill="#222" />
<rect x="580.0" y="2104.0" width="22.0" height="8.0" fill="#9a9ca8" stroke="#555" stroke-width="1" rx="3"/>
<line x1="1002.0" y1="307.0" x2="1083.6" y2="326.8" stroke="#8aa4d6" stroke-width="1.6"  stroke-dasharray="5 3"/>
<polygon points="1105.0,332.0 1082.4,331.7 1084.8,322.0" fill="#2360c8" />
<line x1="1000.0" y1="396.0" x2="1086.7" y2="453.8" stroke="#8aa4d6" stroke-width="1.6"  stroke-dasharray="5 3"/>
<polygon points="1105.0,466.0 1083.9,458.0 1089.5,449.6" fill="#2360c8" />
<line x1="1000.0" y1="490.0" x2="1112.0" y2="540.9" stroke="#8aa4d6" stroke-width="1.6"  stroke-dasharray="5 3"/>
<polygon points="1132.0,550.0 1109.9,545.4 1114.0,536.3" fill="#2360c8" />
<line x1="1002.0" y1="580.0" x2="1089.6" y2="637.9" stroke="#8aa4d6" stroke-width="1.6"  stroke-dasharray="5 3"/>
<polygon points="1108.0,650.0 1086.9,642.0 1092.4,633.7" fill="#2360c8" />
<line x1="706.0" y1="942.0" x2="773.9" y2="903.0" stroke="#8aa4d6" stroke-width="1.6"  stroke-dasharray="5 3"/>
<polygon points="793.0,892.0 776.4,907.3 771.4,898.6" fill="#2360c8" />
<line x1="290.0" y1="1294.0" x2="206.5" y2="1119.8" stroke="#8aa4d6" stroke-width="1.6"  stroke-dasharray="5 3"/>
<polygon points="197.0,1100.0 211.0,1117.7 202.0,1122.0" fill="#2360c8" />
<line x1="440.0" y1="1344.0" x2="409.1" y2="1276.0" stroke="#8aa4d6" stroke-width="1.6"  stroke-dasharray="5 3"/>
<polygon points="400.0,1256.0 413.7,1274.0 404.6,1278.1" fill="#2360c8" />
<line x1="706.0" y1="1334.0" x2="751.9" y2="1302.5" stroke="#8aa4d6" stroke-width="1.6"  stroke-dasharray="5 3"/>
<polygon points="770.0,1290.0 754.7,1306.6 749.0,1298.3" fill="#2360c8" />
<line x1="816.0" y1="1355.0" x2="963.9" y2="1289.0" stroke="#8aa4d6" stroke-width="1.6"  stroke-dasharray="5 3"/>
<polygon points="984.0,1280.0 965.9,1293.5 961.9,1284.4" fill="#2360c8" />
<line x1="818.0" y1="1440.0" x2="885.4" y2="1405.9" stroke="#8aa4d6" stroke-width="1.6"  stroke-dasharray="5 3"/>
<polygon points="905.0,1396.0 887.6,1410.4 883.1,1401.5" fill="#2360c8" />
<line x1="1500.0" y1="1456.0" x2="1399.8" y2="1383.0" stroke="#8aa4d6" stroke-width="1.6"  stroke-dasharray="5 3"/>
<polygon points="1382.0,1370.0 1402.7,1378.9 1396.8,1387.0" fill="#2360c8" />
<line x1="966.0" y1="1530.0" x2="1039.3" y2="1611.6" stroke="#8aa4d6" stroke-width="1.6"  stroke-dasharray="5 3"/>
<polygon points="1054.0,1628.0 1035.6,1615.0 1043.0,1608.3" fill="#2360c8" />
<line x1="318.0" y1="1796.0" x2="376.7" y2="1735.8" stroke="#8aa4d6" stroke-width="1.6"  stroke-dasharray="5 3"/>
<polygon points="392.0,1720.0 380.2,1739.3 373.1,1732.3" fill="#2360c8" />
<line x1="470.0" y1="1962.0" x2="498.1" y2="1918.5" stroke="#8aa4d6" stroke-width="1.6"  stroke-dasharray="5 3"/>
<polygon points="510.0,1900.0 502.3,1921.2 493.9,1915.8" fill="#2360c8" />
<line x1="1040.0" y1="1966.0" x2="1138.5" y2="1944.7" stroke="#8aa4d6" stroke-width="1.6"  stroke-dasharray="5 3"/>
<polygon points="1160.0,1940.0 1139.6,1949.5 1137.4,1939.8" fill="#2360c8" />
<line x1="1040.0" y1="2036.0" x2="1201.1" y2="1982.0" stroke="#8aa4d6" stroke-width="1.6"  stroke-dasharray="5 3"/>
<polygon points="1222.0,1975.0 1202.7,1986.7 1199.6,1977.3" fill="#2360c8" />
<line x1="1716.0" y1="1670.0" x2="1594.2" y2="1813.2" stroke="#8aa4d6" stroke-width="1.6"  stroke-dasharray="5 3"/>
<polygon points="1580.0,1830.0 1590.4,1810.0 1598.1,1816.5" fill="#2360c8" />
<line x1="1676.0" y1="1778.0" x2="1642.6" y2="1826.0" stroke="#8aa4d6" stroke-width="1.6"  stroke-dasharray="5 3"/>
<polygon points="1630.0,1844.0 1638.5,1823.1 1646.7,1828.8" fill="#2360c8" />
<line x1="1742.0" y1="1780.0" x2="1683.1" y2="1842.0" stroke="#8aa4d6" stroke-width="1.6"  stroke-dasharray="5 3"/>
<polygon points="1668.0,1858.0 1679.5,1838.6 1686.8,1845.5" fill="#2360c8" />
<line x1="1819.0" y1="1727.0" x2="1712.6" y2="1847.5" stroke="#8aa4d6" stroke-width="1.6"  stroke-dasharray="5 3"/>
<polygon points="1698.0,1864.0 1708.8,1844.2 1716.3,1850.8" fill="#2360c8" />
<line x1="1823.0" y1="1795.0" x2="1772.0" y2="1849.9" stroke="#8aa4d6" stroke-width="1.6"  stroke-dasharray="5 3"/>
<polygon points="1757.0,1866.0 1768.3,1846.5 1775.6,1853.3" fill="#2360c8" />
<line x1="1987.0" y1="1784.0" x2="1977.7" y2="1858.2" stroke="#8aa4d6" stroke-width="1.6"  stroke-dasharray="5 3"/>
<polygon points="1975.0,1880.0 1972.8,1857.5 1982.7,1858.8" fill="#2360c8" />
<line x1="2516.0" y1="1812.0" x2="2431.3" y2="1834.4" stroke="#8aa4d6" stroke-width="1.6"  stroke-dasharray="5 3"/>
<polygon points="2410.0,1840.0 2430.0,1829.5 2432.5,1839.2" fill="#2360c8" />
<line x1="2600.0" y1="1888.0" x2="2557.5" y2="1920.6" stroke="#8aa4d6" stroke-width="1.6"  stroke-dasharray="5 3"/>
<polygon points="2540.0,1934.0 2554.4,1916.6 2560.5,1924.6" fill="#2360c8" />
<line x1="2650.0" y1="2022.0" x2="2701.6" y2="2081.4" stroke="#8aa4d6" stroke-width="1.6"  stroke-dasharray="5 3"/>
<polygon points="2716.0,2098.0 2697.8,2084.7 2705.4,2078.1" fill="#2360c8" />
<line x1="2232.0" y1="1968.0" x2="2208.9" y2="2000.1" stroke="#8aa4d6" stroke-width="1.6"  stroke-dasharray="5 3"/>
<polygon points="2196.0,2018.0 2204.8,1997.2 2212.9,2003.1" fill="#2360c8" />
<line x1="1782.0" y1="2245.0" x2="1800.2" y2="2141.7" stroke="#8aa4d6" stroke-width="1.6"  stroke-dasharray="5 3"/>
<polygon points="1804.0,2120.0 1805.1,2142.5 1795.3,2140.8" fill="#2360c8" />
<line x1="1860.0" y1="2247.0" x2="1882.7" y2="2099.7" stroke="#8aa4d6" stroke-width="1.6"  stroke-dasharray="5 3"/>
<polygon points="1886.0,2078.0 1887.6,2100.5 1877.7,2099.0" fill="#2360c8" />
<line x1="1692.0" y1="2248.0" x2="1651.7" y2="2121.0" stroke="#8aa4d6" stroke-width="1.6"  stroke-dasharray="5 3"/>
<polygon points="1645.0,2100.0 1656.4,2119.5 1646.9,2122.5" fill="#2360c8" />
<line x1="1982.0" y1="2318.0" x2="1955.9" y2="2173.6" stroke="#8aa4d6" stroke-width="1.6"  stroke-dasharray="5 3"/>
<polygon points="1952.0,2152.0 1960.8,2172.8 1951.0,2174.5" fill="#2360c8" />
<line x1="2240.0" y1="2314.0" x2="2277.0" y2="2263.7" stroke="#8aa4d6" stroke-width="1.6"  stroke-dasharray="5 3"/>
<polygon points="2290.0,2246.0 2281.0,2266.7 2272.9,2260.8" fill="#2360c8" />
<line x1="2308.0" y1="2318.0" x2="2344.1" y2="2283.2" stroke="#8aa4d6" stroke-width="1.6"  stroke-dasharray="5 3"/>
<polygon points="2360.0,2268.0 2347.6,2286.9 2340.7,2279.6" fill="#2360c8" />
<line x1="2582.0" y1="2327.0" x2="2599.5" y2="2243.5" stroke="#8aa4d6" stroke-width="1.6"  stroke-dasharray="5 3"/>
<polygon points="2604.0,2222.0 2604.4,2244.6 2594.6,2242.5" fill="#2360c8" />
<line x1="2656.0" y1="2296.0" x2="2672.8" y2="2286.7" stroke="#8aa4d6" stroke-width="1.6"  stroke-dasharray="5 3"/>
<polygon points="2692.0,2276.0 2675.2,2291.1 2670.3,2282.3" fill="#2360c8" />
<line x1="2404.0" y1="1750.0" x2="2310.5" y2="1713.9" stroke="#8aa4d6" stroke-width="1.6"  stroke-dasharray="5 3"/>
<polygon points="2290.0,1706.0 2312.3,1709.3 2308.7,1718.6" fill="#2360c8" />
<line x1="2410.0" y1="1744.0" x2="2372.7" y2="1702.4" stroke="#8aa4d6" stroke-width="1.6"  stroke-dasharray="5 3"/>
<polygon points="2358.0,1686.0 2376.4,1699.0 2369.0,1705.7" fill="#2360c8" />
<line x1="2490.0" y1="1646.0" x2="2434.5" y2="1582.6" stroke="#8aa4d6" stroke-width="1.6"  stroke-dasharray="5 3"/>
<polygon points="2420.0,1566.0 2438.2,1579.3 2430.7,1585.8" fill="#2360c8" />
<line x1="2504.0" y1="1644.0" x2="2513.6" y2="1555.9" stroke="#8aa4d6" stroke-width="1.6"  stroke-dasharray="5 3"/>
<polygon points="2516.0,1534.0 2518.6,1556.4 2508.6,1555.3" fill="#2360c8" />
<line x1="2656.0" y1="1610.0" x2="2548.8" y2="1545.4" stroke="#8aa4d6" stroke-width="1.6"  stroke-dasharray="5 3"/>
<polygon points="2530.0,1534.0 2551.4,1541.1 2546.3,1549.6" fill="#2360c8" />
<line x1="2130.0" y1="1548.0" x2="2223.5" y2="1584.1" stroke="#8aa4d6" stroke-width="1.6"  stroke-dasharray="5 3"/>
<polygon points="2244.0,1592.0 2221.7,1588.7 2225.3,1579.4" fill="#2360c8" />
<line x1="2040.0" y1="1363.0" x2="2065.1" y2="1419.9" stroke="#8aa4d6" stroke-width="1.6"  stroke-dasharray="5 3"/>
<polygon points="2074.0,1440.0 2060.5,1421.9 2069.7,1417.9" fill="#2360c8" />
<line x1="2052.0" y1="1356.0" x2="2152.5" y2="1407.9" stroke="#8aa4d6" stroke-width="1.6"  stroke-dasharray="5 3"/>
<polygon points="2172.0,1418.0 2150.2,1412.3 2154.7,1403.5" fill="#2360c8" />
<line x1="2170.0" y1="1358.0" x2="2186.6" y2="1385.2" stroke="#8aa4d6" stroke-width="1.6"  stroke-dasharray="5 3"/>
<polygon points="2198.0,1404.0 2182.3,1387.8 2190.8,1382.6" fill="#2360c8" />
<line x1="2180.0" y1="1346.0" x2="2269.1" y2="1375.2" stroke="#8aa4d6" stroke-width="1.6"  stroke-dasharray="5 3"/>
<polygon points="2290.0,1382.0 2267.5,1379.9 2270.6,1370.4" fill="#2360c8" />
<line x1="2540.0" y1="1354.0" x2="2507.0" y2="1411.0" stroke="#8aa4d6" stroke-width="1.6"  stroke-dasharray="5 3"/>
<polygon points="2496.0,1430.0 2502.7,1408.5 2511.3,1413.5" fill="#2360c8" />
<line x1="2560.0" y1="1356.0" x2="2525.7" y2="1426.2" stroke="#8aa4d6" stroke-width="1.6"  stroke-dasharray="5 3"/>
<polygon points="2516.0,1446.0 2521.2,1424.0 2530.2,1428.4" fill="#2360c8" />
<line x1="2636.0" y1="1290.0" x2="2578.0" y2="1439.5" stroke="#8aa4d6" stroke-width="1.6"  stroke-dasharray="5 3"/>
<polygon points="2570.0,1460.0 2573.3,1437.7 2582.6,1441.3" fill="#2360c8" />
<line x1="2668.0" y1="1356.0" x2="2619.8" y2="1452.3" stroke="#8aa4d6" stroke-width="1.6"  stroke-dasharray="5 3"/>
<polygon points="2610.0,1472.0 2615.4,1450.1 2624.3,1454.6" fill="#2360c8" />
<line x1="1921.0" y1="1784.0" x2="1921.0" y2="1930.0" stroke="#8aa4d6" stroke-width="1.5" />
<polygon points="676.0,464.0 690.0,450.0 694.0,456.0" fill="#2360c8" />
<polygon points="1856.0,920.0 1842.0,906.0 1848.0,903.0" fill="#2360c8" />
<line x1="1632.0" y1="1636.0" x2="1556.0" y2="1668.0" stroke="#8aa4d6" stroke-width="1.5" />
<line x1="1740.0" y1="905.0" x2="1790.0" y2="962.0" stroke="#b0b8cc" stroke-width="1.5" stroke-dasharray="4 3"/>
<circle cx="704.0" cy="317.0" r="26" fill="#fff" stroke="#2b3b8f" stroke-width="1.6"/>
<text x="704.0" y="328.0" class="lb">54</text>
<circle cx="977.0" cy="300.0" r="26" fill="#fff" stroke="#2b3b8f" stroke-width="1.6"/>
<text x="977.0" y="311.0" class="lb">43</text>
<circle cx="977.0" cy="383.0" r="26" fill="#fff" stroke="#2b3b8f" stroke-width="1.6"/>
<text x="977.0" y="394.0" class="lb">42</text>
<circle cx="977.0" cy="477.0" r="26" fill="#fff" stroke="#2b3b8f" stroke-width="1.6"/>
<text x="977.0" y="488.0" class="lb">41</text>
<circle cx="981.0" cy="563.0" r="26" fill="#fff" stroke="#2b3b8f" stroke-width="1.6"/>
<text x="981.0" y="574.0" class="lb">40</text>
<circle cx="815.0" cy="644.0" r="26" fill="#fff" stroke="#2b3b8f" stroke-width="1.6"/>
<text x="815.0" y="655.0" class="lb">1</text>
<circle cx="267.0" cy="713.0" r="26" fill="#fff" stroke="#2b3b8f" stroke-width="1.6"/>
<text x="267.0" y="724.0" class="lb">44</text>
<circle cx="689.0" cy="961.0" r="26" fill="#fff" stroke="#2b3b8f" stroke-width="1.6"/>
<text x="689.0" y="972.0" class="lb">39</text>
<circle cx="296.0" cy="1319.0" r="26" fill="#fff" stroke="#2b3b8f" stroke-width="1.6"/>
<text x="296.0" y="1330.0" class="lb">46</text>
<circle cx="451.0" cy="1368.0" r="26" fill="#fff" stroke="#2b3b8f" stroke-width="1.6"/>
<text x="451.0" y="1379.0" class="lb">45</text>
<circle cx="685.0" cy="1347.0" r="26" fill="#fff" stroke="#2b3b8f" stroke-width="1.6"/>
<text x="685.0" y="1358.0" class="lb">38</text>
<circle cx="795.0" cy="1369.0" r="26" fill="#fff" stroke="#2b3b8f" stroke-width="1.6"/>
<text x="795.0" y="1380.0" class="lb">37</text>
<circle cx="795.0" cy="1453.0" r="26" fill="#fff" stroke="#2b3b8f" stroke-width="1.6"/>
<text x="795.0" y="1464.0" class="lb">36</text>
<circle cx="1514.0" cy="1478.0" r="26" fill="#fff" stroke="#2b3b8f" stroke-width="1.6"/>
<text x="1514.0" y="1489.0" class="lb">35</text>
<circle cx="1444.0" cy="1135.0" r="26" fill="#fff" stroke="#2b3b8f" stroke-width="1.6"/>
<text x="1444.0" y="1146.0" class="lb">60</text>
<circle cx="1513.0" cy="1309.0" r="26" fill="#fff" stroke="#2b3b8f" stroke-width="1.6"/>
<text x="1513.0" y="1320.0" class="lb">16</text>
<circle cx="1573.0" cy="1309.0" r="26" fill="#fff" stroke="#2b3b8f" stroke-width="1.6"/>
<text x="1573.0" y="1320.0" class="lb">15</text>
<circle cx="1712.0" cy="882.0" r="26" fill="#fff" stroke="#2b3b8f" stroke-width="1.6"/>
<text x="1712.0" y="893.0" class="lb">4</text>
<circle cx="1721.0" cy="965.0" r="26" fill="#fff" stroke="#2b3b8f" stroke-width="1.6"/>
<text x="1721.0" y="976.0" class="lb">3</text>
<circle cx="2486.0" cy="727.0" r="26" fill="#fff" stroke="#2b3b8f" stroke-width="1.6"/>
<text x="2486.0" y="738.0" class="lb">57</text>
<circle cx="2649.0" cy="1267.0" r="26" fill="#fff" stroke="#2b3b8f" stroke-width="1.6"/>
<text x="2649.0" y="1278.0" class="lb">12</text>
<circle cx="2550.0" cy="1330.0" r="26" fill="#fff" stroke="#2b3b8f" stroke-width="1.6"/>
<text x="2550.0" y="1341.0" class="lb">13</text>
<circle cx="2675.0" cy="1330.0" r="26" fill="#fff" stroke="#2b3b8f" stroke-width="1.6"/>
<text x="2675.0" y="1341.0" class="lb">11</text>
<circle cx="2035.0" cy="1337.0" r="26" fill="#fff" stroke="#2b3b8f" stroke-width="1.6"/>
<text x="2035.0" y="1348.0" class="lb">9</text>
<circle cx="2157.0" cy="1337.0" r="26" fill="#fff" stroke="#2b3b8f" stroke-width="1.6"/>
<text x="2157.0" y="1348.0" class="lb">10</text>
<circle cx="2105.0" cy="1540.0" r="26" fill="#fff" stroke="#2b3b8f" stroke-width="1.6"/>
<text x="2105.0" y="1551.0" class="lb">5</text>
<circle cx="2672.0" cy="1630.0" r="26" fill="#fff" stroke="#2b3b8f" stroke-width="1.6"/>
<text x="2672.0" y="1641.0" class="lb">8</text>
<circle cx="2500.0" cy="1670.0" r="26" fill="#fff" stroke="#2b3b8f" stroke-width="1.6"/>
<text x="2500.0" y="1681.0" class="lb">7</text>
<circle cx="2423.0" cy="1764.0" r="26" fill="#fff" stroke="#2b3b8f" stroke-width="1.6"/>
<text x="2423.0" y="1775.0" class="lb">6</text>
<circle cx="869.0" cy="1510.0" r="26" fill="#fff" stroke="#2b3b8f" stroke-width="1.6"/>
<text x="869.0" y="1521.0" class="lb">59</text>
<circle cx="951.0" cy="1508.0" r="26" fill="#fff" stroke="#2b3b8f" stroke-width="1.6"/>
<text x="951.0" y="1519.0" class="lb">2</text>
<circle cx="1120.0" cy="1525.0" r="26" fill="#fff" stroke="#2b3b8f" stroke-width="1.6"/>
<text x="1120.0" y="1536.0" class="lb">52</text>
<circle cx="1655.0" cy="1625.0" r="26" fill="#fff" stroke="#2b3b8f" stroke-width="1.6"/>
<text x="1655.0" y="1636.0" class="lb">34</text>
<circle cx="1530.0" cy="1659.0" r="26" fill="#fff" stroke="#2b3b8f" stroke-width="1.6"/>
<text x="1530.0" y="1670.0" class="lb">58</text>
<circle cx="1732.0" cy="1650.0" r="26" fill="#fff" stroke="#2b3b8f" stroke-width="1.6"/>
<text x="1732.0" y="1661.0" class="lb">53</text>
<circle cx="1691.0" cy="1757.0" r="26" fill="#fff" stroke="#2b3b8f" stroke-width="1.6"/>
<text x="1691.0" y="1768.0" class="lb">33</text>
<circle cx="1753.0" cy="1757.0" r="26" fill="#fff" stroke="#2b3b8f" stroke-width="1.6"/>
<text x="1753.0" y="1768.0" class="lb">32</text>
<circle cx="1921.0" cy="1758.0" r="26" fill="#fff" stroke="#2b3b8f" stroke-width="1.6"/>
<text x="1921.0" y="1769.0" class="lb">30</text>
<circle cx="1987.0" cy="1758.0" r="26" fill="#fff" stroke="#2b3b8f" stroke-width="1.6"/>
<text x="1987.0" y="1769.0" class="lb">29</text>
<circle cx="2541.0" cy="1805.0" r="26" fill="#fff" stroke="#2b3b8f" stroke-width="1.6"/>
<text x="2541.0" y="1816.0" class="lb">17</text>
<circle cx="2617.0" cy="1868.0" r="26" fill="#fff" stroke="#2b3b8f" stroke-width="1.6"/>
<text x="2617.0" y="1879.0" class="lb">18</text>
<circle cx="2638.0" cy="1999.0" r="26" fill="#fff" stroke="#2b3b8f" stroke-width="1.6"/>
<text x="2638.0" y="2010.0" class="lb">19</text>
<circle cx="2239.0" cy="1943.0" r="26" fill="#fff" stroke="#2b3b8f" stroke-width="1.6"/>
<text x="2239.0" y="1954.0" class="lb">52</text>
<circle cx="301.0" cy="1816.0" r="26" fill="#fff" stroke="#2b3b8f" stroke-width="1.6"/>
<text x="301.0" y="1827.0" class="lb">47</text>
<circle cx="455.0" cy="1982.0" r="26" fill="#fff" stroke="#2b3b8f" stroke-width="1.6"/>
<text x="455.0" y="1993.0" class="lb">48</text>
<circle cx="648.0" cy="2028.0" r="26" fill="#fff" stroke="#2b3b8f" stroke-width="1.6"/>
<text x="648.0" y="2039.0" class="lb">56</text>
<circle cx="1015.0" cy="1968.0" r="26" fill="#fff" stroke="#2b3b8f" stroke-width="1.6"/>
<text x="1015.0" y="1979.0" class="lb">50</text>
<circle cx="1015.0" cy="2043.0" r="26" fill="#fff" stroke="#2b3b8f" stroke-width="1.6"/>
<text x="1015.0" y="2054.0" class="lb">51</text>
<circle cx="1696.0" cy="2275.0" r="26" fill="#fff" stroke="#2b3b8f" stroke-width="1.6"/>
<text x="1696.0" y="2286.0" class="lb">28</text>
<circle cx="1778.0" cy="2271.0" r="26" fill="#fff" stroke="#2b3b8f" stroke-width="1.6"/>
<text x="1778.0" y="2282.0" class="lb">27</text>
<circle cx="1858.0" cy="2273.0" r="26" fill="#fff" stroke="#2b3b8f" stroke-width="1.6"/>
<text x="1858.0" y="2284.0" class="lb">26</text>
<circle cx="1986.0" cy="2343.0" r="26" fill="#fff" stroke="#2b3b8f" stroke-width="1.6"/>
<text x="1986.0" y="2354.0" class="lb">25</text>
<circle cx="2070.0" cy="2338.0" r="26" fill="#fff" stroke="#2b3b8f" stroke-width="1.6"/>
<text x="2070.0" y="2349.0" class="lb">24</text>
<circle cx="2228.0" cy="2338.0" r="26" fill="#fff" stroke="#2b3b8f" stroke-width="1.6"/>
<text x="2228.0" y="2349.0" class="lb">23</text>
<circle cx="2293.0" cy="2338.0" r="26" fill="#fff" stroke="#2b3b8f" stroke-width="1.6"/>
<text x="2293.0" y="2349.0" class="lb">22</text>
<circle cx="2579.0" cy="2353.0" r="26" fill="#fff" stroke="#2b3b8f" stroke-width="1.6"/>
<text x="2579.0" y="2364.0" class="lb">21</text>
<circle cx="2634.0" cy="2305.0" r="26" fill="#fff" stroke="#2b3b8f" stroke-width="1.6"/>
<text x="2634.0" y="2316.0" class="lb">20</text></svg></body></html>
